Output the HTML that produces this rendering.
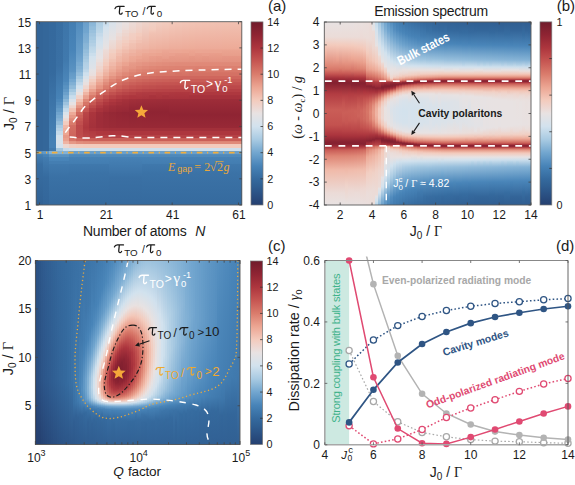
<!DOCTYPE html><html><head><meta charset="utf-8"><style>html,body{margin:0;padding:0;background:#fff;width:575px;height:485px;overflow:hidden}svg{display:block}</style></head><body><svg width="575" height="485" viewBox="0 0 575 485"><rect width="575" height="485" fill="#fff"/><defs><linearGradient id="g0" x1="0" y1="0" x2="0" y2="1"><stop offset=".000" stop-color="#336598"/><stop offset=".703" stop-color="#336598"/><stop offset=".706" stop-color="#5992c1"/><stop offset=".722" stop-color="#5992c1"/><stop offset=".725" stop-color="#437eb2"/><stop offset=".779" stop-color="#386ea2"/><stop offset="1.000" stop-color="#316295"/></linearGradient><linearGradient id="g1" x1="0" y1="0" x2="0" y2="1"><stop offset=".000" stop-color="#34679a"/><stop offset=".703" stop-color="#34679a"/><stop offset=".706" stop-color="#6198c6"/><stop offset=".722" stop-color="#6198c6"/><stop offset=".725" stop-color="#4783b7"/><stop offset=".738" stop-color="#4783b7"/><stop offset=".741" stop-color="#427cb0"/><stop offset=".850" stop-color="#366b9f"/><stop offset="1.000" stop-color="#33669a"/></linearGradient><linearGradient id="g2" x1="0" y1="0" x2="0" y2="1"><stop offset=".000" stop-color="#35699d"/><stop offset=".275" stop-color="#356a9e"/><stop offset=".654" stop-color="#4681b5"/><stop offset=".687" stop-color="#4681b5"/><stop offset=".689" stop-color="#417aae"/><stop offset=".703" stop-color="#417aae"/><stop offset=".706" stop-color="#84b2d5"/><stop offset=".722" stop-color="#84b2d5"/><stop offset=".725" stop-color="#5992c1"/><stop offset=".738" stop-color="#5992c1"/><stop offset=".741" stop-color="#4985b9"/><stop offset=".757" stop-color="#4985b9"/><stop offset=".760" stop-color="#447eb2"/><stop offset=".777" stop-color="#447eb2"/><stop offset=".779" stop-color="#4079ad"/><stop offset=".850" stop-color="#3a71a5"/><stop offset="1.000" stop-color="#356a9e"/></linearGradient><linearGradient id="g3" x1="0" y1="0" x2="0" y2="1"><stop offset=".000" stop-color="#386ea2"/><stop offset=".240" stop-color="#3a70a4"/><stop offset=".420" stop-color="#4783b7"/><stop offset=".422" stop-color="#4c87ba"/><stop offset=".436" stop-color="#4c87ba"/><stop offset=".439" stop-color="#538dbe"/><stop offset=".455" stop-color="#538dbe"/><stop offset=".458" stop-color="#5b93c2"/><stop offset=".471" stop-color="#5b93c2"/><stop offset=".474" stop-color="#649bc7"/><stop offset=".490" stop-color="#649bc7"/><stop offset=".493" stop-color="#70a4ce"/><stop offset=".507" stop-color="#70a4ce"/><stop offset=".510" stop-color="#79abd1"/><stop offset=".526" stop-color="#79abd1"/><stop offset=".529" stop-color="#85b2d6"/><stop offset=".542" stop-color="#85b2d6"/><stop offset=".545" stop-color="#94bddb"/><stop offset=".561" stop-color="#94bddb"/><stop offset=".564" stop-color="#a8cae2"/><stop offset=".578" stop-color="#a8cae2"/><stop offset=".580" stop-color="#b5d1e6"/><stop offset=".597" stop-color="#b5d1e6"/><stop offset=".599" stop-color="#c4daea"/><stop offset=".616" stop-color="#c4daea"/><stop offset=".619" stop-color="#d3e2ed"/><stop offset=".668" stop-color="#dbe2e9"/><stop offset=".670" stop-color="#d3e2ee"/><stop offset=".687" stop-color="#d3e2ee"/><stop offset=".689" stop-color="#a3c7e0"/><stop offset=".703" stop-color="#a3c7e0"/><stop offset=".706" stop-color="#84b2d5"/><stop offset=".722" stop-color="#84b2d5"/><stop offset=".725" stop-color="#5992c1"/><stop offset=".738" stop-color="#5992c1"/><stop offset=".741" stop-color="#4985b9"/><stop offset=".757" stop-color="#4985b9"/><stop offset=".760" stop-color="#447eb2"/><stop offset=".777" stop-color="#447eb2"/><stop offset=".779" stop-color="#4079ad"/><stop offset=".850" stop-color="#3a71a5"/><stop offset="1.000" stop-color="#356a9e"/></linearGradient><linearGradient id="g4" x1="0" y1="0" x2="0" y2="1"><stop offset=".000" stop-color="#3d75a9"/><stop offset=".204" stop-color="#4079ad"/><stop offset=".330" stop-color="#4c87ba"/><stop offset=".332" stop-color="#528cbd"/><stop offset=".346" stop-color="#528cbd"/><stop offset=".349" stop-color="#5992c1"/><stop offset=".365" stop-color="#5992c1"/><stop offset=".368" stop-color="#6198c6"/><stop offset=".381" stop-color="#6198c6"/><stop offset=".384" stop-color="#6ba0cb"/><stop offset=".401" stop-color="#6ba0cb"/><stop offset=".403" stop-color="#78aad1"/><stop offset=".420" stop-color="#78aad1"/><stop offset=".422" stop-color="#8ab6d7"/><stop offset=".436" stop-color="#8ab6d7"/><stop offset=".439" stop-color="#9dc2de"/><stop offset=".455" stop-color="#9dc2de"/><stop offset=".458" stop-color="#b1cfe4"/><stop offset=".471" stop-color="#b1cfe4"/><stop offset=".474" stop-color="#c6dbeb"/><stop offset=".490" stop-color="#c6dbeb"/><stop offset=".493" stop-color="#d9e2ea"/><stop offset=".507" stop-color="#d9e2ea"/><stop offset=".510" stop-color="#e4e2e4"/><stop offset=".526" stop-color="#e4e2e4"/><stop offset=".529" stop-color="#ecd9d3"/><stop offset=".542" stop-color="#ecd9d3"/><stop offset=".545" stop-color="#f3ccbf"/><stop offset=".561" stop-color="#f3ccbf"/><stop offset=".564" stop-color="#f0b9a9"/><stop offset=".578" stop-color="#f0b9a9"/><stop offset=".580" stop-color="#eeb09e"/><stop offset=".597" stop-color="#eeb09e"/><stop offset=".599" stop-color="#eca693"/><stop offset=".616" stop-color="#eca693"/><stop offset=".619" stop-color="#e79a88"/><stop offset=".632" stop-color="#e79a88"/><stop offset=".635" stop-color="#eaa08e"/><stop offset=".651" stop-color="#eaa08e"/><stop offset=".654" stop-color="#efb4a3"/><stop offset=".668" stop-color="#efb4a3"/><stop offset=".670" stop-color="#edd7d0"/><stop offset=".687" stop-color="#edd7d0"/><stop offset=".689" stop-color="#c5daea"/><stop offset=".703" stop-color="#c5daea"/><stop offset=".706" stop-color="#84b2d5"/><stop offset=".722" stop-color="#84b2d5"/><stop offset=".725" stop-color="#5992c1"/><stop offset=".738" stop-color="#5992c1"/><stop offset=".741" stop-color="#4985b9"/><stop offset=".757" stop-color="#4985b9"/><stop offset=".760" stop-color="#447eb2"/><stop offset=".777" stop-color="#447eb2"/><stop offset=".779" stop-color="#4079ad"/><stop offset=".850" stop-color="#3a71a5"/><stop offset="1.000" stop-color="#356a9e"/></linearGradient><linearGradient id="g5" x1="0" y1="0" x2="0" y2="1"><stop offset=".000" stop-color="#447eb2"/><stop offset=".150" stop-color="#4884b8"/><stop offset=".275" stop-color="#5b93c2"/><stop offset=".278" stop-color="#6299c6"/><stop offset=".311" stop-color="#6aa0cb"/><stop offset=".313" stop-color="#74a7d0"/><stop offset=".330" stop-color="#74a7d0"/><stop offset=".332" stop-color="#81b0d4"/><stop offset=".346" stop-color="#81b0d4"/><stop offset=".349" stop-color="#90bad9"/><stop offset=".365" stop-color="#90bad9"/><stop offset=".368" stop-color="#a3c7e0"/><stop offset=".381" stop-color="#a3c7e0"/><stop offset=".384" stop-color="#b5d2e6"/><stop offset=".401" stop-color="#b5d2e6"/><stop offset=".403" stop-color="#c9ddec"/><stop offset=".420" stop-color="#c9ddec"/><stop offset=".422" stop-color="#dae2ea"/><stop offset=".436" stop-color="#dae2ea"/><stop offset=".439" stop-color="#e6e2e3"/><stop offset=".455" stop-color="#e6e2e3"/><stop offset=".458" stop-color="#eed5cd"/><stop offset=".471" stop-color="#eed5cd"/><stop offset=".474" stop-color="#f1c3b4"/><stop offset=".490" stop-color="#f1c3b4"/><stop offset=".493" stop-color="#edaa98"/><stop offset=".507" stop-color="#edaa98"/><stop offset=".510" stop-color="#e79a88"/><stop offset=".526" stop-color="#e79a88"/><stop offset=".529" stop-color="#e08a79"/><stop offset=".542" stop-color="#e08a79"/><stop offset=".545" stop-color="#d97b6b"/><stop offset=".561" stop-color="#d97b6b"/><stop offset=".564" stop-color="#d36e63"/><stop offset=".632" stop-color="#cd635b"/><stop offset=".635" stop-color="#d67567"/><stop offset=".651" stop-color="#d67567"/><stop offset=".654" stop-color="#e69886"/><stop offset=".668" stop-color="#e69886"/><stop offset=".670" stop-color="#f1cec2"/><stop offset=".687" stop-color="#f1cec2"/><stop offset=".689" stop-color="#cbdeec"/><stop offset=".703" stop-color="#cbdeec"/><stop offset=".706" stop-color="#6a9fca"/><stop offset=".722" stop-color="#6a9fca"/><stop offset=".725" stop-color="#4e89bb"/><stop offset=".738" stop-color="#4e89bb"/><stop offset=".741" stop-color="#4681b5"/><stop offset=".777" stop-color="#437db1"/><stop offset=".779" stop-color="#3f78ac"/><stop offset=".831" stop-color="#3b72a6"/><stop offset="1.000" stop-color="#356a9e"/></linearGradient><linearGradient id="g6" x1="0" y1="0" x2="0" y2="1"><stop offset=".000" stop-color="#518bbd"/><stop offset=".169" stop-color="#679dc9"/><stop offset=".221" stop-color="#74a7d0"/><stop offset=".223" stop-color="#7aabd2"/><stop offset=".240" stop-color="#7aabd2"/><stop offset=".243" stop-color="#81b0d4"/><stop offset=".259" stop-color="#81b0d4"/><stop offset=".262" stop-color="#89b5d7"/><stop offset=".275" stop-color="#89b5d7"/><stop offset=".278" stop-color="#96bedc"/><stop offset=".294" stop-color="#96bedc"/><stop offset=".297" stop-color="#a6c9e1"/><stop offset=".311" stop-color="#a6c9e1"/><stop offset=".313" stop-color="#b4d1e5"/><stop offset=".330" stop-color="#b4d1e5"/><stop offset=".332" stop-color="#c3d9ea"/><stop offset=".346" stop-color="#c3d9ea"/><stop offset=".349" stop-color="#d2e2ee"/><stop offset=".365" stop-color="#d2e2ee"/><stop offset=".368" stop-color="#dee2e8"/><stop offset=".381" stop-color="#dee2e8"/><stop offset=".384" stop-color="#e9e0de"/><stop offset=".401" stop-color="#e9e0de"/><stop offset=".403" stop-color="#f0d2c8"/><stop offset=".420" stop-color="#f0d2c8"/><stop offset=".422" stop-color="#f1bfaf"/><stop offset=".436" stop-color="#f1bfaf"/><stop offset=".439" stop-color="#edab98"/><stop offset=".455" stop-color="#edab98"/><stop offset=".458" stop-color="#e49483"/><stop offset=".471" stop-color="#e49483"/><stop offset=".474" stop-color="#db7d6d"/><stop offset=".490" stop-color="#db7d6d"/><stop offset=".493" stop-color="#d0695f"/><stop offset=".507" stop-color="#d0695f"/><stop offset=".510" stop-color="#cb5f58"/><stop offset=".526" stop-color="#cb5f58"/><stop offset=".529" stop-color="#c65652"/><stop offset=".542" stop-color="#c65652"/><stop offset=".545" stop-color="#c14f4e"/><stop offset=".561" stop-color="#c14f4e"/><stop offset=".564" stop-color="#bc494a"/><stop offset=".616" stop-color="#be4b4b"/><stop offset=".632" stop-color="#c04f4d"/><stop offset=".635" stop-color="#cf665d"/><stop offset=".651" stop-color="#cf665d"/><stop offset=".654" stop-color="#e28e7d"/><stop offset=".668" stop-color="#e28e7d"/><stop offset=".670" stop-color="#f3ccbe"/><stop offset=".687" stop-color="#f3ccbe"/><stop offset=".689" stop-color="#ccdfec"/><stop offset=".703" stop-color="#ccdfec"/><stop offset=".706" stop-color="#6a9fca"/><stop offset=".722" stop-color="#6a9fca"/><stop offset=".725" stop-color="#4e89bb"/><stop offset=".738" stop-color="#4e89bb"/><stop offset=".741" stop-color="#4681b5"/><stop offset=".777" stop-color="#437db1"/><stop offset=".779" stop-color="#3f78ac"/><stop offset=".831" stop-color="#3b72a6"/><stop offset="1.000" stop-color="#356a9e"/></linearGradient><linearGradient id="g7" x1="0" y1="0" x2="0" y2="1"><stop offset=".000" stop-color="#699eca"/><stop offset=".060" stop-color="#72a6cf"/><stop offset=".063" stop-color="#77a9d1"/><stop offset=".114" stop-color="#81b0d4"/><stop offset=".117" stop-color="#87b4d6"/><stop offset=".150" stop-color="#8cb8d8"/><stop offset=".153" stop-color="#94bddb"/><stop offset=".169" stop-color="#94bddb"/><stop offset=".172" stop-color="#9bc1dd"/><stop offset=".185" stop-color="#9bc1dd"/><stop offset=".188" stop-color="#a2c6e0"/><stop offset=".204" stop-color="#a2c6e0"/><stop offset=".207" stop-color="#aacbe2"/><stop offset=".221" stop-color="#aacbe2"/><stop offset=".223" stop-color="#b1cfe5"/><stop offset=".259" stop-color="#b8d3e7"/><stop offset=".262" stop-color="#c1d8e9"/><stop offset=".275" stop-color="#c1d8e9"/><stop offset=".278" stop-color="#cfe0ed"/><stop offset=".294" stop-color="#cfe0ed"/><stop offset=".297" stop-color="#d9e2ea"/><stop offset=".311" stop-color="#d9e2ea"/><stop offset=".313" stop-color="#e2e2e5"/><stop offset=".330" stop-color="#e2e2e5"/><stop offset=".332" stop-color="#e9dfde"/><stop offset=".346" stop-color="#e9dfde"/><stop offset=".349" stop-color="#eed6cf"/><stop offset=".365" stop-color="#eed6cf"/><stop offset=".368" stop-color="#f3c9bb"/><stop offset=".381" stop-color="#f3c9bb"/><stop offset=".384" stop-color="#efb5a4"/><stop offset=".401" stop-color="#efb5a4"/><stop offset=".403" stop-color="#e9a08e"/><stop offset=".420" stop-color="#e9a08e"/><stop offset=".422" stop-color="#df8877"/><stop offset=".436" stop-color="#df8877"/><stop offset=".439" stop-color="#d77668"/><stop offset=".455" stop-color="#d77668"/><stop offset=".458" stop-color="#ce655c"/><stop offset=".471" stop-color="#ce655c"/><stop offset=".474" stop-color="#c55451"/><stop offset=".490" stop-color="#c55451"/><stop offset=".493" stop-color="#ba4648"/><stop offset=".578" stop-color="#ae373e"/><stop offset=".632" stop-color="#ba4748"/><stop offset=".635" stop-color="#cc6159"/><stop offset=".651" stop-color="#cc6159"/><stop offset=".654" stop-color="#e18b7a"/><stop offset=".668" stop-color="#e18b7a"/><stop offset=".670" stop-color="#f3cbbd"/><stop offset=".687" stop-color="#f3cbbd"/><stop offset=".689" stop-color="#cddfec"/><stop offset=".703" stop-color="#cddfec"/><stop offset=".706" stop-color="#6a9fca"/><stop offset=".722" stop-color="#6a9fca"/><stop offset=".725" stop-color="#4e89bb"/><stop offset=".738" stop-color="#4e89bb"/><stop offset=".741" stop-color="#4681b5"/><stop offset=".777" stop-color="#437db1"/><stop offset=".779" stop-color="#3f78ac"/><stop offset=".831" stop-color="#3b72a6"/><stop offset="1.000" stop-color="#356a9e"/></linearGradient><linearGradient id="g8" x1="0" y1="0" x2="0" y2="1"><stop offset=".000" stop-color="#89b5d7"/><stop offset=".025" stop-color="#8eb9d9"/><stop offset=".027" stop-color="#94bddb"/><stop offset=".044" stop-color="#94bddb"/><stop offset=".046" stop-color="#9ac1dd"/><stop offset=".060" stop-color="#9ac1dd"/><stop offset=".063" stop-color="#a1c5df"/><stop offset=".079" stop-color="#a1c5df"/><stop offset=".082" stop-color="#a7cae2"/><stop offset=".098" stop-color="#a7cae2"/><stop offset=".101" stop-color="#adcde3"/><stop offset=".114" stop-color="#adcde3"/><stop offset=".117" stop-color="#b3d0e5"/><stop offset=".134" stop-color="#b3d0e5"/><stop offset=".136" stop-color="#bbd5e7"/><stop offset=".169" stop-color="#c3daea"/><stop offset=".172" stop-color="#cbdeec"/><stop offset=".185" stop-color="#cbdeec"/><stop offset=".188" stop-color="#d2e2ee"/><stop offset=".259" stop-color="#dfe2e7"/><stop offset=".262" stop-color="#e5e2e4"/><stop offset=".294" stop-color="#eadedc"/><stop offset=".297" stop-color="#eed6cf"/><stop offset=".311" stop-color="#eed6cf"/><stop offset=".313" stop-color="#f2cec1"/><stop offset=".330" stop-color="#f2cec1"/><stop offset=".332" stop-color="#f1c2b2"/><stop offset=".346" stop-color="#f1c2b2"/><stop offset=".349" stop-color="#efb4a3"/><stop offset=".365" stop-color="#efb4a3"/><stop offset=".368" stop-color="#eaa18f"/><stop offset=".381" stop-color="#eaa18f"/><stop offset=".384" stop-color="#e18c7b"/><stop offset=".401" stop-color="#e18c7b"/><stop offset=".403" stop-color="#d87869"/><stop offset=".420" stop-color="#d87869"/><stop offset=".422" stop-color="#cd645c"/><stop offset=".436" stop-color="#cd645c"/><stop offset=".439" stop-color="#c65652"/><stop offset=".455" stop-color="#c65652"/><stop offset=".458" stop-color="#bc4a4a"/><stop offset=".471" stop-color="#bc4a4a"/><stop offset=".474" stop-color="#b33e43"/><stop offset=".490" stop-color="#b33e43"/><stop offset=".493" stop-color="#ab353d"/><stop offset=".578" stop-color="#a4313b"/><stop offset=".580" stop-color="#aa343d"/><stop offset=".597" stop-color="#aa343d"/><stop offset=".599" stop-color="#b13b41"/><stop offset=".632" stop-color="#b74346"/><stop offset=".635" stop-color="#cb5f58"/><stop offset=".651" stop-color="#cb5f58"/><stop offset=".654" stop-color="#e08a79"/><stop offset=".668" stop-color="#e08a79"/><stop offset=".670" stop-color="#f3cbbd"/><stop offset=".687" stop-color="#f3cbbd"/><stop offset=".689" stop-color="#cddfec"/><stop offset=".703" stop-color="#cddfec"/><stop offset=".706" stop-color="#6a9fca"/><stop offset=".722" stop-color="#6a9fca"/><stop offset=".725" stop-color="#4e89bb"/><stop offset=".738" stop-color="#4e89bb"/><stop offset=".741" stop-color="#4681b5"/><stop offset=".777" stop-color="#437db1"/><stop offset=".779" stop-color="#3f78ac"/><stop offset=".831" stop-color="#3b72a6"/><stop offset="1.000" stop-color="#356a9e"/></linearGradient><linearGradient id="g9" x1="0" y1="0" x2="0" y2="1"><stop offset=".000" stop-color="#adcde3"/><stop offset=".060" stop-color="#bed7e8"/><stop offset=".063" stop-color="#c5daea"/><stop offset=".079" stop-color="#c5daea"/><stop offset=".082" stop-color="#ccdeec"/><stop offset=".114" stop-color="#d2e2ee"/><stop offset=".150" stop-color="#dae2e9"/><stop offset=".153" stop-color="#e0e2e7"/><stop offset=".204" stop-color="#e7e2e3"/><stop offset=".207" stop-color="#e9dfdd"/><stop offset=".221" stop-color="#e9dfdd"/><stop offset=".223" stop-color="#ecdad6"/><stop offset=".240" stop-color="#ecdad6"/><stop offset=".243" stop-color="#eed6ce"/><stop offset=".259" stop-color="#eed6ce"/><stop offset=".262" stop-color="#f0d0c6"/><stop offset=".275" stop-color="#f0d0c6"/><stop offset=".278" stop-color="#f3c9bb"/><stop offset=".294" stop-color="#f3c9bb"/><stop offset=".297" stop-color="#f0bdad"/><stop offset=".311" stop-color="#f0bdad"/><stop offset=".313" stop-color="#eeb09e"/><stop offset=".330" stop-color="#eeb09e"/><stop offset=".332" stop-color="#eba390"/><stop offset=".346" stop-color="#eba390"/><stop offset=".349" stop-color="#e59583"/><stop offset=".365" stop-color="#e59583"/><stop offset=".368" stop-color="#dc8271"/><stop offset=".381" stop-color="#dc8271"/><stop offset=".384" stop-color="#d47064"/><stop offset=".401" stop-color="#d47064"/><stop offset=".403" stop-color="#ca5e58"/><stop offset=".420" stop-color="#ca5e58"/><stop offset=".422" stop-color="#c04e4d"/><stop offset=".436" stop-color="#c04e4d"/><stop offset=".439" stop-color="#b84447"/><stop offset=".455" stop-color="#b84447"/><stop offset=".458" stop-color="#b03a41"/><stop offset=".471" stop-color="#b03a41"/><stop offset=".474" stop-color="#a8333c"/><stop offset=".490" stop-color="#a8333c"/><stop offset=".493" stop-color="#a02e39"/><stop offset=".529" stop-color="#9e2d39"/><stop offset=".578" stop-color="#9f2d39"/><stop offset=".580" stop-color="#a6323c"/><stop offset=".597" stop-color="#a6323c"/><stop offset=".599" stop-color="#af383f"/><stop offset=".616" stop-color="#af383f"/><stop offset=".619" stop-color="#b64245"/><stop offset=".632" stop-color="#b64245"/><stop offset=".635" stop-color="#ca5e57"/><stop offset=".651" stop-color="#ca5e57"/><stop offset=".654" stop-color="#e08a79"/><stop offset=".668" stop-color="#e08a79"/><stop offset=".670" stop-color="#f3cbbd"/><stop offset=".687" stop-color="#f3cbbd"/><stop offset=".689" stop-color="#cddfec"/><stop offset=".703" stop-color="#cddfec"/><stop offset=".706" stop-color="#6a9fca"/><stop offset=".722" stop-color="#6a9fca"/><stop offset=".725" stop-color="#4e89bb"/><stop offset=".738" stop-color="#4e89bb"/><stop offset=".741" stop-color="#4681b5"/><stop offset=".777" stop-color="#437db1"/><stop offset=".779" stop-color="#3f78ac"/><stop offset=".831" stop-color="#3b72a6"/><stop offset="1.000" stop-color="#356a9e"/></linearGradient><linearGradient id="g10" x1="0" y1="0" x2="0" y2="1"><stop offset=".000" stop-color="#c7dceb"/><stop offset=".025" stop-color="#cddfed"/><stop offset=".027" stop-color="#d3e2ee"/><stop offset=".134" stop-color="#e5e2e3"/><stop offset=".150" stop-color="#e9e0df"/><stop offset=".153" stop-color="#ebdbd7"/><stop offset=".204" stop-color="#efd3cb"/><stop offset=".207" stop-color="#f1d0c4"/><stop offset=".221" stop-color="#f1d0c4"/><stop offset=".223" stop-color="#f3cbbd"/><stop offset=".240" stop-color="#f3cbbd"/><stop offset=".243" stop-color="#f2c3b4"/><stop offset=".259" stop-color="#f2c3b4"/><stop offset=".262" stop-color="#f0bbab"/><stop offset=".275" stop-color="#f0bbab"/><stop offset=".278" stop-color="#eeb2a0"/><stop offset=".294" stop-color="#eeb2a0"/><stop offset=".297" stop-color="#eca693"/><stop offset=".311" stop-color="#eca693"/><stop offset=".313" stop-color="#e69886"/><stop offset=".330" stop-color="#e69886"/><stop offset=".332" stop-color="#e08b7a"/><stop offset=".346" stop-color="#e08b7a"/><stop offset=".349" stop-color="#db7d6d"/><stop offset=".365" stop-color="#db7d6d"/><stop offset=".368" stop-color="#d26d62"/><stop offset=".381" stop-color="#d26d62"/><stop offset=".384" stop-color="#ca5d57"/><stop offset=".401" stop-color="#ca5d57"/><stop offset=".403" stop-color="#c04e4d"/><stop offset=".420" stop-color="#c04e4d"/><stop offset=".422" stop-color="#b64145"/><stop offset=".436" stop-color="#b64145"/><stop offset=".439" stop-color="#af383f"/><stop offset=".455" stop-color="#af383f"/><stop offset=".458" stop-color="#a7333c"/><stop offset=".490" stop-color="#a02e39"/><stop offset=".493" stop-color="#992a37"/><stop offset=".578" stop-color="#9c2c38"/><stop offset=".580" stop-color="#a4313b"/><stop offset=".597" stop-color="#a4313b"/><stop offset=".599" stop-color="#ae373e"/><stop offset=".616" stop-color="#ae373e"/><stop offset=".619" stop-color="#b64145"/><stop offset=".632" stop-color="#b64145"/><stop offset=".635" stop-color="#ca5e57"/><stop offset=".651" stop-color="#ca5e57"/><stop offset=".654" stop-color="#e08a79"/><stop offset=".668" stop-color="#e08a79"/><stop offset=".670" stop-color="#f3cbbd"/><stop offset=".687" stop-color="#f3cbbd"/><stop offset=".689" stop-color="#cddfec"/><stop offset=".703" stop-color="#cddfec"/><stop offset=".706" stop-color="#6a9fca"/><stop offset=".722" stop-color="#6a9fca"/><stop offset=".725" stop-color="#4e89bb"/><stop offset=".738" stop-color="#4e89bb"/><stop offset=".741" stop-color="#4681b5"/><stop offset=".777" stop-color="#437db1"/><stop offset=".779" stop-color="#3f78ac"/><stop offset=".831" stop-color="#3b72a6"/><stop offset="1.000" stop-color="#356a9e"/></linearGradient><linearGradient id="g11" x1="0" y1="0" x2="0" y2="1"><stop offset=".000" stop-color="#d8e2eb"/><stop offset=".098" stop-color="#e8e1e0"/><stop offset=".101" stop-color="#eaddda"/><stop offset=".150" stop-color="#eed5cd"/><stop offset=".153" stop-color="#f1d0c4"/><stop offset=".169" stop-color="#f1d0c4"/><stop offset=".172" stop-color="#f3ccbe"/><stop offset=".204" stop-color="#f2c7b8"/><stop offset=".207" stop-color="#f1c1b1"/><stop offset=".221" stop-color="#f1c1b1"/><stop offset=".223" stop-color="#f0b9a9"/><stop offset=".240" stop-color="#f0b9a9"/><stop offset=".243" stop-color="#eeb2a0"/><stop offset=".259" stop-color="#eeb2a0"/><stop offset=".262" stop-color="#edaa97"/><stop offset=".275" stop-color="#edaa97"/><stop offset=".278" stop-color="#e9a08d"/><stop offset=".294" stop-color="#e9a08d"/><stop offset=".297" stop-color="#e49381"/><stop offset=".311" stop-color="#e49381"/><stop offset=".313" stop-color="#de8675"/><stop offset=".330" stop-color="#de8675"/><stop offset=".332" stop-color="#d9796a"/><stop offset=".346" stop-color="#d9796a"/><stop offset=".349" stop-color="#d26e62"/><stop offset=".365" stop-color="#d26e62"/><stop offset=".368" stop-color="#cb5f58"/><stop offset=".381" stop-color="#cb5f58"/><stop offset=".384" stop-color="#c2514f"/><stop offset=".401" stop-color="#c2514f"/><stop offset=".403" stop-color="#b84447"/><stop offset=".420" stop-color="#b84447"/><stop offset=".422" stop-color="#af383f"/><stop offset=".436" stop-color="#af383f"/><stop offset=".439" stop-color="#a8333c"/><stop offset=".455" stop-color="#a8333c"/><stop offset=".458" stop-color="#a12f3a"/><stop offset=".490" stop-color="#9b2b37"/><stop offset=".493" stop-color="#952835"/><stop offset=".578" stop-color="#9a2b37"/><stop offset=".580" stop-color="#a3303a"/><stop offset=".597" stop-color="#a3303a"/><stop offset=".599" stop-color="#ad363e"/><stop offset=".616" stop-color="#ad363e"/><stop offset=".619" stop-color="#b54145"/><stop offset=".632" stop-color="#b54145"/><stop offset=".635" stop-color="#ca5e57"/><stop offset=".651" stop-color="#ca5e57"/><stop offset=".654" stop-color="#e08a79"/><stop offset=".668" stop-color="#e08a79"/><stop offset=".670" stop-color="#f3cbbd"/><stop offset=".687" stop-color="#f3cbbd"/><stop offset=".689" stop-color="#cddfec"/><stop offset=".703" stop-color="#cddfec"/><stop offset=".706" stop-color="#6a9fca"/><stop offset=".722" stop-color="#6a9fca"/><stop offset=".725" stop-color="#4e89bb"/><stop offset=".738" stop-color="#4e89bb"/><stop offset=".741" stop-color="#4681b5"/><stop offset=".850" stop-color="#3a70a4"/><stop offset="1.000" stop-color="#356a9e"/></linearGradient><linearGradient id="g12" x1="0" y1="0" x2="0" y2="1"><stop offset=".000" stop-color="#e1e2e6"/><stop offset=".060" stop-color="#e9dfde"/><stop offset=".063" stop-color="#ebdcd8"/><stop offset=".079" stop-color="#ebdcd8"/><stop offset=".082" stop-color="#edd8d2"/><stop offset=".098" stop-color="#edd8d2"/><stop offset=".101" stop-color="#efd4cc"/><stop offset=".150" stop-color="#f2cdbf"/><stop offset=".153" stop-color="#f2c5b6"/><stop offset=".169" stop-color="#f2c5b6"/><stop offset=".172" stop-color="#f1bfb0"/><stop offset=".185" stop-color="#f1bfb0"/><stop offset=".188" stop-color="#f0baa9"/><stop offset=".221" stop-color="#efb4a3"/><stop offset=".223" stop-color="#edac9a"/><stop offset=".240" stop-color="#edac9a"/><stop offset=".243" stop-color="#eba592"/><stop offset=".259" stop-color="#eba592"/><stop offset=".262" stop-color="#e89c8a"/><stop offset=".275" stop-color="#e89c8a"/><stop offset=".278" stop-color="#e49281"/><stop offset=".294" stop-color="#e49281"/><stop offset=".297" stop-color="#de8675"/><stop offset=".311" stop-color="#de8675"/><stop offset=".313" stop-color="#d9796a"/><stop offset=".330" stop-color="#d9796a"/><stop offset=".332" stop-color="#d36e62"/><stop offset=".346" stop-color="#d36e62"/><stop offset=".349" stop-color="#cd635b"/><stop offset=".365" stop-color="#cd635b"/><stop offset=".368" stop-color="#c55551"/><stop offset=".381" stop-color="#c55551"/><stop offset=".384" stop-color="#bc494a"/><stop offset=".401" stop-color="#bc494a"/><stop offset=".403" stop-color="#b33d43"/><stop offset=".420" stop-color="#b33d43"/><stop offset=".422" stop-color="#a9343d"/><stop offset=".436" stop-color="#a9343d"/><stop offset=".439" stop-color="#a3303a"/><stop offset=".455" stop-color="#a3303a"/><stop offset=".458" stop-color="#9d2d38"/><stop offset=".490" stop-color="#982936"/><stop offset=".493" stop-color="#932634"/><stop offset=".578" stop-color="#992a37"/><stop offset=".580" stop-color="#a3303a"/><stop offset=".597" stop-color="#a3303a"/><stop offset=".599" stop-color="#ad363e"/><stop offset=".616" stop-color="#ad363e"/><stop offset=".619" stop-color="#b54145"/><stop offset=".632" stop-color="#b54145"/><stop offset=".635" stop-color="#ca5e57"/><stop offset=".651" stop-color="#ca5e57"/><stop offset=".654" stop-color="#e08a79"/><stop offset=".668" stop-color="#e08a79"/><stop offset=".670" stop-color="#f3cbbd"/><stop offset=".687" stop-color="#f3cbbd"/><stop offset=".689" stop-color="#cddfec"/><stop offset=".703" stop-color="#cddfec"/><stop offset=".706" stop-color="#6a9fca"/><stop offset=".722" stop-color="#6a9fca"/><stop offset=".725" stop-color="#4e89bb"/><stop offset=".738" stop-color="#4e89bb"/><stop offset=".741" stop-color="#4681b5"/><stop offset=".850" stop-color="#3a70a4"/><stop offset="1.000" stop-color="#356a9e"/></linearGradient><linearGradient id="g13" x1="0" y1="0" x2="0" y2="1"><stop offset=".000" stop-color="#e8e2e2"/><stop offset=".044" stop-color="#ebdcd8"/><stop offset=".046" stop-color="#edd8d2"/><stop offset=".060" stop-color="#edd8d2"/><stop offset=".063" stop-color="#eed5cd"/><stop offset=".079" stop-color="#eed5cd"/><stop offset=".082" stop-color="#f0d1c7"/><stop offset=".098" stop-color="#f0d1c7"/><stop offset=".101" stop-color="#f2cec1"/><stop offset=".114" stop-color="#f2cec1"/><stop offset=".117" stop-color="#f3c9bb"/><stop offset=".134" stop-color="#f3c9bb"/><stop offset=".136" stop-color="#f2c4b5"/><stop offset=".150" stop-color="#f2c4b5"/><stop offset=".153" stop-color="#f0bcac"/><stop offset=".169" stop-color="#f0bcac"/><stop offset=".172" stop-color="#efb6a5"/><stop offset=".221" stop-color="#edab98"/><stop offset=".223" stop-color="#eba390"/><stop offset=".240" stop-color="#eba390"/><stop offset=".243" stop-color="#e79a88"/><stop offset=".275" stop-color="#e39280"/><stop offset=".278" stop-color="#df8877"/><stop offset=".294" stop-color="#df8877"/><stop offset=".297" stop-color="#da7c6c"/><stop offset=".311" stop-color="#da7c6c"/><stop offset=".313" stop-color="#d47164"/><stop offset=".330" stop-color="#d47164"/><stop offset=".332" stop-color="#ce665d"/><stop offset=".346" stop-color="#ce665d"/><stop offset=".349" stop-color="#c95b55"/><stop offset=".365" stop-color="#c95b55"/><stop offset=".368" stop-color="#c04f4e"/><stop offset=".381" stop-color="#c04f4e"/><stop offset=".384" stop-color="#b84447"/><stop offset=".401" stop-color="#b84447"/><stop offset=".403" stop-color="#af3940"/><stop offset=".420" stop-color="#af3940"/><stop offset=".422" stop-color="#a6323b"/><stop offset=".490" stop-color="#962836"/><stop offset=".493" stop-color="#912534"/><stop offset=".578" stop-color="#992a37"/><stop offset=".580" stop-color="#a3303a"/><stop offset=".597" stop-color="#a3303a"/><stop offset=".599" stop-color="#ad363e"/><stop offset=".616" stop-color="#ad363e"/><stop offset=".619" stop-color="#b54145"/><stop offset=".632" stop-color="#b54145"/><stop offset=".635" stop-color="#ca5e57"/><stop offset=".651" stop-color="#ca5e57"/><stop offset=".654" stop-color="#e08a79"/><stop offset=".668" stop-color="#e08a79"/><stop offset=".670" stop-color="#f3cbbd"/><stop offset=".687" stop-color="#f3cbbd"/><stop offset=".689" stop-color="#cddfec"/><stop offset=".703" stop-color="#cddfec"/><stop offset=".706" stop-color="#6a9fca"/><stop offset=".722" stop-color="#6a9fca"/><stop offset=".725" stop-color="#4e89bb"/><stop offset=".738" stop-color="#4e89bb"/><stop offset=".741" stop-color="#4681b5"/><stop offset=".850" stop-color="#3a70a4"/><stop offset="1.000" stop-color="#356a9e"/></linearGradient><linearGradient id="g14" x1="0" y1="0" x2="0" y2="1"><stop offset=".000" stop-color="#ebdcd9"/><stop offset=".060" stop-color="#efd3c9"/><stop offset=".063" stop-color="#f1cfc4"/><stop offset=".098" stop-color="#f3ccbf"/><stop offset=".101" stop-color="#f2c7b9"/><stop offset=".114" stop-color="#f2c7b9"/><stop offset=".117" stop-color="#f1c2b3"/><stop offset=".150" stop-color="#f0bdad"/><stop offset=".153" stop-color="#efb5a4"/><stop offset=".169" stop-color="#efb5a4"/><stop offset=".172" stop-color="#eeaf9e"/><stop offset=".185" stop-color="#eeaf9e"/><stop offset=".188" stop-color="#edaa97"/><stop offset=".221" stop-color="#eba491"/><stop offset=".223" stop-color="#e79b89"/><stop offset=".259" stop-color="#e49381"/><stop offset=".262" stop-color="#e08a79"/><stop offset=".275" stop-color="#e08a79"/><stop offset=".278" stop-color="#dc8171"/><stop offset=".294" stop-color="#dc8171"/><stop offset=".297" stop-color="#d77668"/><stop offset=".311" stop-color="#d77668"/><stop offset=".313" stop-color="#d16b60"/><stop offset=".330" stop-color="#d16b60"/><stop offset=".332" stop-color="#cb6059"/><stop offset=".346" stop-color="#cb6059"/><stop offset=".349" stop-color="#c55552"/><stop offset=".365" stop-color="#c55552"/><stop offset=".368" stop-color="#bd4b4b"/><stop offset=".381" stop-color="#bd4b4b"/><stop offset=".384" stop-color="#b54044"/><stop offset=".401" stop-color="#b54044"/><stop offset=".403" stop-color="#ad363e"/><stop offset=".420" stop-color="#ad363e"/><stop offset=".422" stop-color="#a3303a"/><stop offset=".474" stop-color="#952735"/><stop offset=".507" stop-color="#902534"/><stop offset=".578" stop-color="#982a36"/><stop offset=".580" stop-color="#a2303a"/><stop offset=".597" stop-color="#a2303a"/><stop offset=".599" stop-color="#ad363e"/><stop offset=".616" stop-color="#ad363e"/><stop offset=".619" stop-color="#b54145"/><stop offset=".632" stop-color="#b54145"/><stop offset=".635" stop-color="#ca5e57"/><stop offset=".651" stop-color="#ca5e57"/><stop offset=".654" stop-color="#e08a79"/><stop offset=".668" stop-color="#e08a79"/><stop offset=".670" stop-color="#f3cbbd"/><stop offset=".687" stop-color="#f3cbbd"/><stop offset=".689" stop-color="#cddfec"/><stop offset=".703" stop-color="#cddfec"/><stop offset=".706" stop-color="#6a9fca"/><stop offset=".722" stop-color="#6a9fca"/><stop offset=".725" stop-color="#4e89bb"/><stop offset=".738" stop-color="#4e89bb"/><stop offset=".741" stop-color="#4681b5"/><stop offset=".850" stop-color="#3a70a4"/><stop offset="1.000" stop-color="#356a9e"/></linearGradient><linearGradient id="g15" x1="0" y1="0" x2="0" y2="1"><stop offset=".000" stop-color="#edd7d1"/><stop offset=".060" stop-color="#f1cec2"/><stop offset=".063" stop-color="#f3cbbd"/><stop offset=".079" stop-color="#f3cbbd"/><stop offset=".082" stop-color="#f2c6b8"/><stop offset=".098" stop-color="#f2c6b8"/><stop offset=".101" stop-color="#f1c1b2"/><stop offset=".114" stop-color="#f1c1b2"/><stop offset=".117" stop-color="#f0bcac"/><stop offset=".150" stop-color="#efb7a7"/><stop offset=".153" stop-color="#eeb09f"/><stop offset=".185" stop-color="#edab98"/><stop offset=".188" stop-color="#eca592"/><stop offset=".204" stop-color="#eca592"/><stop offset=".207" stop-color="#e99e8c"/><stop offset=".221" stop-color="#e99e8c"/><stop offset=".223" stop-color="#e59684"/><stop offset=".240" stop-color="#e59684"/><stop offset=".243" stop-color="#e28e7c"/><stop offset=".259" stop-color="#e28e7c"/><stop offset=".262" stop-color="#de8574"/><stop offset=".275" stop-color="#de8574"/><stop offset=".278" stop-color="#da7c6c"/><stop offset=".294" stop-color="#da7c6c"/><stop offset=".297" stop-color="#d47165"/><stop offset=".311" stop-color="#d47165"/><stop offset=".313" stop-color="#cf675d"/><stop offset=".330" stop-color="#cf675d"/><stop offset=".332" stop-color="#c95c56"/><stop offset=".346" stop-color="#c95c56"/><stop offset=".349" stop-color="#c3524f"/><stop offset=".365" stop-color="#c3524f"/><stop offset=".368" stop-color="#bb4849"/><stop offset=".381" stop-color="#bb4849"/><stop offset=".384" stop-color="#b33d43"/><stop offset=".420" stop-color="#ab353d"/><stop offset=".422" stop-color="#a12f3a"/><stop offset=".493" stop-color="#902433"/><stop offset=".578" stop-color="#982a36"/><stop offset=".580" stop-color="#a2303a"/><stop offset=".597" stop-color="#a2303a"/><stop offset=".599" stop-color="#ad363e"/><stop offset=".616" stop-color="#ad363e"/><stop offset=".619" stop-color="#b54145"/><stop offset=".632" stop-color="#b54145"/><stop offset=".635" stop-color="#ca5e57"/><stop offset=".651" stop-color="#ca5e57"/><stop offset=".654" stop-color="#e08a79"/><stop offset=".668" stop-color="#e08a79"/><stop offset=".670" stop-color="#f3cbbd"/><stop offset=".687" stop-color="#f3cbbd"/><stop offset=".689" stop-color="#cddfec"/><stop offset=".703" stop-color="#cddfec"/><stop offset=".706" stop-color="#6a9fca"/><stop offset=".722" stop-color="#6a9fca"/><stop offset=".725" stop-color="#4e89bb"/><stop offset=".738" stop-color="#4e89bb"/><stop offset=".741" stop-color="#4681b5"/><stop offset=".850" stop-color="#3a70a4"/><stop offset="1.000" stop-color="#356a9e"/></linearGradient><linearGradient id="g16" x1="0" y1="0" x2="0" y2="1"><stop offset=".000" stop-color="#efd4cb"/><stop offset=".150" stop-color="#efb4a3"/><stop offset=".153" stop-color="#edad9b"/><stop offset=".169" stop-color="#edad9b"/><stop offset=".172" stop-color="#eca794"/><stop offset=".221" stop-color="#e79b88"/><stop offset=".223" stop-color="#e49281"/><stop offset=".240" stop-color="#e49281"/><stop offset=".243" stop-color="#e08a79"/><stop offset=".259" stop-color="#e08a79"/><stop offset=".262" stop-color="#dc8171"/><stop offset=".275" stop-color="#dc8171"/><stop offset=".278" stop-color="#d8796a"/><stop offset=".294" stop-color="#d8796a"/><stop offset=".297" stop-color="#d36e63"/><stop offset=".311" stop-color="#d36e63"/><stop offset=".313" stop-color="#cd645b"/><stop offset=".330" stop-color="#cd645b"/><stop offset=".332" stop-color="#c75954"/><stop offset=".346" stop-color="#c75954"/><stop offset=".349" stop-color="#c14f4e"/><stop offset=".365" stop-color="#c14f4e"/><stop offset=".368" stop-color="#b94548"/><stop offset=".381" stop-color="#b94548"/><stop offset=".384" stop-color="#b13c42"/><stop offset=".420" stop-color="#a9343d"/><stop offset=".422" stop-color="#a02e39"/><stop offset=".493" stop-color="#902433"/><stop offset=".578" stop-color="#982936"/><stop offset=".580" stop-color="#a2303a"/><stop offset=".597" stop-color="#a2303a"/><stop offset=".599" stop-color="#ad363e"/><stop offset=".616" stop-color="#ad363e"/><stop offset=".619" stop-color="#b54145"/><stop offset=".632" stop-color="#b54145"/><stop offset=".635" stop-color="#ca5e57"/><stop offset=".651" stop-color="#ca5e57"/><stop offset=".654" stop-color="#e08a79"/><stop offset=".668" stop-color="#e08a79"/><stop offset=".670" stop-color="#f3cbbd"/><stop offset=".687" stop-color="#f3cbbd"/><stop offset=".689" stop-color="#cddfec"/><stop offset=".703" stop-color="#cddfec"/><stop offset=".706" stop-color="#6a9fca"/><stop offset=".722" stop-color="#6a9fca"/><stop offset=".725" stop-color="#4e89bb"/><stop offset=".738" stop-color="#4e89bb"/><stop offset=".741" stop-color="#4681b5"/><stop offset=".777" stop-color="#437db1"/><stop offset=".779" stop-color="#3f78ac"/><stop offset=".831" stop-color="#3b72a6"/><stop offset="1.000" stop-color="#356a9e"/></linearGradient><linearGradient id="g17" x1="0" y1="0" x2="0" y2="1"><stop offset=".000" stop-color="#f0d0c6"/><stop offset=".044" stop-color="#f3cbbd"/><stop offset=".063" stop-color="#f1c2b3"/><stop offset=".150" stop-color="#eeb19f"/><stop offset=".153" stop-color="#edaa98"/><stop offset=".169" stop-color="#edaa98"/><stop offset=".172" stop-color="#eba592"/><stop offset=".185" stop-color="#eba592"/><stop offset=".188" stop-color="#e99e8c"/><stop offset=".221" stop-color="#e69886"/><stop offset=".223" stop-color="#e2907e"/><stop offset=".240" stop-color="#e2907e"/><stop offset=".243" stop-color="#df8776"/><stop offset=".259" stop-color="#df8776"/><stop offset=".262" stop-color="#db7f6e"/><stop offset=".275" stop-color="#db7f6e"/><stop offset=".278" stop-color="#d77768"/><stop offset=".294" stop-color="#d77768"/><stop offset=".297" stop-color="#d26c61"/><stop offset=".311" stop-color="#d26c61"/><stop offset=".313" stop-color="#cc615a"/><stop offset=".330" stop-color="#cc615a"/><stop offset=".332" stop-color="#c65752"/><stop offset=".346" stop-color="#c65752"/><stop offset=".349" stop-color="#bf4e4d"/><stop offset=".365" stop-color="#bf4e4d"/><stop offset=".368" stop-color="#b84447"/><stop offset=".381" stop-color="#b84447"/><stop offset=".384" stop-color="#b03a41"/><stop offset=".401" stop-color="#b03a41"/><stop offset=".403" stop-color="#a8333c"/><stop offset=".420" stop-color="#a8333c"/><stop offset=".422" stop-color="#a02e39"/><stop offset=".493" stop-color="#8f2433"/><stop offset=".578" stop-color="#982936"/><stop offset=".580" stop-color="#a2303a"/><stop offset=".597" stop-color="#a2303a"/><stop offset=".599" stop-color="#ad363e"/><stop offset=".616" stop-color="#ad363e"/><stop offset=".619" stop-color="#b54145"/><stop offset=".632" stop-color="#b54145"/><stop offset=".635" stop-color="#ca5e57"/><stop offset=".651" stop-color="#ca5e57"/><stop offset=".654" stop-color="#e08a79"/><stop offset=".668" stop-color="#e08a79"/><stop offset=".670" stop-color="#f3cbbd"/><stop offset=".687" stop-color="#f3cbbd"/><stop offset=".689" stop-color="#cddfec"/><stop offset=".703" stop-color="#cddfec"/><stop offset=".706" stop-color="#6a9fca"/><stop offset=".722" stop-color="#6a9fca"/><stop offset=".725" stop-color="#4e89bb"/><stop offset=".738" stop-color="#4e89bb"/><stop offset=".741" stop-color="#4681b5"/><stop offset=".777" stop-color="#437db1"/><stop offset=".779" stop-color="#3f78ac"/><stop offset=".831" stop-color="#3b72a6"/><stop offset="1.000" stop-color="#356a9e"/></linearGradient><linearGradient id="g18" x1="0" y1="0" x2="0" y2="1"><stop offset=".000" stop-color="#f2cec2"/><stop offset=".150" stop-color="#eeaf9d"/><stop offset=".153" stop-color="#eca996"/><stop offset=".169" stop-color="#eca996"/><stop offset=".172" stop-color="#eba390"/><stop offset=".185" stop-color="#eba390"/><stop offset=".188" stop-color="#e89c8a"/><stop offset=".221" stop-color="#e59684"/><stop offset=".223" stop-color="#e28e7c"/><stop offset=".240" stop-color="#e28e7c"/><stop offset=".243" stop-color="#de8574"/><stop offset=".259" stop-color="#de8574"/><stop offset=".262" stop-color="#da7d6d"/><stop offset=".275" stop-color="#da7d6d"/><stop offset=".278" stop-color="#d67567"/><stop offset=".294" stop-color="#d67567"/><stop offset=".297" stop-color="#d16a60"/><stop offset=".311" stop-color="#d16a60"/><stop offset=".313" stop-color="#cb6059"/><stop offset=".330" stop-color="#cb6059"/><stop offset=".332" stop-color="#c55552"/><stop offset=".346" stop-color="#c55552"/><stop offset=".349" stop-color="#be4c4c"/><stop offset=".365" stop-color="#be4c4c"/><stop offset=".368" stop-color="#b74346"/><stop offset=".381" stop-color="#b74346"/><stop offset=".384" stop-color="#b03a40"/><stop offset=".420" stop-color="#a8333c"/><stop offset=".422" stop-color="#9f2e39"/><stop offset=".493" stop-color="#8f2433"/><stop offset=".578" stop-color="#982936"/><stop offset=".580" stop-color="#a2303a"/><stop offset=".597" stop-color="#a2303a"/><stop offset=".599" stop-color="#ad363e"/><stop offset=".616" stop-color="#ad363e"/><stop offset=".619" stop-color="#b54145"/><stop offset=".632" stop-color="#b54145"/><stop offset=".635" stop-color="#ca5e57"/><stop offset=".651" stop-color="#ca5e57"/><stop offset=".654" stop-color="#e08a79"/><stop offset=".668" stop-color="#e08a79"/><stop offset=".670" stop-color="#f3cbbd"/><stop offset=".687" stop-color="#f3cbbd"/><stop offset=".689" stop-color="#cddfec"/><stop offset=".703" stop-color="#cddfec"/><stop offset=".706" stop-color="#6a9fca"/><stop offset=".722" stop-color="#6a9fca"/><stop offset=".725" stop-color="#4e89bb"/><stop offset=".738" stop-color="#4e89bb"/><stop offset=".741" stop-color="#4681b5"/><stop offset=".777" stop-color="#437db1"/><stop offset=".779" stop-color="#3f78ac"/><stop offset=".831" stop-color="#3b72a6"/><stop offset="1.000" stop-color="#356a9e"/></linearGradient><linearGradient id="g19" x1="0" y1="0" x2="0" y2="1"><stop offset=".000" stop-color="#f3ccbf"/><stop offset=".150" stop-color="#edae9c"/><stop offset=".153" stop-color="#eca795"/><stop offset=".204" stop-color="#e79b89"/><stop offset=".207" stop-color="#e59583"/><stop offset=".221" stop-color="#e59583"/><stop offset=".223" stop-color="#e18c7b"/><stop offset=".240" stop-color="#e18c7b"/><stop offset=".243" stop-color="#dd8473"/><stop offset=".259" stop-color="#dd8473"/><stop offset=".262" stop-color="#da7b6c"/><stop offset=".275" stop-color="#da7b6c"/><stop offset=".278" stop-color="#d67466"/><stop offset=".294" stop-color="#d67466"/><stop offset=".297" stop-color="#d0695f"/><stop offset=".311" stop-color="#d0695f"/><stop offset=".313" stop-color="#cb5f58"/><stop offset=".330" stop-color="#cb5f58"/><stop offset=".332" stop-color="#c55451"/><stop offset=".346" stop-color="#c55451"/><stop offset=".349" stop-color="#be4b4b"/><stop offset=".365" stop-color="#be4b4b"/><stop offset=".368" stop-color="#b74246"/><stop offset=".381" stop-color="#b74246"/><stop offset=".384" stop-color="#af3940"/><stop offset=".401" stop-color="#af3940"/><stop offset=".403" stop-color="#a7333c"/><stop offset=".420" stop-color="#a7333c"/><stop offset=".422" stop-color="#9f2d39"/><stop offset=".493" stop-color="#8f2433"/><stop offset=".578" stop-color="#982936"/><stop offset=".580" stop-color="#a2303a"/><stop offset=".597" stop-color="#a2303a"/><stop offset=".599" stop-color="#ad363e"/><stop offset=".616" stop-color="#ad363e"/><stop offset=".619" stop-color="#b54145"/><stop offset=".632" stop-color="#b54145"/><stop offset=".635" stop-color="#ca5e57"/><stop offset=".651" stop-color="#ca5e57"/><stop offset=".654" stop-color="#e08a79"/><stop offset=".668" stop-color="#e08a79"/><stop offset=".670" stop-color="#f3cbbd"/><stop offset=".687" stop-color="#f3cbbd"/><stop offset=".689" stop-color="#cddfec"/><stop offset=".703" stop-color="#cddfec"/><stop offset=".706" stop-color="#6a9fca"/><stop offset=".722" stop-color="#6a9fca"/><stop offset=".725" stop-color="#4e89bb"/><stop offset=".738" stop-color="#4e89bb"/><stop offset=".741" stop-color="#4681b5"/><stop offset=".777" stop-color="#437db1"/><stop offset=".779" stop-color="#3f78ac"/><stop offset=".831" stop-color="#3b72a6"/><stop offset="1.000" stop-color="#356a9e"/></linearGradient><linearGradient id="g20" x1="0" y1="0" x2="0" y2="1"><stop offset=".000" stop-color="#f3cabc"/><stop offset=".150" stop-color="#edac9a"/><stop offset=".153" stop-color="#eca694"/><stop offset=".169" stop-color="#eca694"/><stop offset=".172" stop-color="#eaa08e"/><stop offset=".185" stop-color="#eaa08e"/><stop offset=".188" stop-color="#e79a88"/><stop offset=".221" stop-color="#e49482"/><stop offset=".223" stop-color="#e08b7a"/><stop offset=".240" stop-color="#e08b7a"/><stop offset=".243" stop-color="#dd8372"/><stop offset=".259" stop-color="#dd8372"/><stop offset=".262" stop-color="#d97a6b"/><stop offset=".294" stop-color="#d57366"/><stop offset=".297" stop-color="#d0685f"/><stop offset=".311" stop-color="#d0685f"/><stop offset=".313" stop-color="#ca5e57"/><stop offset=".330" stop-color="#ca5e57"/><stop offset=".332" stop-color="#c45451"/><stop offset=".346" stop-color="#c45451"/><stop offset=".349" stop-color="#bd4b4b"/><stop offset=".365" stop-color="#bd4b4b"/><stop offset=".368" stop-color="#b64245"/><stop offset=".381" stop-color="#b64245"/><stop offset=".384" stop-color="#af3940"/><stop offset=".420" stop-color="#a7323c"/><stop offset=".422" stop-color="#9e2d39"/><stop offset=".507" stop-color="#8f2433"/><stop offset=".578" stop-color="#982936"/><stop offset=".580" stop-color="#a2303a"/><stop offset=".597" stop-color="#a2303a"/><stop offset=".599" stop-color="#ad363e"/><stop offset=".616" stop-color="#ad363e"/><stop offset=".619" stop-color="#b54145"/><stop offset=".632" stop-color="#b54145"/><stop offset=".635" stop-color="#ca5e57"/><stop offset=".651" stop-color="#ca5e57"/><stop offset=".654" stop-color="#e08a79"/><stop offset=".668" stop-color="#e08a79"/><stop offset=".670" stop-color="#f3cbbd"/><stop offset=".687" stop-color="#f3cbbd"/><stop offset=".689" stop-color="#cddfec"/><stop offset=".703" stop-color="#cddfec"/><stop offset=".706" stop-color="#6a9fca"/><stop offset=".722" stop-color="#6a9fca"/><stop offset=".725" stop-color="#4e89bb"/><stop offset=".738" stop-color="#4e89bb"/><stop offset=".741" stop-color="#4681b5"/><stop offset=".777" stop-color="#437db1"/><stop offset=".779" stop-color="#3f78ac"/><stop offset=".831" stop-color="#3b72a6"/><stop offset="1.000" stop-color="#356a9e"/></linearGradient><linearGradient id="g21" x1="0" y1="0" x2="0" y2="1"><stop offset=".000" stop-color="#f2c8ba"/><stop offset=".150" stop-color="#edac9a"/><stop offset=".153" stop-color="#eca693"/><stop offset=".169" stop-color="#eca693"/><stop offset=".172" stop-color="#e99f8d"/><stop offset=".221" stop-color="#e49381"/><stop offset=".223" stop-color="#e08a79"/><stop offset=".240" stop-color="#e08a79"/><stop offset=".243" stop-color="#dd8272"/><stop offset=".259" stop-color="#dd8272"/><stop offset=".262" stop-color="#d97a6b"/><stop offset=".275" stop-color="#d97a6b"/><stop offset=".278" stop-color="#d57265"/><stop offset=".294" stop-color="#d57265"/><stop offset=".297" stop-color="#cf685e"/><stop offset=".311" stop-color="#cf685e"/><stop offset=".313" stop-color="#ca5d57"/><stop offset=".330" stop-color="#ca5d57"/><stop offset=".332" stop-color="#c45350"/><stop offset=".346" stop-color="#c45350"/><stop offset=".349" stop-color="#bd4a4b"/><stop offset=".365" stop-color="#bd4a4b"/><stop offset=".368" stop-color="#b64145"/><stop offset=".381" stop-color="#b64145"/><stop offset=".384" stop-color="#af383f"/><stop offset=".420" stop-color="#a7323c"/><stop offset=".422" stop-color="#9e2d39"/><stop offset=".507" stop-color="#8f2433"/><stop offset=".578" stop-color="#982936"/><stop offset=".580" stop-color="#a2303a"/><stop offset=".597" stop-color="#a2303a"/><stop offset=".599" stop-color="#ad363e"/><stop offset=".616" stop-color="#ad363e"/><stop offset=".619" stop-color="#b54145"/><stop offset=".632" stop-color="#b54145"/><stop offset=".635" stop-color="#ca5e57"/><stop offset=".651" stop-color="#ca5e57"/><stop offset=".654" stop-color="#e08a79"/><stop offset=".668" stop-color="#e08a79"/><stop offset=".670" stop-color="#f3cbbd"/><stop offset=".687" stop-color="#f3cbbd"/><stop offset=".689" stop-color="#cddfec"/><stop offset=".703" stop-color="#cddfec"/><stop offset=".706" stop-color="#6a9fca"/><stop offset=".722" stop-color="#6a9fca"/><stop offset=".725" stop-color="#4e89bb"/><stop offset=".738" stop-color="#4e89bb"/><stop offset=".741" stop-color="#4681b5"/><stop offset=".777" stop-color="#437db1"/><stop offset=".779" stop-color="#3f78ac"/><stop offset=".831" stop-color="#3b72a6"/><stop offset="1.000" stop-color="#356a9e"/></linearGradient><linearGradient id="g22" x1="0" y1="0" x2="0" y2="1"><stop offset=".000" stop-color="#f2c6b8"/><stop offset=".150" stop-color="#edab99"/><stop offset=".153" stop-color="#eca592"/><stop offset=".169" stop-color="#eca592"/><stop offset=".172" stop-color="#e99f8c"/><stop offset=".221" stop-color="#e49281"/><stop offset=".223" stop-color="#e08a79"/><stop offset=".240" stop-color="#e08a79"/><stop offset=".243" stop-color="#dc8271"/><stop offset=".259" stop-color="#dc8271"/><stop offset=".262" stop-color="#d9796a"/><stop offset=".294" stop-color="#d57265"/><stop offset=".297" stop-color="#cf675e"/><stop offset=".311" stop-color="#cf675e"/><stop offset=".313" stop-color="#ca5d57"/><stop offset=".330" stop-color="#ca5d57"/><stop offset=".332" stop-color="#c45350"/><stop offset=".346" stop-color="#c45350"/><stop offset=".349" stop-color="#bd4a4b"/><stop offset=".365" stop-color="#bd4a4b"/><stop offset=".368" stop-color="#b64145"/><stop offset=".381" stop-color="#b64145"/><stop offset=".384" stop-color="#af383f"/><stop offset=".420" stop-color="#a7323c"/><stop offset=".422" stop-color="#9e2d39"/><stop offset=".507" stop-color="#8f2433"/><stop offset=".578" stop-color="#982936"/><stop offset=".580" stop-color="#a2303a"/><stop offset=".597" stop-color="#a2303a"/><stop offset=".599" stop-color="#ad363e"/><stop offset=".616" stop-color="#ad363e"/><stop offset=".619" stop-color="#b54145"/><stop offset=".632" stop-color="#b54145"/><stop offset=".635" stop-color="#ca5e57"/><stop offset=".651" stop-color="#ca5e57"/><stop offset=".654" stop-color="#e08a79"/><stop offset=".668" stop-color="#e08a79"/><stop offset=".670" stop-color="#f3cbbd"/><stop offset=".687" stop-color="#f3cbbd"/><stop offset=".689" stop-color="#cddfec"/><stop offset=".703" stop-color="#cddfec"/><stop offset=".706" stop-color="#6a9fca"/><stop offset=".722" stop-color="#6a9fca"/><stop offset=".725" stop-color="#4e89bb"/><stop offset=".738" stop-color="#4e89bb"/><stop offset=".741" stop-color="#4681b5"/><stop offset=".777" stop-color="#437db1"/><stop offset=".779" stop-color="#3f78ac"/><stop offset=".831" stop-color="#3b72a6"/><stop offset="1.000" stop-color="#356a9e"/></linearGradient><linearGradient id="g23" x1="0" y1="0" x2="0" y2="1"><stop offset=".000" stop-color="#f2c5b6"/><stop offset=".150" stop-color="#edab98"/><stop offset=".153" stop-color="#eca592"/><stop offset=".185" stop-color="#e99f8c"/><stop offset=".188" stop-color="#e69886"/><stop offset=".221" stop-color="#e39280"/><stop offset=".223" stop-color="#e08a79"/><stop offset=".240" stop-color="#e08a79"/><stop offset=".243" stop-color="#dc8171"/><stop offset=".259" stop-color="#dc8171"/><stop offset=".262" stop-color="#d8796a"/><stop offset=".275" stop-color="#d8796a"/><stop offset=".278" stop-color="#d47165"/><stop offset=".294" stop-color="#d47165"/><stop offset=".297" stop-color="#cf675e"/><stop offset=".311" stop-color="#cf675e"/><stop offset=".313" stop-color="#c95c56"/><stop offset=".330" stop-color="#c95c56"/><stop offset=".332" stop-color="#c35350"/><stop offset=".346" stop-color="#c35350"/><stop offset=".349" stop-color="#bc4a4a"/><stop offset=".365" stop-color="#bc4a4a"/><stop offset=".368" stop-color="#b54145"/><stop offset=".381" stop-color="#b54145"/><stop offset=".384" stop-color="#af383f"/><stop offset=".401" stop-color="#af383f"/><stop offset=".403" stop-color="#a6323c"/><stop offset=".420" stop-color="#a6323c"/><stop offset=".422" stop-color="#9e2d39"/><stop offset=".507" stop-color="#8f2433"/><stop offset=".578" stop-color="#982936"/><stop offset=".580" stop-color="#a2303a"/><stop offset=".597" stop-color="#a2303a"/><stop offset=".599" stop-color="#ad363e"/><stop offset=".616" stop-color="#ad363e"/><stop offset=".619" stop-color="#b54145"/><stop offset=".632" stop-color="#b54145"/><stop offset=".635" stop-color="#ca5e57"/><stop offset=".651" stop-color="#ca5e57"/><stop offset=".654" stop-color="#e08a79"/><stop offset=".668" stop-color="#e08a79"/><stop offset=".670" stop-color="#f3cbbd"/><stop offset=".687" stop-color="#f3cbbd"/><stop offset=".689" stop-color="#cddfec"/><stop offset=".703" stop-color="#cddfec"/><stop offset=".706" stop-color="#6a9fca"/><stop offset=".722" stop-color="#6a9fca"/><stop offset=".725" stop-color="#4e89bb"/><stop offset=".738" stop-color="#4e89bb"/><stop offset=".741" stop-color="#4681b5"/><stop offset=".777" stop-color="#437db1"/><stop offset=".779" stop-color="#3f78ac"/><stop offset=".831" stop-color="#3b72a6"/><stop offset="1.000" stop-color="#356a9e"/></linearGradient><linearGradient id="g24" x1="0" y1="0" x2="0" y2="1"><stop offset=".000" stop-color="#f2c4b5"/><stop offset=".150" stop-color="#edaa98"/><stop offset=".153" stop-color="#eba592"/><stop offset=".169" stop-color="#eba592"/><stop offset=".172" stop-color="#e99e8c"/><stop offset=".221" stop-color="#e39280"/><stop offset=".223" stop-color="#e08978"/><stop offset=".240" stop-color="#e08978"/><stop offset=".243" stop-color="#dc8171"/><stop offset=".275" stop-color="#d8796a"/><stop offset=".278" stop-color="#d47165"/><stop offset=".294" stop-color="#d47165"/><stop offset=".297" stop-color="#cf675d"/><stop offset=".311" stop-color="#cf675d"/><stop offset=".313" stop-color="#c95c56"/><stop offset=".330" stop-color="#c95c56"/><stop offset=".332" stop-color="#c35250"/><stop offset=".365" stop-color="#bc4a4a"/><stop offset=".368" stop-color="#b54145"/><stop offset=".381" stop-color="#b54145"/><stop offset=".384" stop-color="#ae383f"/><stop offset=".401" stop-color="#ae383f"/><stop offset=".403" stop-color="#a6323c"/><stop offset=".420" stop-color="#a6323c"/><stop offset=".422" stop-color="#9e2d39"/><stop offset=".507" stop-color="#8f2433"/><stop offset=".578" stop-color="#982936"/><stop offset=".580" stop-color="#a2303a"/><stop offset=".597" stop-color="#a2303a"/><stop offset=".599" stop-color="#ad363e"/><stop offset=".616" stop-color="#ad363e"/><stop offset=".619" stop-color="#b54145"/><stop offset=".632" stop-color="#b54145"/><stop offset=".635" stop-color="#ca5e57"/><stop offset=".651" stop-color="#ca5e57"/><stop offset=".654" stop-color="#e08a79"/><stop offset=".668" stop-color="#e08a79"/><stop offset=".670" stop-color="#f3cbbd"/><stop offset=".687" stop-color="#f3cbbd"/><stop offset=".689" stop-color="#cddfec"/><stop offset=".703" stop-color="#cddfec"/><stop offset=".706" stop-color="#6a9fca"/><stop offset=".722" stop-color="#6a9fca"/><stop offset=".725" stop-color="#4e89bb"/><stop offset=".738" stop-color="#4e89bb"/><stop offset=".741" stop-color="#4681b5"/><stop offset=".777" stop-color="#437db1"/><stop offset=".779" stop-color="#3f78ac"/><stop offset=".831" stop-color="#3b72a6"/><stop offset="1.000" stop-color="#356a9e"/></linearGradient><linearGradient id="g25" x1="0" y1="0" x2="0" y2="1"><stop offset=".000" stop-color="#f2c3b4"/><stop offset=".150" stop-color="#edaa98"/><stop offset=".153" stop-color="#eba492"/><stop offset=".169" stop-color="#eba492"/><stop offset=".172" stop-color="#e99e8c"/><stop offset=".185" stop-color="#e99e8c"/><stop offset=".188" stop-color="#e69886"/><stop offset=".221" stop-color="#e39180"/><stop offset=".223" stop-color="#e08978"/><stop offset=".240" stop-color="#e08978"/><stop offset=".243" stop-color="#dc8170"/><stop offset=".259" stop-color="#dc8170"/><stop offset=".262" stop-color="#d8796a"/><stop offset=".275" stop-color="#d8796a"/><stop offset=".278" stop-color="#d47164"/><stop offset=".294" stop-color="#d47164"/><stop offset=".297" stop-color="#cf675d"/><stop offset=".311" stop-color="#cf675d"/><stop offset=".313" stop-color="#c95c56"/><stop offset=".330" stop-color="#c95c56"/><stop offset=".332" stop-color="#c35250"/><stop offset=".365" stop-color="#bc4a4a"/><stop offset=".368" stop-color="#b54145"/><stop offset=".381" stop-color="#b54145"/><stop offset=".384" stop-color="#ae383f"/><stop offset=".401" stop-color="#ae383f"/><stop offset=".403" stop-color="#a6323c"/><stop offset=".420" stop-color="#a6323c"/><stop offset=".422" stop-color="#9e2d39"/><stop offset=".507" stop-color="#8f2433"/><stop offset=".578" stop-color="#982936"/><stop offset=".580" stop-color="#a2303a"/><stop offset=".597" stop-color="#a2303a"/><stop offset=".599" stop-color="#ad363e"/><stop offset=".616" stop-color="#ad363e"/><stop offset=".619" stop-color="#b54145"/><stop offset=".632" stop-color="#b54145"/><stop offset=".635" stop-color="#ca5e57"/><stop offset=".651" stop-color="#ca5e57"/><stop offset=".654" stop-color="#e08a79"/><stop offset=".668" stop-color="#e08a79"/><stop offset=".670" stop-color="#f3cbbd"/><stop offset=".687" stop-color="#f3cbbd"/><stop offset=".689" stop-color="#cddfec"/><stop offset=".703" stop-color="#cddfec"/><stop offset=".706" stop-color="#6a9fca"/><stop offset=".722" stop-color="#6a9fca"/><stop offset=".725" stop-color="#4e89bb"/><stop offset=".738" stop-color="#4e89bb"/><stop offset=".741" stop-color="#4681b5"/><stop offset=".777" stop-color="#437db1"/><stop offset=".779" stop-color="#3f78ac"/><stop offset=".831" stop-color="#3b72a6"/><stop offset="1.000" stop-color="#356a9e"/></linearGradient><linearGradient id="g26" x1="0" y1="0" x2="0" y2="1"><stop offset=".000" stop-color="#f1c3b3"/><stop offset=".150" stop-color="#edaa98"/><stop offset=".153" stop-color="#eba491"/><stop offset=".169" stop-color="#eba491"/><stop offset=".172" stop-color="#e99e8c"/><stop offset=".221" stop-color="#e39180"/><stop offset=".223" stop-color="#e08978"/><stop offset=".240" stop-color="#e08978"/><stop offset=".243" stop-color="#dc8170"/><stop offset=".259" stop-color="#dc8170"/><stop offset=".262" stop-color="#d8796a"/><stop offset=".275" stop-color="#d8796a"/><stop offset=".278" stop-color="#d47164"/><stop offset=".294" stop-color="#d47164"/><stop offset=".297" stop-color="#cf665d"/><stop offset=".311" stop-color="#cf665d"/><stop offset=".313" stop-color="#c95c56"/><stop offset=".330" stop-color="#c95c56"/><stop offset=".332" stop-color="#c35250"/><stop offset=".346" stop-color="#c35250"/><stop offset=".349" stop-color="#bc494a"/><stop offset=".365" stop-color="#bc494a"/><stop offset=".368" stop-color="#b54145"/><stop offset=".381" stop-color="#b54145"/><stop offset=".384" stop-color="#ae383f"/><stop offset=".401" stop-color="#ae383f"/><stop offset=".403" stop-color="#a6323c"/><stop offset=".420" stop-color="#a6323c"/><stop offset=".422" stop-color="#9e2d39"/><stop offset=".507" stop-color="#8f2433"/><stop offset=".578" stop-color="#982936"/><stop offset=".580" stop-color="#a2303a"/><stop offset=".597" stop-color="#a2303a"/><stop offset=".599" stop-color="#ad363e"/><stop offset=".616" stop-color="#ad363e"/><stop offset=".619" stop-color="#b54145"/><stop offset=".632" stop-color="#b54145"/><stop offset=".635" stop-color="#ca5e57"/><stop offset=".651" stop-color="#ca5e57"/><stop offset=".654" stop-color="#e08a79"/><stop offset=".668" stop-color="#e08a79"/><stop offset=".670" stop-color="#f3cbbd"/><stop offset=".687" stop-color="#f3cbbd"/><stop offset=".689" stop-color="#cddfed"/><stop offset=".703" stop-color="#cddfed"/><stop offset=".706" stop-color="#6a9fca"/><stop offset=".722" stop-color="#6a9fca"/><stop offset=".725" stop-color="#4e89bb"/><stop offset=".738" stop-color="#4e89bb"/><stop offset=".741" stop-color="#4681b5"/><stop offset=".777" stop-color="#437db1"/><stop offset=".779" stop-color="#3f78ac"/><stop offset=".831" stop-color="#3b72a6"/><stop offset="1.000" stop-color="#356a9e"/></linearGradient><linearGradient id="g27" x1="0" y1="0" x2="0" y2="1"><stop offset=".000" stop-color="#f1c2b3"/><stop offset=".150" stop-color="#edaa98"/><stop offset=".153" stop-color="#eba491"/><stop offset=".169" stop-color="#eba491"/><stop offset=".172" stop-color="#e99e8b"/><stop offset=".221" stop-color="#e39180"/><stop offset=".223" stop-color="#e08978"/><stop offset=".240" stop-color="#e08978"/><stop offset=".243" stop-color="#dc8070"/><stop offset=".259" stop-color="#dc8070"/><stop offset=".262" stop-color="#d8786a"/><stop offset=".275" stop-color="#d8786a"/><stop offset=".278" stop-color="#d47164"/><stop offset=".294" stop-color="#d47164"/><stop offset=".297" stop-color="#cf665d"/><stop offset=".311" stop-color="#cf665d"/><stop offset=".313" stop-color="#c95c56"/><stop offset=".330" stop-color="#c95c56"/><stop offset=".332" stop-color="#c35250"/><stop offset=".346" stop-color="#c35250"/><stop offset=".349" stop-color="#bc494a"/><stop offset=".365" stop-color="#bc494a"/><stop offset=".368" stop-color="#b54145"/><stop offset=".381" stop-color="#b54145"/><stop offset=".384" stop-color="#ae383f"/><stop offset=".401" stop-color="#ae383f"/><stop offset=".403" stop-color="#a6323c"/><stop offset=".420" stop-color="#a6323c"/><stop offset=".422" stop-color="#9e2d39"/><stop offset=".507" stop-color="#8f2433"/><stop offset=".578" stop-color="#982936"/><stop offset=".580" stop-color="#a2303a"/><stop offset=".597" stop-color="#a2303a"/><stop offset=".599" stop-color="#ad363e"/><stop offset=".616" stop-color="#ad363e"/><stop offset=".619" stop-color="#b54145"/><stop offset=".632" stop-color="#b54145"/><stop offset=".635" stop-color="#ca5e57"/><stop offset=".651" stop-color="#ca5e57"/><stop offset=".654" stop-color="#e08a79"/><stop offset=".668" stop-color="#e08a79"/><stop offset=".670" stop-color="#f3cbbd"/><stop offset=".687" stop-color="#f3cbbd"/><stop offset=".689" stop-color="#cddfed"/><stop offset=".703" stop-color="#cddfed"/><stop offset=".706" stop-color="#6a9fca"/><stop offset=".722" stop-color="#6a9fca"/><stop offset=".725" stop-color="#4e89bb"/><stop offset=".738" stop-color="#4e89bb"/><stop offset=".741" stop-color="#4681b5"/><stop offset=".777" stop-color="#437db1"/><stop offset=".779" stop-color="#3f78ac"/><stop offset=".831" stop-color="#3b72a6"/><stop offset="1.000" stop-color="#356a9e"/></linearGradient><linearGradient id="g28" x1="0" y1="0" x2="0" y2="1"><stop offset=".000" stop-color="#f1c2b2"/><stop offset=".150" stop-color="#edaa97"/><stop offset=".153" stop-color="#eba491"/><stop offset=".185" stop-color="#e89e8b"/><stop offset=".188" stop-color="#e69786"/><stop offset=".221" stop-color="#e39180"/><stop offset=".223" stop-color="#df8978"/><stop offset=".240" stop-color="#df8978"/><stop offset=".243" stop-color="#dc8070"/><stop offset=".259" stop-color="#dc8070"/><stop offset=".262" stop-color="#d8786a"/><stop offset=".275" stop-color="#d8786a"/><stop offset=".278" stop-color="#d47164"/><stop offset=".294" stop-color="#d47164"/><stop offset=".297" stop-color="#cf665d"/><stop offset=".311" stop-color="#cf665d"/><stop offset=".313" stop-color="#c95c56"/><stop offset=".330" stop-color="#c95c56"/><stop offset=".332" stop-color="#c35250"/><stop offset=".346" stop-color="#c35250"/><stop offset=".349" stop-color="#bc494a"/><stop offset=".365" stop-color="#bc494a"/><stop offset=".368" stop-color="#b54045"/><stop offset=".381" stop-color="#b54045"/><stop offset=".384" stop-color="#ae383f"/><stop offset=".401" stop-color="#ae383f"/><stop offset=".403" stop-color="#a6323c"/><stop offset=".420" stop-color="#a6323c"/><stop offset=".422" stop-color="#9e2d39"/><stop offset=".507" stop-color="#8f2433"/><stop offset=".578" stop-color="#982936"/><stop offset=".580" stop-color="#a2303a"/><stop offset=".597" stop-color="#a2303a"/><stop offset=".599" stop-color="#ad363e"/><stop offset=".616" stop-color="#ad363e"/><stop offset=".619" stop-color="#b54145"/><stop offset=".632" stop-color="#b54145"/><stop offset=".635" stop-color="#ca5e57"/><stop offset=".651" stop-color="#ca5e57"/><stop offset=".654" stop-color="#e08a79"/><stop offset=".668" stop-color="#e08a79"/><stop offset=".670" stop-color="#f3cbbd"/><stop offset=".687" stop-color="#f3cbbd"/><stop offset=".689" stop-color="#cddfed"/><stop offset=".703" stop-color="#cddfed"/><stop offset=".706" stop-color="#6a9fca"/><stop offset=".722" stop-color="#6a9fca"/><stop offset=".725" stop-color="#4e89bb"/><stop offset=".738" stop-color="#4e89bb"/><stop offset=".741" stop-color="#4681b5"/><stop offset=".777" stop-color="#437db1"/><stop offset=".779" stop-color="#3f78ac"/><stop offset=".831" stop-color="#3b72a6"/><stop offset="1.000" stop-color="#356a9e"/></linearGradient><linearGradient id="g29" x1="0" y1="0" x2="0" y2="1"><stop offset=".000" stop-color="#f1c1b2"/><stop offset=".150" stop-color="#edaa97"/><stop offset=".153" stop-color="#eba491"/><stop offset=".185" stop-color="#e89e8b"/><stop offset=".188" stop-color="#e69785"/><stop offset=".221" stop-color="#e39180"/><stop offset=".223" stop-color="#df8978"/><stop offset=".240" stop-color="#df8978"/><stop offset=".243" stop-color="#dc8070"/><stop offset=".259" stop-color="#dc8070"/><stop offset=".262" stop-color="#d87869"/><stop offset=".275" stop-color="#d87869"/><stop offset=".278" stop-color="#d47164"/><stop offset=".294" stop-color="#d47164"/><stop offset=".297" stop-color="#cf665d"/><stop offset=".311" stop-color="#cf665d"/><stop offset=".313" stop-color="#c95c56"/><stop offset=".330" stop-color="#c95c56"/><stop offset=".332" stop-color="#c35250"/><stop offset=".346" stop-color="#c35250"/><stop offset=".349" stop-color="#bc494a"/><stop offset=".365" stop-color="#bc494a"/><stop offset=".368" stop-color="#b54045"/><stop offset=".381" stop-color="#b54045"/><stop offset=".384" stop-color="#ae383f"/><stop offset=".401" stop-color="#ae383f"/><stop offset=".403" stop-color="#a6323c"/><stop offset=".420" stop-color="#a6323c"/><stop offset=".422" stop-color="#9e2d39"/><stop offset=".507" stop-color="#8f2433"/><stop offset=".578" stop-color="#982936"/><stop offset=".580" stop-color="#a2303a"/><stop offset=".597" stop-color="#a2303a"/><stop offset=".599" stop-color="#ad363e"/><stop offset=".616" stop-color="#ad363e"/><stop offset=".619" stop-color="#b54145"/><stop offset=".632" stop-color="#b54145"/><stop offset=".635" stop-color="#ca5e57"/><stop offset=".651" stop-color="#ca5e57"/><stop offset=".654" stop-color="#e08a79"/><stop offset=".668" stop-color="#e08a79"/><stop offset=".670" stop-color="#f3cbbd"/><stop offset=".687" stop-color="#f3cbbd"/><stop offset=".689" stop-color="#cddfed"/><stop offset=".703" stop-color="#cddfed"/><stop offset=".706" stop-color="#6a9fca"/><stop offset=".722" stop-color="#6a9fca"/><stop offset=".725" stop-color="#4e89bb"/><stop offset=".738" stop-color="#4e89bb"/><stop offset=".741" stop-color="#4681b5"/><stop offset=".777" stop-color="#437db1"/><stop offset=".779" stop-color="#3f78ac"/><stop offset=".831" stop-color="#3b72a6"/><stop offset="1.000" stop-color="#356a9e"/></linearGradient><linearGradient id="g30" x1="0" y1="0" x2="0" y2="1"><stop offset=".000" stop-color="#f1c1b2"/><stop offset=".150" stop-color="#edaa97"/><stop offset=".153" stop-color="#eba491"/><stop offset=".185" stop-color="#e89e8b"/><stop offset=".188" stop-color="#e69785"/><stop offset=".221" stop-color="#e39180"/><stop offset=".223" stop-color="#df8978"/><stop offset=".240" stop-color="#df8978"/><stop offset=".243" stop-color="#dc8070"/><stop offset=".259" stop-color="#dc8070"/><stop offset=".262" stop-color="#d87869"/><stop offset=".275" stop-color="#d87869"/><stop offset=".278" stop-color="#d47164"/><stop offset=".294" stop-color="#d47164"/><stop offset=".297" stop-color="#cf665d"/><stop offset=".311" stop-color="#cf665d"/><stop offset=".313" stop-color="#c95c56"/><stop offset=".330" stop-color="#c95c56"/><stop offset=".332" stop-color="#c35250"/><stop offset=".346" stop-color="#c35250"/><stop offset=".349" stop-color="#bc494a"/><stop offset=".365" stop-color="#bc494a"/><stop offset=".368" stop-color="#b54045"/><stop offset=".381" stop-color="#b54045"/><stop offset=".384" stop-color="#ae383f"/><stop offset=".401" stop-color="#ae383f"/><stop offset=".403" stop-color="#a6323c"/><stop offset=".420" stop-color="#a6323c"/><stop offset=".422" stop-color="#9e2d39"/><stop offset=".507" stop-color="#8f2433"/><stop offset=".578" stop-color="#982936"/><stop offset=".580" stop-color="#a2303a"/><stop offset=".597" stop-color="#a2303a"/><stop offset=".599" stop-color="#ad363e"/><stop offset=".616" stop-color="#ad363e"/><stop offset=".619" stop-color="#b54145"/><stop offset=".632" stop-color="#b54145"/><stop offset=".635" stop-color="#ca5e57"/><stop offset=".651" stop-color="#ca5e57"/><stop offset=".654" stop-color="#e08a79"/><stop offset=".668" stop-color="#e08a79"/><stop offset=".670" stop-color="#f3cbbd"/><stop offset=".687" stop-color="#f3cbbd"/><stop offset=".689" stop-color="#cddfed"/><stop offset=".703" stop-color="#cddfed"/><stop offset=".706" stop-color="#6a9fca"/><stop offset=".722" stop-color="#6a9fca"/><stop offset=".725" stop-color="#4e89bb"/><stop offset=".738" stop-color="#4e89bb"/><stop offset=".741" stop-color="#4681b5"/><stop offset=".777" stop-color="#437db1"/><stop offset=".779" stop-color="#3f78ac"/><stop offset=".831" stop-color="#3b72a6"/><stop offset="1.000" stop-color="#356a9e"/></linearGradient></defs><g shape-rendering="crispEdges"><rect x="36.20" y="21.70" width="7.13" height="183.30" fill="url(#g0)"/><rect x="42.83" y="21.70" width="7.13" height="183.30" fill="url(#g1)"/><rect x="49.46" y="21.70" width="7.13" height="183.30" fill="url(#g2)"/><rect x="56.10" y="21.70" width="7.13" height="183.30" fill="url(#g3)"/><rect x="62.73" y="21.70" width="7.13" height="183.30" fill="url(#g4)"/><rect x="69.36" y="21.70" width="7.13" height="183.30" fill="url(#g5)"/><rect x="75.99" y="21.70" width="7.13" height="183.30" fill="url(#g6)"/><rect x="82.63" y="21.70" width="7.13" height="183.30" fill="url(#g7)"/><rect x="89.26" y="21.70" width="7.13" height="183.30" fill="url(#g8)"/><rect x="95.89" y="21.70" width="7.13" height="183.30" fill="url(#g9)"/><rect x="102.52" y="21.70" width="7.13" height="183.30" fill="url(#g10)"/><rect x="109.15" y="21.70" width="7.13" height="183.30" fill="url(#g11)"/><rect x="115.79" y="21.70" width="7.13" height="183.30" fill="url(#g12)"/><rect x="122.42" y="21.70" width="7.13" height="183.30" fill="url(#g13)"/><rect x="129.05" y="21.70" width="7.13" height="183.30" fill="url(#g14)"/><rect x="135.68" y="21.70" width="7.13" height="183.30" fill="url(#g15)"/><rect x="142.32" y="21.70" width="7.13" height="183.30" fill="url(#g16)"/><rect x="148.95" y="21.70" width="7.13" height="183.30" fill="url(#g17)"/><rect x="155.58" y="21.70" width="7.13" height="183.30" fill="url(#g18)"/><rect x="162.21" y="21.70" width="7.13" height="183.30" fill="url(#g19)"/><rect x="168.85" y="21.70" width="7.13" height="183.30" fill="url(#g20)"/><rect x="175.48" y="21.70" width="7.13" height="183.30" fill="url(#g21)"/><rect x="182.11" y="21.70" width="7.13" height="183.30" fill="url(#g22)"/><rect x="188.74" y="21.70" width="7.13" height="183.30" fill="url(#g23)"/><rect x="195.37" y="21.70" width="7.13" height="183.30" fill="url(#g24)"/><rect x="202.01" y="21.70" width="7.13" height="183.30" fill="url(#g25)"/><rect x="208.64" y="21.70" width="7.13" height="183.30" fill="url(#g26)"/><rect x="215.27" y="21.70" width="7.13" height="183.30" fill="url(#g27)"/><rect x="221.90" y="21.70" width="7.13" height="183.30" fill="url(#g28)"/><rect x="228.54" y="21.70" width="7.13" height="183.30" fill="url(#g29)"/><rect x="235.17" y="21.70" width="6.63" height="183.30" fill="url(#g30)"/></g><line x1="36.20" y1="152.63" x2="241.80" y2="152.63" stroke="#f0ad3c" stroke-width="1.9" stroke-dasharray="5.6,4.6,1.2,4.7" stroke-dashoffset="0.4"/><path d="M65.3,132.7 C68,128.5 71,125 74,121.3 C77,117 80,113 82.8,109 C86,105 89.5,102.3 93.3,99.4 C97.5,96 101.5,93 105.5,90.6 C109,88 112.5,85.5 116,83.6 C120.5,81 125,79 130,77.5 C135,76 139,74.8 144,74 C150,73 155,72.4 159.8,71.9 C180,70.5 210,69.6 241.8,69.2" fill="none" stroke="#fff" stroke-width="1.5" stroke-dasharray="7,6"/><path d="M69.6,137.1 C75,137.6 80,138 86.3,138 C92,138 96,137.6 100.3,137.1 C105,136.5 109,135.8 112.5,135.7 C116,135.6 119.5,135.8 123,136.2 C127,136.7 130,137.2 133.6,137.4 L241.8,137.4" fill="none" stroke="#fff" stroke-width="1.5" stroke-dasharray="7,6"/><polygon points="141.40,105.20 143.25,109.65 148.06,110.04 144.40,113.17 145.51,117.86 141.40,115.35 137.29,117.86 138.40,113.17 134.74,110.04 139.55,109.65" fill="#f5a83a"/><path d="M180.39,82.57 C180.88,80.83 181.95,80.34 183.51,80.34 L189.75,80.34 M185.46,80.39 L184.88,86.50 C184.68,88.35 185.66,89.01 186.73,88.57 C187.31,88.35 187.60,87.92 187.80,87.37" fill="none" stroke="#fff" stroke-width="1.36" stroke-linecap="round"/><text x="190.80" y="92.60" font-size="10.50" text-anchor="start" font-family="Liberation Sans, sans-serif" fill="#fff" >TO</text><text x="206.00" y="87.90" font-size="12.00" text-anchor="start" font-family="Liberation Sans, sans-serif" fill="#fff" >&gt;</text><text x="214.60" y="88.00" font-size="15.50" text-anchor="start" font-family="Liberation Serif, serif" fill="#fff" >γ</text><text x="222.20" y="92.40" font-size="9.50" text-anchor="start" font-family="Liberation Sans, sans-serif" fill="#fff" >0</text><text x="224.20" y="82.60" font-size="9.20" text-anchor="start" font-family="Liberation Sans, sans-serif" fill="#fff" >-1</text><text x="168.00" y="170.80" font-size="12.00" text-anchor="start" font-family="Liberation Serif, serif" fill="#eaa83a" font-style="italic">E</text><text x="177.20" y="171.80" font-size="9.00" text-anchor="start" font-family="Liberation Sans, sans-serif" fill="#eaa83a" >gap</text><text x="194.30" y="170.80" font-size="12.00" text-anchor="start" font-family="Liberation Serif, serif" fill="#eaa83a" >=</text><text x="204.20" y="170.80" font-size="12.00" text-anchor="start" font-family="Liberation Serif, serif" fill="#eaa83a" >2</text><text x="209.80" y="171.00" font-size="12.50" text-anchor="start" font-family="Liberation Serif, serif" fill="#eaa83a" >√</text><line x1="215.6" y1="161.6" x2="223.6" y2="161.6" stroke="#eaa83a" stroke-width="0.8"/><text x="217.00" y="170.80" font-size="12.00" text-anchor="start" font-family="Liberation Serif, serif" fill="#eaa83a" >2</text><text x="223.60" y="170.80" font-size="12.00" text-anchor="start" font-family="Liberation Serif, serif" fill="#eaa83a" font-style="italic">g</text><rect x="36.20" y="21.70" width="205.60" height="183.30" fill="none" stroke="#5a5a5a" stroke-width="0.90"/><line x1="39.52" y1="205.00" x2="39.52" y2="202.50" stroke="#444" stroke-width="0.80"/><line x1="39.52" y1="21.70" x2="39.52" y2="24.20" stroke="#444" stroke-width="0.80"/><line x1="105.84" y1="205.00" x2="105.84" y2="202.50" stroke="#444" stroke-width="0.80"/><line x1="105.84" y1="21.70" x2="105.84" y2="24.20" stroke="#444" stroke-width="0.80"/><line x1="172.16" y1="205.00" x2="172.16" y2="202.50" stroke="#444" stroke-width="0.80"/><line x1="172.16" y1="21.70" x2="172.16" y2="24.20" stroke="#444" stroke-width="0.80"/><line x1="238.48" y1="205.00" x2="238.48" y2="202.50" stroke="#444" stroke-width="0.80"/><line x1="238.48" y1="21.70" x2="238.48" y2="24.20" stroke="#444" stroke-width="0.80"/><line x1="36.20" y1="205.00" x2="38.70" y2="205.00" stroke="#444" stroke-width="0.80"/><line x1="241.80" y1="205.00" x2="239.30" y2="205.00" stroke="#444" stroke-width="0.80"/><line x1="36.20" y1="178.81" x2="38.70" y2="178.81" stroke="#444" stroke-width="0.80"/><line x1="241.80" y1="178.81" x2="239.30" y2="178.81" stroke="#444" stroke-width="0.80"/><line x1="36.20" y1="152.63" x2="38.70" y2="152.63" stroke="#444" stroke-width="0.80"/><line x1="241.80" y1="152.63" x2="239.30" y2="152.63" stroke="#444" stroke-width="0.80"/><line x1="36.20" y1="126.44" x2="38.70" y2="126.44" stroke="#444" stroke-width="0.80"/><line x1="241.80" y1="126.44" x2="239.30" y2="126.44" stroke="#444" stroke-width="0.80"/><line x1="36.20" y1="100.26" x2="38.70" y2="100.26" stroke="#444" stroke-width="0.80"/><line x1="241.80" y1="100.26" x2="239.30" y2="100.26" stroke="#444" stroke-width="0.80"/><line x1="36.20" y1="74.07" x2="38.70" y2="74.07" stroke="#444" stroke-width="0.80"/><line x1="241.80" y1="74.07" x2="239.30" y2="74.07" stroke="#444" stroke-width="0.80"/><line x1="36.20" y1="47.89" x2="38.70" y2="47.89" stroke="#444" stroke-width="0.80"/><line x1="241.80" y1="47.89" x2="239.30" y2="47.89" stroke="#444" stroke-width="0.80"/><line x1="36.20" y1="21.70" x2="38.70" y2="21.70" stroke="#444" stroke-width="0.80"/><line x1="241.80" y1="21.70" x2="239.30" y2="21.70" stroke="#444" stroke-width="0.80"/><text x="40.02" y="219.00" font-size="12.00" text-anchor="middle" font-family="Liberation Sans, sans-serif" fill="#1a1a1a" >1</text><text x="106.34" y="219.00" font-size="12.00" text-anchor="middle" font-family="Liberation Sans, sans-serif" fill="#1a1a1a" >21</text><text x="172.66" y="219.00" font-size="12.00" text-anchor="middle" font-family="Liberation Sans, sans-serif" fill="#1a1a1a" >41</text><text x="238.98" y="219.00" font-size="12.00" text-anchor="middle" font-family="Liberation Sans, sans-serif" fill="#1a1a1a" >61</text><text x="31.20" y="210.00" font-size="12.00" text-anchor="end" font-family="Liberation Sans, sans-serif" fill="#1a1a1a" >1</text><text x="31.20" y="183.81" font-size="12.00" text-anchor="end" font-family="Liberation Sans, sans-serif" fill="#1a1a1a" >3</text><text x="31.20" y="157.63" font-size="12.00" text-anchor="end" font-family="Liberation Sans, sans-serif" fill="#1a1a1a" >5</text><text x="31.20" y="131.44" font-size="12.00" text-anchor="end" font-family="Liberation Sans, sans-serif" fill="#1a1a1a" >7</text><text x="31.20" y="105.26" font-size="12.00" text-anchor="end" font-family="Liberation Sans, sans-serif" fill="#1a1a1a" >9</text><text x="31.20" y="79.07" font-size="12.00" text-anchor="end" font-family="Liberation Sans, sans-serif" fill="#1a1a1a" >11</text><text x="31.20" y="52.89" font-size="12.00" text-anchor="end" font-family="Liberation Sans, sans-serif" fill="#1a1a1a" >13</text><text x="31.20" y="26.70" font-size="12.00" text-anchor="end" font-family="Liberation Sans, sans-serif" fill="#1a1a1a" >15</text><defs><linearGradient id="cb2531" x1="0" y1="1" x2="0" y2="0"><stop offset="0.0000" stop-color="#254070"/><stop offset="0.0357" stop-color="#284a7c"/><stop offset="0.0714" stop-color="#2c5588"/><stop offset="0.1071" stop-color="#306093"/><stop offset="0.1429" stop-color="#356a9e"/><stop offset="0.1786" stop-color="#3e77ab"/><stop offset="0.2143" stop-color="#4884b8"/><stop offset="0.2500" stop-color="#5d95c4"/><stop offset="0.2857" stop-color="#72a6cf"/><stop offset="0.3214" stop-color="#8db8d8"/><stop offset="0.3571" stop-color="#a8cae2"/><stop offset="0.3929" stop-color="#bdd6e8"/><stop offset="0.4286" stop-color="#d2e2ee"/><stop offset="0.4643" stop-color="#dde2e8"/><stop offset="0.5000" stop-color="#e8e2e2"/><stop offset="0.5357" stop-color="#eed6d0"/><stop offset="0.5714" stop-color="#f3cbbd"/><stop offset="0.6071" stop-color="#f0b8a8"/><stop offset="0.6429" stop-color="#eca693"/><stop offset="0.6786" stop-color="#e39180"/><stop offset="0.7143" stop-color="#da7c6c"/><stop offset="0.7500" stop-color="#d0695f"/><stop offset="0.7857" stop-color="#c65652"/><stop offset="0.8214" stop-color="#ba4648"/><stop offset="0.8571" stop-color="#ad363e"/><stop offset="0.8929" stop-color="#9e2d38"/><stop offset="0.9286" stop-color="#8f2433"/><stop offset="0.9643" stop-color="#80202f"/><stop offset="1.0000" stop-color="#701b2b"/></linearGradient></defs><rect x="251.00" y="21.90" width="12.00" height="183.10" fill="url(#cb2531)"/><rect x="251.00" y="21.90" width="12.00" height="183.10" fill="none" stroke="#777" stroke-width="0.7"/><text x="267.20" y="208.80" font-size="10.80" text-anchor="start" font-family="Liberation Sans, sans-serif" fill="#1a1a1a" >0</text><line x1="263.00" y1="178.84" x2="260.50" y2="178.84" stroke="#333" stroke-width="0.8"/><text x="267.20" y="182.64" font-size="10.80" text-anchor="start" font-family="Liberation Sans, sans-serif" fill="#1a1a1a" >2</text><line x1="263.00" y1="152.69" x2="260.50" y2="152.69" stroke="#333" stroke-width="0.8"/><text x="267.20" y="156.49" font-size="10.80" text-anchor="start" font-family="Liberation Sans, sans-serif" fill="#1a1a1a" >4</text><line x1="263.00" y1="126.53" x2="260.50" y2="126.53" stroke="#333" stroke-width="0.8"/><text x="267.20" y="130.33" font-size="10.80" text-anchor="start" font-family="Liberation Sans, sans-serif" fill="#1a1a1a" >6</text><line x1="263.00" y1="100.37" x2="260.50" y2="100.37" stroke="#333" stroke-width="0.8"/><text x="267.20" y="104.17" font-size="10.80" text-anchor="start" font-family="Liberation Sans, sans-serif" fill="#1a1a1a" >8</text><line x1="263.00" y1="74.21" x2="260.50" y2="74.21" stroke="#333" stroke-width="0.8"/><text x="267.20" y="78.01" font-size="10.80" text-anchor="start" font-family="Liberation Sans, sans-serif" fill="#1a1a1a" >10</text><line x1="263.00" y1="48.06" x2="260.50" y2="48.06" stroke="#333" stroke-width="0.8"/><text x="267.20" y="51.86" font-size="10.80" text-anchor="start" font-family="Liberation Sans, sans-serif" fill="#1a1a1a" >12</text><text x="267.20" y="25.70" font-size="10.80" text-anchor="start" font-family="Liberation Sans, sans-serif" fill="#1a1a1a" >14</text><path d="M114.98,8.56 C115.46,6.95 116.50,6.49 118.02,6.49 L124.10,6.49 M119.92,6.54 L119.35,12.18 C119.16,13.90 120.11,14.50 121.16,14.10 C121.73,13.90 122.01,13.49 122.20,12.99" fill="none" stroke="#1a1a1a" stroke-width="1.26" stroke-linecap="round"/><text x="124.90" y="17.10" font-size="9.80" text-anchor="start" font-family="Liberation Sans, sans-serif" fill="#1a1a1a" >TO</text><text x="142.50" y="14.80" font-size="10.50" text-anchor="start" font-family="Liberation Sans, sans-serif" fill="#1a1a1a" >/</text><path d="M147.23,8.56 C147.65,6.95 148.56,6.49 149.88,6.49 L155.18,6.49 M151.54,6.54 L151.04,12.18 C150.87,13.90 151.70,14.50 152.61,14.10 C153.11,13.90 153.36,13.49 153.52,12.99" fill="none" stroke="#1a1a1a" stroke-width="1.26" stroke-linecap="round"/><text x="156.70" y="17.10" font-size="9.80" text-anchor="start" font-family="Liberation Sans, sans-serif" fill="#1a1a1a" >0</text><text x="268.00" y="11.30" font-size="15.00" text-anchor="start" font-family="Liberation Sans, sans-serif" fill="#1a1a1a" >(a)</text><text x="83.00" y="236.00" font-size="14.00" text-anchor="start" font-family="Liberation Sans, sans-serif" fill="#1a1a1a" letter-spacing="-0.26">Number of atoms</text><text x="195.30" y="236.00" font-size="14.00" text-anchor="start" font-family="Liberation Sans, sans-serif" fill="#1a1a1a" font-style="italic">N</text><text transform="translate(13.6,113.5) rotate(-90)" font-size="14.5" text-anchor="middle" font-family="Liberation Sans, sans-serif" fill="#1a1a1a">J<tspan font-size="10" dy="3">0</tspan><tspan dy="-3"> / </tspan><tspan font-family="Liberation Serif, serif">Γ</tspan></text><defs><linearGradient id="g31" x1="0" y1="0" x2="0" y2="1"><stop offset=".000" stop-color="#e8e2e2"/><stop offset=".082" stop-color="#ebdcd8"/><stop offset=".126" stop-color="#f3cabc"/><stop offset=".180" stop-color="#eeae9c"/><stop offset=".257" stop-color="#da7b6b"/><stop offset=".284" stop-color="#c55451"/><stop offset=".306" stop-color="#a5313b"/><stop offset=".322" stop-color="#8a2232"/><stop offset=".333" stop-color="#842130"/><stop offset=".393" stop-color="#b23c42"/><stop offset=".481" stop-color="#ca5d57"/><stop offset=".563" stop-color="#c3524f"/><stop offset=".617" stop-color="#ac363e"/><stop offset=".656" stop-color="#882231"/><stop offset=".667" stop-color="#862131"/><stop offset=".683" stop-color="#a8333c"/><stop offset=".699" stop-color="#c95c56"/><stop offset=".732" stop-color="#de8474"/><stop offset=".809" stop-color="#f0baa9"/><stop offset=".934" stop-color="#ebdbd7"/><stop offset="1.000" stop-color="#e8e2e2"/></linearGradient><linearGradient id="g32" x1="0" y1="0" x2="0" y2="1"><stop offset=".000" stop-color="#e8e2e2"/><stop offset=".082" stop-color="#ebdcd8"/><stop offset=".126" stop-color="#f3cabc"/><stop offset=".240" stop-color="#df8776"/><stop offset=".262" stop-color="#d77668"/><stop offset=".284" stop-color="#c55451"/><stop offset=".311" stop-color="#9b2b38"/><stop offset=".333" stop-color="#842130"/><stop offset=".393" stop-color="#b23c42"/><stop offset=".481" stop-color="#ca5d57"/><stop offset=".563" stop-color="#c3524f"/><stop offset=".617" stop-color="#ac353e"/><stop offset=".656" stop-color="#872231"/><stop offset=".667" stop-color="#862131"/><stop offset=".683" stop-color="#a8333c"/><stop offset=".699" stop-color="#c95c56"/><stop offset=".732" stop-color="#de8474"/><stop offset=".809" stop-color="#f0baa9"/><stop offset=".934" stop-color="#ebdbd7"/><stop offset="1.000" stop-color="#e8e2e2"/></linearGradient><linearGradient id="g33" x1="0" y1="0" x2="0" y2="1"><stop offset=".000" stop-color="#e8e2e2"/><stop offset=".082" stop-color="#ebdcd8"/><stop offset=".126" stop-color="#f3cabc"/><stop offset=".240" stop-color="#df8776"/><stop offset=".262" stop-color="#d77668"/><stop offset=".284" stop-color="#c55451"/><stop offset=".311" stop-color="#9b2b38"/><stop offset=".333" stop-color="#842130"/><stop offset=".393" stop-color="#b23c42"/><stop offset=".481" stop-color="#ca5d57"/><stop offset=".563" stop-color="#c3524f"/><stop offset=".617" stop-color="#ac353e"/><stop offset=".656" stop-color="#872231"/><stop offset=".667" stop-color="#862131"/><stop offset=".683" stop-color="#a8333c"/><stop offset=".699" stop-color="#c95c56"/><stop offset=".732" stop-color="#de8474"/><stop offset=".809" stop-color="#f0baa9"/><stop offset=".934" stop-color="#ebdbd7"/><stop offset="1.000" stop-color="#e8e2e2"/></linearGradient><linearGradient id="g34" x1="0" y1="0" x2="0" y2="1"><stop offset=".000" stop-color="#e8e2e2"/><stop offset=".082" stop-color="#ebdcd8"/><stop offset=".126" stop-color="#f3cabc"/><stop offset=".224" stop-color="#e49281"/><stop offset=".262" stop-color="#d77668"/><stop offset=".284" stop-color="#c55451"/><stop offset=".306" stop-color="#a5313b"/><stop offset=".322" stop-color="#8a2332"/><stop offset=".333" stop-color="#842130"/><stop offset=".393" stop-color="#b23c42"/><stop offset=".481" stop-color="#ca5d57"/><stop offset=".563" stop-color="#c3524f"/><stop offset=".617" stop-color="#ac353e"/><stop offset=".656" stop-color="#872231"/><stop offset=".667" stop-color="#862131"/><stop offset=".683" stop-color="#a9333c"/><stop offset=".699" stop-color="#c95c56"/><stop offset=".732" stop-color="#de8574"/><stop offset=".809" stop-color="#f0baa9"/><stop offset=".934" stop-color="#ebdbd7"/><stop offset="1.000" stop-color="#e8e2e2"/></linearGradient><linearGradient id="g35" x1="0" y1="0" x2="0" y2="1"><stop offset=".000" stop-color="#e8e2e2"/><stop offset=".082" stop-color="#ebdcd8"/><stop offset=".126" stop-color="#f3cbbd"/><stop offset=".208" stop-color="#e99e8c"/><stop offset=".262" stop-color="#d77668"/><stop offset=".284" stop-color="#c55451"/><stop offset=".306" stop-color="#a5313b"/><stop offset=".322" stop-color="#8a2332"/><stop offset=".333" stop-color="#842130"/><stop offset=".393" stop-color="#b23c42"/><stop offset=".481" stop-color="#ca5d57"/><stop offset=".563" stop-color="#c3524f"/><stop offset=".617" stop-color="#ac353e"/><stop offset=".656" stop-color="#872231"/><stop offset=".667" stop-color="#862131"/><stop offset=".683" stop-color="#a9343c"/><stop offset=".699" stop-color="#ca5d57"/><stop offset=".732" stop-color="#de8574"/><stop offset=".809" stop-color="#f0baaa"/><stop offset=".934" stop-color="#ebdbd7"/><stop offset="1.000" stop-color="#e8e2e2"/></linearGradient><linearGradient id="g36" x1="0" y1="0" x2="0" y2="1"><stop offset=".000" stop-color="#e8e2e2"/><stop offset=".082" stop-color="#ebdcd8"/><stop offset=".126" stop-color="#f3cbbd"/><stop offset=".251" stop-color="#dc806f"/><stop offset=".284" stop-color="#c55551"/><stop offset=".306" stop-color="#a6323b"/><stop offset=".322" stop-color="#8a2332"/><stop offset=".333" stop-color="#842130"/><stop offset=".393" stop-color="#b23c42"/><stop offset=".481" stop-color="#ca5d57"/><stop offset=".563" stop-color="#c3524f"/><stop offset=".617" stop-color="#ac353e"/><stop offset=".656" stop-color="#872231"/><stop offset=".667" stop-color="#862131"/><stop offset=".683" stop-color="#a9343d"/><stop offset=".699" stop-color="#ca5d57"/><stop offset=".732" stop-color="#de8574"/><stop offset=".809" stop-color="#f0baaa"/><stop offset=".934" stop-color="#ebdbd7"/><stop offset="1.000" stop-color="#e8e2e2"/></linearGradient><linearGradient id="g37" x1="0" y1="0" x2="0" y2="1"><stop offset=".000" stop-color="#e8e2e1"/><stop offset=".082" stop-color="#ebdcd8"/><stop offset=".126" stop-color="#f3cbbd"/><stop offset=".219" stop-color="#e69785"/><stop offset=".262" stop-color="#d77768"/><stop offset=".279" stop-color="#ca5d57"/><stop offset=".306" stop-color="#a6323b"/><stop offset=".322" stop-color="#8b2332"/><stop offset=".333" stop-color="#842130"/><stop offset=".404" stop-color="#b74246"/><stop offset=".443" stop-color="#c45451"/><stop offset=".497" stop-color="#cb5f58"/><stop offset=".541" stop-color="#c75954"/><stop offset=".596" stop-color="#b74246"/><stop offset=".623" stop-color="#a8333c"/><stop offset=".656" stop-color="#872231"/><stop offset=".667" stop-color="#862131"/><stop offset=".683" stop-color="#aa343d"/><stop offset=".699" stop-color="#ca5d57"/><stop offset=".732" stop-color="#de8575"/><stop offset=".809" stop-color="#f0baaa"/><stop offset=".934" stop-color="#ebdbd7"/><stop offset="1.000" stop-color="#e8e2e2"/></linearGradient><linearGradient id="g38" x1="0" y1="0" x2="0" y2="1"><stop offset=".000" stop-color="#e8e2e1"/><stop offset=".082" stop-color="#ebdcd8"/><stop offset=".131" stop-color="#f3c9ba"/><stop offset=".230" stop-color="#e3907e"/><stop offset=".257" stop-color="#da7d6d"/><stop offset=".284" stop-color="#c55552"/><stop offset=".317" stop-color="#932634"/><stop offset=".333" stop-color="#842130"/><stop offset=".404" stop-color="#b74246"/><stop offset=".492" stop-color="#cb5f58"/><stop offset=".552" stop-color="#c65652"/><stop offset=".596" stop-color="#b74246"/><stop offset=".623" stop-color="#a8333c"/><stop offset=".656" stop-color="#872231"/><stop offset=".667" stop-color="#862131"/><stop offset=".683" stop-color="#aa343d"/><stop offset=".699" stop-color="#ca5e57"/><stop offset=".732" stop-color="#de8675"/><stop offset=".803" stop-color="#efb7a6"/><stop offset=".891" stop-color="#efd3ca"/><stop offset="1.000" stop-color="#e8e2e1"/></linearGradient><linearGradient id="g39" x1="0" y1="0" x2="0" y2="1"><stop offset=".000" stop-color="#e8e1e1"/><stop offset=".082" stop-color="#ebdcd8"/><stop offset=".131" stop-color="#f3c9bb"/><stop offset=".213" stop-color="#e89c8a"/><stop offset=".257" stop-color="#da7d6d"/><stop offset=".284" stop-color="#c65652"/><stop offset=".311" stop-color="#9d2c38"/><stop offset=".333" stop-color="#842130"/><stop offset=".393" stop-color="#b23c42"/><stop offset=".486" stop-color="#cb5f58"/><stop offset=".536" stop-color="#c95b55"/><stop offset=".596" stop-color="#b74246"/><stop offset=".623" stop-color="#a8333c"/><stop offset=".656" stop-color="#872231"/><stop offset=".667" stop-color="#862131"/><stop offset=".683" stop-color="#ab353d"/><stop offset=".699" stop-color="#cb5f58"/><stop offset=".732" stop-color="#de8676"/><stop offset=".809" stop-color="#f0bbab"/><stop offset=".923" stop-color="#ecd9d4"/><stop offset="1.000" stop-color="#e8e1e1"/></linearGradient><linearGradient id="g40" x1="0" y1="0" x2="0" y2="1"><stop offset=".000" stop-color="#e8e1e1"/><stop offset=".082" stop-color="#ebdcd8"/><stop offset=".126" stop-color="#f3ccbe"/><stop offset=".202" stop-color="#eca592"/><stop offset=".268" stop-color="#d47064"/><stop offset=".306" stop-color="#a7333c"/><stop offset=".322" stop-color="#8c2332"/><stop offset=".333" stop-color="#852130"/><stop offset=".344" stop-color="#862231"/><stop offset=".393" stop-color="#b23c42"/><stop offset=".481" stop-color="#cb5f58"/><stop offset=".530" stop-color="#ca5d57"/><stop offset=".585" stop-color="#bc494a"/><stop offset=".623" stop-color="#a8333c"/><stop offset=".656" stop-color="#862231"/><stop offset=".667" stop-color="#862131"/><stop offset=".683" stop-color="#ab353d"/><stop offset=".699" stop-color="#cb6059"/><stop offset=".732" stop-color="#df8776"/><stop offset=".809" stop-color="#f0bbab"/><stop offset=".923" stop-color="#ecd9d4"/><stop offset="1.000" stop-color="#e8e1e1"/></linearGradient><linearGradient id="g41" x1="0" y1="0" x2="0" y2="1"><stop offset=".000" stop-color="#e9e1e0"/><stop offset=".082" stop-color="#ebdcd8"/><stop offset=".131" stop-color="#f3cbbd"/><stop offset=".208" stop-color="#eba390"/><stop offset=".262" stop-color="#d9796a"/><stop offset=".290" stop-color="#c14f4e"/><stop offset=".306" stop-color="#a8333c"/><stop offset=".333" stop-color="#852130"/><stop offset=".344" stop-color="#862131"/><stop offset=".399" stop-color="#b54044"/><stop offset=".486" stop-color="#cc6159"/><stop offset=".536" stop-color="#ca5d57"/><stop offset=".590" stop-color="#ba4648"/><stop offset=".623" stop-color="#a8333c"/><stop offset=".656" stop-color="#862131"/><stop offset=".667" stop-color="#862131"/><stop offset=".683" stop-color="#ac363e"/><stop offset=".699" stop-color="#cc615a"/><stop offset=".732" stop-color="#df8878"/><stop offset=".809" stop-color="#f0bcac"/><stop offset=".934" stop-color="#ebdbd7"/><stop offset="1.000" stop-color="#e9e1e0"/></linearGradient><linearGradient id="g42" x1="0" y1="0" x2="0" y2="1"><stop offset=".000" stop-color="#e9e0df"/><stop offset=".082" stop-color="#ebdcd8"/><stop offset=".137" stop-color="#f3c9bb"/><stop offset=".213" stop-color="#eaa18e"/><stop offset=".257" stop-color="#dc8170"/><stop offset=".284" stop-color="#c85954"/><stop offset=".306" stop-color="#a9343d"/><stop offset=".328" stop-color="#872231"/><stop offset=".344" stop-color="#862131"/><stop offset=".377" stop-color="#a8333c"/><stop offset=".415" stop-color="#bd4a4a"/><stop offset=".464" stop-color="#cb5f58"/><stop offset=".514" stop-color="#cd635b"/><stop offset=".596" stop-color="#b84446"/><stop offset=".623" stop-color="#a8333c"/><stop offset=".656" stop-color="#862131"/><stop offset=".667" stop-color="#862131"/><stop offset=".683" stop-color="#ae373e"/><stop offset=".699" stop-color="#cd635b"/><stop offset=".732" stop-color="#e08a79"/><stop offset=".809" stop-color="#f0bdad"/><stop offset=".934" stop-color="#ebdbd7"/><stop offset="1.000" stop-color="#e9e1e0"/></linearGradient><linearGradient id="g43" x1="0" y1="0" x2="0" y2="1"><stop offset=".000" stop-color="#e9e0df"/><stop offset=".087" stop-color="#ecdad6"/><stop offset=".142" stop-color="#f3c9ba"/><stop offset=".224" stop-color="#e89c89"/><stop offset=".257" stop-color="#dd8372"/><stop offset=".284" stop-color="#c95b56"/><stop offset=".306" stop-color="#ab353d"/><stop offset=".333" stop-color="#852130"/><stop offset=".355" stop-color="#912534"/><stop offset=".404" stop-color="#b94547"/><stop offset=".486" stop-color="#cf665d"/><stop offset=".530" stop-color="#cd645b"/><stop offset=".574" stop-color="#c3524f"/><stop offset=".612" stop-color="#b03940"/><stop offset=".645" stop-color="#912534"/><stop offset=".667" stop-color="#862131"/><stop offset=".683" stop-color="#af3940"/><stop offset=".699" stop-color="#ce665d"/><stop offset=".732" stop-color="#e18c7b"/><stop offset=".809" stop-color="#f0beae"/><stop offset=".918" stop-color="#edd8d3"/><stop offset="1.000" stop-color="#e9e0df"/></linearGradient><linearGradient id="g44" x1="0" y1="0" x2="0" y2="1"><stop offset=".000" stop-color="#e9dfdd"/><stop offset=".082" stop-color="#ebdcd8"/><stop offset=".148" stop-color="#f3c9bb"/><stop offset=".219" stop-color="#eba390"/><stop offset=".257" stop-color="#de8675"/><stop offset=".279" stop-color="#cf665d"/><stop offset=".306" stop-color="#ad363e"/><stop offset=".333" stop-color="#852130"/><stop offset=".355" stop-color="#902533"/><stop offset=".383" stop-color="#ad363e"/><stop offset=".421" stop-color="#c3524f"/><stop offset=".481" stop-color="#d26c61"/><stop offset=".530" stop-color="#d06a5f"/><stop offset=".579" stop-color="#c3524f"/><stop offset=".617" stop-color="#ad363e"/><stop offset=".645" stop-color="#902533"/><stop offset=".667" stop-color="#862231"/><stop offset=".672" stop-color="#8e2433"/><stop offset=".689" stop-color="#bf4c4c"/><stop offset=".699" stop-color="#d06a5f"/><stop offset=".732" stop-color="#e28f7e"/><stop offset=".803" stop-color="#f0bcac"/><stop offset=".913" stop-color="#edd8d2"/><stop offset="1.000" stop-color="#e9dfde"/></linearGradient><linearGradient id="g45" x1="0" y1="0" x2="0" y2="1"><stop offset=".000" stop-color="#eadedc"/><stop offset=".087" stop-color="#ebdcd8"/><stop offset=".169" stop-color="#f3ccbe"/><stop offset=".224" stop-color="#efb5a3"/><stop offset=".262" stop-color="#e89d8b"/><stop offset=".295" stop-color="#d47064"/><stop offset=".328" stop-color="#a9333c"/><stop offset=".344" stop-color="#972936"/><stop offset=".350" stop-color="#862231"/><stop offset=".388" stop-color="#b03a40"/><stop offset=".421" stop-color="#c65552"/><stop offset=".459" stop-color="#d36f63"/><stop offset=".492" stop-color="#d77768"/><stop offset=".541" stop-color="#d36f63"/><stop offset=".579" stop-color="#c65552"/><stop offset=".612" stop-color="#b03a40"/><stop offset=".650" stop-color="#862231"/><stop offset=".656" stop-color="#982936"/><stop offset=".672" stop-color="#ae383f"/><stop offset=".678" stop-color="#c2514f"/><stop offset=".694" stop-color="#dc8171"/><stop offset=".738" stop-color="#edac99"/><stop offset=".825" stop-color="#f2cec2"/><stop offset=".934" stop-color="#ebdcd9"/><stop offset="1.000" stop-color="#eadedc"/></linearGradient><linearGradient id="g46" x1="0" y1="0" x2="0" y2="1"><stop offset=".000" stop-color="#ebdcd9"/><stop offset=".093" stop-color="#ebdbd7"/><stop offset=".208" stop-color="#f1c2b2"/><stop offset=".257" stop-color="#eca794"/><stop offset=".295" stop-color="#d67467"/><stop offset=".322" stop-color="#ba4748"/><stop offset=".328" stop-color="#ad363e"/><stop offset=".344" stop-color="#992a37"/><stop offset=".350" stop-color="#842130"/><stop offset=".383" stop-color="#aa343d"/><stop offset=".415" stop-color="#c75753"/><stop offset=".448" stop-color="#d77668"/><stop offset=".492" stop-color="#df8776"/><stop offset=".530" stop-color="#dc8271"/><stop offset=".585" stop-color="#c75753"/><stop offset=".617" stop-color="#aa343d"/><stop offset=".650" stop-color="#842130"/><stop offset=".656" stop-color="#9a2a37"/><stop offset=".672" stop-color="#b33d43"/><stop offset=".678" stop-color="#c85a55"/><stop offset=".689" stop-color="#d8796a"/><stop offset=".699" stop-color="#e39280"/><stop offset=".732" stop-color="#edad9b"/><stop offset=".814" stop-color="#f2cec1"/><stop offset=".929" stop-color="#ebdcd8"/><stop offset="1.000" stop-color="#eaddda"/></linearGradient><linearGradient id="g47" x1="0" y1="0" x2="0" y2="1"><stop offset=".000" stop-color="#dde2e8"/><stop offset=".044" stop-color="#e7e2e2"/><stop offset=".049" stop-color="#ebdcd8"/><stop offset=".142" stop-color="#edd7d0"/><stop offset=".213" stop-color="#f2c6b7"/><stop offset=".262" stop-color="#eca794"/><stop offset=".295" stop-color="#d97a6b"/><stop offset=".322" stop-color="#bf4d4d"/><stop offset=".328" stop-color="#b03a40"/><stop offset=".350" stop-color="#982936"/><stop offset=".355" stop-color="#852130"/><stop offset=".383" stop-color="#aa343d"/><stop offset=".432" stop-color="#d87769"/><stop offset=".459" stop-color="#e39180"/><stop offset=".492" stop-color="#e89d8a"/><stop offset=".530" stop-color="#e69785"/><stop offset=".568" stop-color="#d87769"/><stop offset=".617" stop-color="#aa343d"/><stop offset=".645" stop-color="#852130"/><stop offset=".650" stop-color="#982936"/><stop offset=".672" stop-color="#b64145"/><stop offset=".678" stop-color="#cd645b"/><stop offset=".689" stop-color="#dc8070"/><stop offset=".699" stop-color="#e79a88"/><stop offset=".732" stop-color="#eeb2a1"/><stop offset=".825" stop-color="#f0d1c6"/><stop offset=".918" stop-color="#ebdbd7"/><stop offset=".989" stop-color="#ebdcd8"/><stop offset="1.000" stop-color="#e0e2e6"/></linearGradient><linearGradient id="g48" x1="0" y1="0" x2="0" y2="1"><stop offset=".000" stop-color="#c3daea"/><stop offset=".038" stop-color="#d2e2ee"/><stop offset=".131" stop-color="#e7e2e2"/><stop offset=".137" stop-color="#ebdbd7"/><stop offset=".219" stop-color="#f3cbbd"/><stop offset=".262" stop-color="#eeae9c"/><stop offset=".295" stop-color="#dd8272"/><stop offset=".322" stop-color="#c55451"/><stop offset=".328" stop-color="#b23c42"/><stop offset=".355" stop-color="#972936"/><stop offset=".361" stop-color="#872231"/><stop offset=".383" stop-color="#a8333c"/><stop offset=".421" stop-color="#d97a6a"/><stop offset=".448" stop-color="#eaa18e"/><stop offset=".475" stop-color="#eeb2a0"/><stop offset=".508" stop-color="#efb5a4"/><stop offset=".546" stop-color="#eca693"/><stop offset=".568" stop-color="#e18c7b"/><stop offset=".596" stop-color="#c95b56"/><stop offset=".617" stop-color="#a8333c"/><stop offset=".639" stop-color="#872231"/><stop offset=".645" stop-color="#972936"/><stop offset=".672" stop-color="#b84447"/><stop offset=".678" stop-color="#d36e62"/><stop offset=".689" stop-color="#e08a79"/><stop offset=".699" stop-color="#eba592"/><stop offset=".732" stop-color="#f0baa9"/><stop offset=".814" stop-color="#f0d2c8"/><stop offset=".945" stop-color="#ebdcd8"/><stop offset=".951" stop-color="#e6e2e3"/><stop offset=".978" stop-color="#d1e2ee"/><stop offset="1.000" stop-color="#b7d3e6"/></linearGradient><linearGradient id="g49" x1="0" y1="0" x2="0" y2="1"><stop offset=".000" stop-color="#a6c8e1"/><stop offset=".120" stop-color="#d6e2ec"/><stop offset=".180" stop-color="#e8e2e2"/><stop offset=".186" stop-color="#ecdbd6"/><stop offset=".230" stop-color="#f2cec2"/><stop offset=".262" stop-color="#efb8a7"/><stop offset=".301" stop-color="#de8574"/><stop offset=".322" stop-color="#ca5d57"/><stop offset=".328" stop-color="#b13b41"/><stop offset=".355" stop-color="#972936"/><stop offset=".361" stop-color="#892232"/><stop offset=".383" stop-color="#b13c41"/><stop offset=".410" stop-color="#da7c6c"/><stop offset=".437" stop-color="#eeaf9d"/><stop offset=".475" stop-color="#f3cabc"/><stop offset=".525" stop-color="#f3cabc"/><stop offset=".552" stop-color="#f0bbab"/><stop offset=".574" stop-color="#e99f8c"/><stop offset=".596" stop-color="#d47064"/><stop offset=".623" stop-color="#a6323b"/><stop offset=".639" stop-color="#892232"/><stop offset=".645" stop-color="#972936"/><stop offset=".672" stop-color="#b74346"/><stop offset=".678" stop-color="#d8796a"/><stop offset=".699" stop-color="#eeb2a1"/><stop offset=".727" stop-color="#f1c1b1"/><stop offset=".814" stop-color="#eed5cd"/><stop offset=".902" stop-color="#ebdbd7"/><stop offset=".907" stop-color="#e7e2e2"/><stop offset=".934" stop-color="#d5e2ed"/><stop offset="1.000" stop-color="#8bb7d8"/></linearGradient><linearGradient id="g50" x1="0" y1="0" x2="0" y2="1"><stop offset=".000" stop-color="#87b4d7"/><stop offset=".142" stop-color="#d2e2ee"/><stop offset=".219" stop-color="#e7e2e2"/><stop offset=".224" stop-color="#ecdad5"/><stop offset=".257" stop-color="#f3cabc"/><stop offset=".301" stop-color="#e59583"/><stop offset=".322" stop-color="#ce665d"/><stop offset=".328" stop-color="#ad363e"/><stop offset=".355" stop-color="#7f1f2f"/><stop offset=".366" stop-color="#8c2332"/><stop offset=".377" stop-color="#ac353e"/><stop offset=".393" stop-color="#d16a60"/><stop offset=".415" stop-color="#eca693"/><stop offset=".437" stop-color="#f2c8ba"/><stop offset=".464" stop-color="#eed6ce"/><stop offset=".525" stop-color="#edd8d2"/><stop offset=".563" stop-color="#f2c8ba"/><stop offset=".585" stop-color="#eca693"/><stop offset=".601" stop-color="#d97a6b"/><stop offset=".623" stop-color="#ac353e"/><stop offset=".634" stop-color="#8c2332"/><stop offset=".645" stop-color="#7f1f2f"/><stop offset=".656" stop-color="#8d2433"/><stop offset=".672" stop-color="#b33d43"/><stop offset=".678" stop-color="#de8574"/><stop offset=".699" stop-color="#f2c4b5"/><stop offset=".716" stop-color="#f3cbbd"/><stop offset=".842" stop-color="#ebdbd7"/><stop offset=".847" stop-color="#e7e2e3"/><stop offset=".902" stop-color="#d2e2ee"/><stop offset=".967" stop-color="#87b4d6"/><stop offset="1.000" stop-color="#6ba0cb"/></linearGradient><linearGradient id="g51" x1="0" y1="0" x2="0" y2="1"><stop offset=".000" stop-color="#70a4ce"/><stop offset=".044" stop-color="#82b1d5"/><stop offset=".169" stop-color="#d2e2ee"/><stop offset=".246" stop-color="#e8e2e2"/><stop offset=".251" stop-color="#edd9d3"/><stop offset=".273" stop-color="#f3ccbe"/><stop offset=".306" stop-color="#e99e8c"/><stop offset=".322" stop-color="#d67466"/><stop offset=".328" stop-color="#ab353d"/><stop offset=".344" stop-color="#892231"/><stop offset=".355" stop-color="#80202f"/><stop offset=".372" stop-color="#a7333c"/><stop offset=".383" stop-color="#c95b55"/><stop offset=".404" stop-color="#eca693"/><stop offset=".421" stop-color="#f2c7b9"/><stop offset=".432" stop-color="#efd2c9"/><stop offset=".470" stop-color="#e8e2e1"/><stop offset=".536" stop-color="#e9e1e0"/><stop offset=".574" stop-color="#f2cec2"/><stop offset=".596" stop-color="#eca693"/><stop offset=".607" stop-color="#dd8373"/><stop offset=".617" stop-color="#c95b55"/><stop offset=".628" stop-color="#a7333c"/><stop offset=".645" stop-color="#80202f"/><stop offset=".656" stop-color="#892231"/><stop offset=".672" stop-color="#b03a40"/><stop offset=".678" stop-color="#e69785"/><stop offset=".694" stop-color="#f2cdc0"/><stop offset=".699" stop-color="#eed6ce"/><stop offset=".754" stop-color="#ebdbd7"/><stop offset=".760" stop-color="#e8e2e2"/><stop offset=".852" stop-color="#d3e2ee"/><stop offset=".902" stop-color="#b0cee4"/><stop offset=".956" stop-color="#72a6cf"/><stop offset="1.000" stop-color="#5891c1"/></linearGradient><linearGradient id="g52" x1="0" y1="0" x2="0" y2="1"><stop offset=".000" stop-color="#6097c5"/><stop offset=".049" stop-color="#71a5cf"/><stop offset=".191" stop-color="#d2e2ee"/><stop offset=".268" stop-color="#e8e2e2"/><stop offset=".295" stop-color="#f2ccbf"/><stop offset=".311" stop-color="#edab98"/><stop offset=".322" stop-color="#de8575"/><stop offset=".328" stop-color="#a7323c"/><stop offset=".350" stop-color="#7f1f2f"/><stop offset=".355" stop-color="#832130"/><stop offset=".366" stop-color="#a12f3a"/><stop offset=".377" stop-color="#c85a55"/><stop offset=".388" stop-color="#e08a79"/><stop offset=".404" stop-color="#f0bcac"/><stop offset=".421" stop-color="#eed5cc"/><stop offset=".437" stop-color="#e9e0df"/><stop offset=".459" stop-color="#e3e2e5"/><stop offset=".557" stop-color="#e7e2e2"/><stop offset=".574" stop-color="#ecd9d4"/><stop offset=".590" stop-color="#f2c8b9"/><stop offset=".607" stop-color="#e89e8b"/><stop offset=".623" stop-color="#c85a55"/><stop offset=".634" stop-color="#a12f3a"/><stop offset=".645" stop-color="#832130"/><stop offset=".650" stop-color="#7f1f2f"/><stop offset=".661" stop-color="#8f2433"/><stop offset=".672" stop-color="#ac353e"/><stop offset=".678" stop-color="#edad9b"/><stop offset=".683" stop-color="#f1c2b3"/><stop offset=".689" stop-color="#efd4cb"/><stop offset=".710" stop-color="#eadddb"/><stop offset=".820" stop-color="#d0e1ed"/><stop offset=".880" stop-color="#a6c9e1"/><stop offset=".956" stop-color="#5f97c5"/><stop offset="1.000" stop-color="#4a86b9"/></linearGradient><linearGradient id="g53" x1="0" y1="0" x2="0" y2="1"><stop offset=".000" stop-color="#538dbe"/><stop offset=".071" stop-color="#70a5ce"/><stop offset=".213" stop-color="#d2e2ee"/><stop offset=".257" stop-color="#e7e2e3"/><stop offset=".284" stop-color="#eadfdc"/><stop offset=".306" stop-color="#eed5cd"/><stop offset=".311" stop-color="#f3cabc"/><stop offset=".322" stop-color="#e79a88"/><stop offset=".328" stop-color="#a12f3a"/><stop offset=".339" stop-color="#892231"/><stop offset=".350" stop-color="#81202f"/><stop offset=".361" stop-color="#9b2b37"/><stop offset=".366" stop-color="#b13c42"/><stop offset=".377" stop-color="#d57366"/><stop offset=".388" stop-color="#eba390"/><stop offset=".404" stop-color="#f2cdc0"/><stop offset=".421" stop-color="#eadedb"/><stop offset=".437" stop-color="#e3e2e5"/><stop offset=".481" stop-color="#dbe2e9"/><stop offset=".568" stop-color="#e5e2e3"/><stop offset=".596" stop-color="#f2cdc0"/><stop offset=".612" stop-color="#eba390"/><stop offset=".628" stop-color="#c65652"/><stop offset=".639" stop-color="#9b2b37"/><stop offset=".650" stop-color="#81202f"/><stop offset=".656" stop-color="#822030"/><stop offset=".672" stop-color="#a5313b"/><stop offset=".678" stop-color="#dc8070"/><stop offset=".683" stop-color="#eca794"/><stop offset=".694" stop-color="#f2cec1"/><stop offset=".716" stop-color="#eaddda"/><stop offset=".738" stop-color="#e9e0df"/><stop offset=".787" stop-color="#d2e2ee"/><stop offset=".852" stop-color="#a8cae2"/><stop offset=".956" stop-color="#528cbe"/><stop offset="1.000" stop-color="#457fb3"/></linearGradient><linearGradient id="g54" x1="0" y1="0" x2="0" y2="1"><stop offset=".000" stop-color="#4985b8"/><stop offset=".044" stop-color="#568fc0"/><stop offset=".093" stop-color="#72a6cf"/><stop offset=".219" stop-color="#cfe1ed"/><stop offset=".257" stop-color="#e6e2e3"/><stop offset=".284" stop-color="#ebddd9"/><stop offset=".301" stop-color="#f0d1c7"/><stop offset=".311" stop-color="#efb3a2"/><stop offset=".322" stop-color="#d16a60"/><stop offset=".328" stop-color="#9b2b37"/><stop offset=".344" stop-color="#80202f"/><stop offset=".355" stop-color="#942735"/><stop offset=".361" stop-color="#ab353d"/><stop offset=".372" stop-color="#d36f63"/><stop offset=".383" stop-color="#eba491"/><stop offset=".393" stop-color="#f2c5b6"/><stop offset=".415" stop-color="#e9e0df"/><stop offset=".475" stop-color="#d8e2eb"/><stop offset=".536" stop-color="#d9e2ea"/><stop offset=".579" stop-color="#e6e2e3"/><stop offset=".601" stop-color="#f1cfc3"/><stop offset=".617" stop-color="#eba491"/><stop offset=".628" stop-color="#d36f63"/><stop offset=".639" stop-color="#ab353d"/><stop offset=".645" stop-color="#942735"/><stop offset=".656" stop-color="#80202f"/><stop offset=".672" stop-color="#9e2d39"/><stop offset=".678" stop-color="#d16a60"/><stop offset=".683" stop-color="#e49482"/><stop offset=".694" stop-color="#f2c7b8"/><stop offset=".705" stop-color="#eed6ce"/><stop offset=".716" stop-color="#ebdbd7"/><stop offset=".738" stop-color="#e9e0df"/><stop offset=".776" stop-color="#d0e1ed"/><stop offset=".836" stop-color="#a6c9e1"/><stop offset=".891" stop-color="#75a8d0"/><stop offset=".956" stop-color="#4884b8"/><stop offset="1.000" stop-color="#417aae"/></linearGradient><linearGradient id="g55" x1="0" y1="0" x2="0" y2="1"><stop offset=".000" stop-color="#447fb3"/><stop offset=".044" stop-color="#4d88bb"/><stop offset=".109" stop-color="#72a6cf"/><stop offset=".230" stop-color="#d3e2ee"/><stop offset=".273" stop-color="#eadfdd"/><stop offset=".290" stop-color="#edd8d2"/><stop offset=".306" stop-color="#f1c3b4"/><stop offset=".322" stop-color="#de8675"/><stop offset=".328" stop-color="#af383f"/><stop offset=".339" stop-color="#852130"/><stop offset=".344" stop-color="#882231"/><stop offset=".350" stop-color="#a9343c"/><stop offset=".361" stop-color="#cf665d"/><stop offset=".377" stop-color="#eca592"/><stop offset=".388" stop-color="#f2c5b6"/><stop offset=".410" stop-color="#e8e1e1"/><stop offset=".470" stop-color="#d6e2ec"/><stop offset=".541" stop-color="#d7e2eb"/><stop offset=".585" stop-color="#e5e2e4"/><stop offset=".607" stop-color="#f1cfc4"/><stop offset=".623" stop-color="#eca592"/><stop offset=".639" stop-color="#cf665d"/><stop offset=".650" stop-color="#a9343c"/><stop offset=".656" stop-color="#882231"/><stop offset=".661" stop-color="#852130"/><stop offset=".672" stop-color="#b23d42"/><stop offset=".678" stop-color="#de8675"/><stop offset=".689" stop-color="#eeb3a2"/><stop offset=".699" stop-color="#f2cdc0"/><stop offset=".710" stop-color="#edd7d0"/><stop offset=".738" stop-color="#e9e1e0"/><stop offset=".765" stop-color="#d2e2ee"/><stop offset=".874" stop-color="#76a9d1"/><stop offset=".945" stop-color="#4884b8"/><stop offset="1.000" stop-color="#3e77ab"/></linearGradient><linearGradient id="g56" x1="0" y1="0" x2="0" y2="1"><stop offset=".000" stop-color="#417baf"/><stop offset=".049" stop-color="#4985b8"/><stop offset=".120" stop-color="#71a5ce"/><stop offset=".230" stop-color="#cfe0ed"/><stop offset=".268" stop-color="#e9e0de"/><stop offset=".295" stop-color="#f1d0c5"/><stop offset=".311" stop-color="#eda997"/><stop offset=".322" stop-color="#d77768"/><stop offset=".328" stop-color="#a8333c"/><stop offset=".339" stop-color="#81202f"/><stop offset=".344" stop-color="#9a2b37"/><stop offset=".350" stop-color="#bb4749"/><stop offset=".372" stop-color="#eaa28f"/><stop offset=".388" stop-color="#f1cec3"/><stop offset=".404" stop-color="#e8e1e1"/><stop offset=".432" stop-color="#dae2ea"/><stop offset=".486" stop-color="#d4e2ed"/><stop offset=".546" stop-color="#d6e2ec"/><stop offset=".590" stop-color="#e4e2e4"/><stop offset=".612" stop-color="#f1cec3"/><stop offset=".628" stop-color="#eaa28f"/><stop offset=".650" stop-color="#bb4749"/><stop offset=".656" stop-color="#9a2b37"/><stop offset=".661" stop-color="#81202f"/><stop offset=".672" stop-color="#ab353d"/><stop offset=".678" stop-color="#d77768"/><stop offset=".689" stop-color="#eda996"/><stop offset=".699" stop-color="#f2c8b9"/><stop offset=".721" stop-color="#ebdbd7"/><stop offset=".738" stop-color="#e9e1e0"/><stop offset=".765" stop-color="#cee0ed"/><stop offset=".885" stop-color="#679dc9"/><stop offset=".934" stop-color="#4985b8"/><stop offset="1.000" stop-color="#3c74a8"/></linearGradient><linearGradient id="g57" x1="0" y1="0" x2="0" y2="1"><stop offset=".000" stop-color="#3e77ab"/><stop offset=".060" stop-color="#4985b8"/><stop offset=".126" stop-color="#6ea3cd"/><stop offset=".235" stop-color="#d1e1ee"/><stop offset=".262" stop-color="#e9e1e0"/><stop offset=".284" stop-color="#edd7d0"/><stop offset=".301" stop-color="#f1c1b1"/><stop offset=".311" stop-color="#e89e8b"/><stop offset=".322" stop-color="#ce645c"/><stop offset=".328" stop-color="#9d2c38"/><stop offset=".333" stop-color="#842130"/><stop offset=".339" stop-color="#8b2332"/><stop offset=".350" stop-color="#c85a55"/><stop offset=".366" stop-color="#e89c8a"/><stop offset=".383" stop-color="#f2cdc0"/><stop offset=".399" stop-color="#e9e1e0"/><stop offset=".432" stop-color="#d8e2eb"/><stop offset=".481" stop-color="#d3e2ed"/><stop offset=".552" stop-color="#d5e2ec"/><stop offset=".596" stop-color="#e5e2e4"/><stop offset=".617" stop-color="#f2cdc0"/><stop offset=".634" stop-color="#e89c8a"/><stop offset=".650" stop-color="#c85a55"/><stop offset=".661" stop-color="#8b2332"/><stop offset=".667" stop-color="#842130"/><stop offset=".672" stop-color="#9e2d39"/><stop offset=".678" stop-color="#ce645c"/><stop offset=".683" stop-color="#de8574"/><stop offset=".694" stop-color="#eeb19f"/><stop offset=".705" stop-color="#f3ccbe"/><stop offset=".738" stop-color="#e9e1e0"/><stop offset=".760" stop-color="#d3e2ed"/><stop offset=".792" stop-color="#aecde4"/><stop offset=".874" stop-color="#689eca"/><stop offset=".929" stop-color="#4884b8"/><stop offset="1.000" stop-color="#3a71a5"/></linearGradient><linearGradient id="g58" x1="0" y1="0" x2="0" y2="1"><stop offset=".000" stop-color="#3c74a8"/><stop offset=".066" stop-color="#4783b7"/><stop offset=".126" stop-color="#699fca"/><stop offset=".235" stop-color="#cee0ed"/><stop offset=".262" stop-color="#e9e1e0"/><stop offset=".279" stop-color="#ecd9d4"/><stop offset=".295" stop-color="#f3c9bb"/><stop offset=".311" stop-color="#e59785"/><stop offset=".322" stop-color="#c75853"/><stop offset=".328" stop-color="#952835"/><stop offset=".333" stop-color="#81202f"/><stop offset=".339" stop-color="#952835"/><stop offset=".344" stop-color="#ba4748"/><stop offset=".350" stop-color="#ce655c"/><stop offset=".361" stop-color="#e3907f"/><stop offset=".377" stop-color="#f2c5b6"/><stop offset=".399" stop-color="#e7e2e2"/><stop offset=".426" stop-color="#d9e2ea"/><stop offset=".492" stop-color="#d3e2ed"/><stop offset=".552" stop-color="#d5e2ec"/><stop offset=".601" stop-color="#e7e2e2"/><stop offset=".623" stop-color="#f2c5b6"/><stop offset=".639" stop-color="#e3907f"/><stop offset=".650" stop-color="#ce655c"/><stop offset=".656" stop-color="#ba4748"/><stop offset=".661" stop-color="#952835"/><stop offset=".667" stop-color="#81202f"/><stop offset=".672" stop-color="#962835"/><stop offset=".678" stop-color="#c75853"/><stop offset=".683" stop-color="#da7c6c"/><stop offset=".694" stop-color="#edac99"/><stop offset=".705" stop-color="#f3c9bb"/><stop offset=".727" stop-color="#ebdcd9"/><stop offset=".738" stop-color="#e9e1e0"/><stop offset=".760" stop-color="#d3e2ee"/><stop offset=".792" stop-color="#aacbe3"/><stop offset=".874" stop-color="#649bc7"/><stop offset=".923" stop-color="#4783b7"/><stop offset="1.000" stop-color="#396fa3"/></linearGradient><linearGradient id="g59" x1="0" y1="0" x2="0" y2="1"><stop offset=".000" stop-color="#3a71a5"/><stop offset=".077" stop-color="#4884b8"/><stop offset=".126" stop-color="#659bc8"/><stop offset=".208" stop-color="#accce3"/><stop offset=".240" stop-color="#d3e2ed"/><stop offset=".262" stop-color="#e8e1e0"/><stop offset=".290" stop-color="#f1cfc3"/><stop offset=".306" stop-color="#eca794"/><stop offset=".317" stop-color="#d67467"/><stop offset=".322" stop-color="#be4c4c"/><stop offset=".328" stop-color="#8e2433"/><stop offset=".333" stop-color="#832030"/><stop offset=".339" stop-color="#a12f39"/><stop offset=".344" stop-color="#c2514f"/><stop offset=".361" stop-color="#e69785"/><stop offset=".377" stop-color="#f3c9bb"/><stop offset=".393" stop-color="#eadfdd"/><stop offset=".448" stop-color="#d5e2ec"/><stop offset=".568" stop-color="#d8e2eb"/><stop offset=".601" stop-color="#e6e2e3"/><stop offset=".623" stop-color="#f3c9bb"/><stop offset=".634" stop-color="#edab98"/><stop offset=".650" stop-color="#d26d62"/><stop offset=".656" stop-color="#c2514f"/><stop offset=".661" stop-color="#a12f39"/><stop offset=".667" stop-color="#832030"/><stop offset=".672" stop-color="#8e2433"/><stop offset=".678" stop-color="#be4c4c"/><stop offset=".683" stop-color="#d67467"/><stop offset=".694" stop-color="#eca794"/><stop offset=".710" stop-color="#f1cec2"/><stop offset=".738" stop-color="#e8e1e0"/><stop offset=".760" stop-color="#d2e2ee"/><stop offset=".792" stop-color="#a8cae2"/><stop offset=".874" stop-color="#6098c5"/><stop offset=".918" stop-color="#4783b7"/><stop offset="1.000" stop-color="#386da1"/></linearGradient><linearGradient id="g60" x1="0" y1="0" x2="0" y2="1"><stop offset=".000" stop-color="#386fa3"/><stop offset=".077" stop-color="#4682b6"/><stop offset=".126" stop-color="#6198c6"/><stop offset=".208" stop-color="#a9cbe2"/><stop offset=".240" stop-color="#d3e2ee"/><stop offset=".262" stop-color="#e8e1e0"/><stop offset=".290" stop-color="#f2cdc0"/><stop offset=".306" stop-color="#eaa18e"/><stop offset=".317" stop-color="#d16c61"/><stop offset=".322" stop-color="#b54044"/><stop offset=".328" stop-color="#872231"/><stop offset=".333" stop-color="#872231"/><stop offset=".339" stop-color="#ac363e"/><stop offset=".344" stop-color="#c85a55"/><stop offset=".361" stop-color="#e89d8b"/><stop offset=".377" stop-color="#f2ccbf"/><stop offset=".393" stop-color="#e9e0df"/><stop offset=".426" stop-color="#d9e2ea"/><stop offset=".481" stop-color="#d4e2ed"/><stop offset=".557" stop-color="#d6e2ec"/><stop offset=".601" stop-color="#e6e2e3"/><stop offset=".623" stop-color="#f2ccbf"/><stop offset=".639" stop-color="#e89d8b"/><stop offset=".656" stop-color="#c85a55"/><stop offset=".661" stop-color="#ac363e"/><stop offset=".667" stop-color="#872231"/><stop offset=".672" stop-color="#882231"/><stop offset=".678" stop-color="#b54044"/><stop offset=".683" stop-color="#d16c61"/><stop offset=".694" stop-color="#eaa18e"/><stop offset=".710" stop-color="#f2cdbf"/><stop offset=".732" stop-color="#eadfdc"/><stop offset=".760" stop-color="#d1e1ee"/><stop offset=".792" stop-color="#a5c8e1"/><stop offset=".874" stop-color="#5d95c4"/><stop offset=".913" stop-color="#4783b7"/><stop offset="1.000" stop-color="#366ca0"/></linearGradient><linearGradient id="g61" x1="0" y1="0" x2="0" y2="1"><stop offset=".000" stop-color="#376da1"/><stop offset=".082" stop-color="#4682b6"/><stop offset=".126" stop-color="#5e96c4"/><stop offset=".208" stop-color="#a7c9e2"/><stop offset=".240" stop-color="#d2e2ee"/><stop offset=".262" stop-color="#e8e1e0"/><stop offset=".290" stop-color="#f3cbbd"/><stop offset=".306" stop-color="#e79b89"/><stop offset=".317" stop-color="#cc615a"/><stop offset=".322" stop-color="#aa343d"/><stop offset=".328" stop-color="#832130"/><stop offset=".333" stop-color="#8f2433"/><stop offset=".339" stop-color="#b64145"/><stop offset=".344" stop-color="#cd635b"/><stop offset=".355" stop-color="#e28e7d"/><stop offset=".372" stop-color="#f1c3b4"/><stop offset=".393" stop-color="#e9e1e0"/><stop offset=".415" stop-color="#dce2e8"/><stop offset=".464" stop-color="#d5e2ec"/><stop offset=".563" stop-color="#d7e2eb"/><stop offset=".601" stop-color="#e5e2e4"/><stop offset=".623" stop-color="#f1cec2"/><stop offset=".639" stop-color="#eaa290"/><stop offset=".656" stop-color="#cd635b"/><stop offset=".661" stop-color="#b64145"/><stop offset=".667" stop-color="#8f2433"/><stop offset=".672" stop-color="#832130"/><stop offset=".678" stop-color="#aa343d"/><stop offset=".683" stop-color="#cc615a"/><stop offset=".689" stop-color="#dd8272"/><stop offset=".699" stop-color="#eeaf9d"/><stop offset=".710" stop-color="#f3cbbc"/><stop offset=".732" stop-color="#eadedc"/><stop offset=".760" stop-color="#d0e1ed"/><stop offset=".792" stop-color="#a3c7e0"/><stop offset=".880" stop-color="#5790c0"/><stop offset=".913" stop-color="#4682b6"/><stop offset="1.000" stop-color="#356a9e"/></linearGradient><linearGradient id="g62" x1="0" y1="0" x2="0" y2="1"><stop offset=".000" stop-color="#366b9f"/><stop offset=".093" stop-color="#4884b8"/><stop offset=".126" stop-color="#5b93c2"/><stop offset=".208" stop-color="#a4c8e1"/><stop offset=".240" stop-color="#d1e1ee"/><stop offset=".262" stop-color="#e9e1e0"/><stop offset=".290" stop-color="#f2c8b9"/><stop offset=".306" stop-color="#e59583"/><stop offset=".317" stop-color="#c65652"/><stop offset=".322" stop-color="#9d2d38"/><stop offset=".328" stop-color="#81202f"/><stop offset=".333" stop-color="#992a37"/><stop offset=".339" stop-color="#be4c4b"/><stop offset=".355" stop-color="#e49482"/><stop offset=".372" stop-color="#f2c6b7"/><stop offset=".393" stop-color="#e8e2e2"/><stop offset=".426" stop-color="#d9e2ea"/><stop offset=".481" stop-color="#d5e2ec"/><stop offset=".568" stop-color="#d8e2eb"/><stop offset=".607" stop-color="#e8e2e2"/><stop offset=".628" stop-color="#f2c6b7"/><stop offset=".645" stop-color="#e49482"/><stop offset=".661" stop-color="#be4c4b"/><stop offset=".667" stop-color="#992a37"/><stop offset=".672" stop-color="#81202f"/><stop offset=".678" stop-color="#9d2d38"/><stop offset=".683" stop-color="#c65652"/><stop offset=".689" stop-color="#d97a6b"/><stop offset=".699" stop-color="#edaa97"/><stop offset=".710" stop-color="#f2c7b9"/><stop offset=".738" stop-color="#e9e1e0"/><stop offset=".760" stop-color="#cfe0ed"/><stop offset=".792" stop-color="#a1c6e0"/><stop offset=".880" stop-color="#558fbf"/><stop offset=".934" stop-color="#3f78ac"/><stop offset="1.000" stop-color="#35699d"/></linearGradient><linearGradient id="g63" x1="0" y1="0" x2="0" y2="1"><stop offset=".000" stop-color="#356a9e"/><stop offset=".077" stop-color="#427cb0"/><stop offset=".120" stop-color="#558fbf"/><stop offset=".208" stop-color="#a2c6e0"/><stop offset=".240" stop-color="#d0e1ed"/><stop offset=".262" stop-color="#e9e1e0"/><stop offset=".284" stop-color="#f1cfc3"/><stop offset=".301" stop-color="#eca794"/><stop offset=".311" stop-color="#d77668"/><stop offset=".317" stop-color="#c04f4d"/><stop offset=".322" stop-color="#962836"/><stop offset=".328" stop-color="#832030"/><stop offset=".333" stop-color="#a02e39"/><stop offset=".339" stop-color="#c2514f"/><stop offset=".350" stop-color="#dd8272"/><stop offset=".372" stop-color="#f2c8b9"/><stop offset=".393" stop-color="#e8e2e2"/><stop offset=".421" stop-color="#dbe2e9"/><stop offset=".464" stop-color="#d6e2ec"/><stop offset=".563" stop-color="#d8e2eb"/><stop offset=".607" stop-color="#e8e2e2"/><stop offset=".628" stop-color="#f2c8b9"/><stop offset=".650" stop-color="#dd8272"/><stop offset=".661" stop-color="#c2514f"/><stop offset=".667" stop-color="#a02e39"/><stop offset=".672" stop-color="#832030"/><stop offset=".678" stop-color="#962836"/><stop offset=".683" stop-color="#c04f4d"/><stop offset=".689" stop-color="#d77668"/><stop offset=".699" stop-color="#eca794"/><stop offset=".710" stop-color="#f2c5b7"/><stop offset=".732" stop-color="#eadedb"/><stop offset=".760" stop-color="#cee0ed"/><stop offset=".792" stop-color="#a0c5df"/><stop offset=".880" stop-color="#538dbe"/><stop offset=".923" stop-color="#417baf"/><stop offset="1.000" stop-color="#34689c"/></linearGradient><linearGradient id="g64" x1="0" y1="0" x2="0" y2="1"><stop offset=".000" stop-color="#34689c"/><stop offset=".077" stop-color="#417baf"/><stop offset=".120" stop-color="#538dbe"/><stop offset=".202" stop-color="#9bc2de"/><stop offset=".240" stop-color="#cfe0ed"/><stop offset=".262" stop-color="#e8e1e0"/><stop offset=".284" stop-color="#f2cec2"/><stop offset=".301" stop-color="#eba592"/><stop offset=".311" stop-color="#d57366"/><stop offset=".317" stop-color="#bd4a4b"/><stop offset=".322" stop-color="#932634"/><stop offset=".328" stop-color="#842130"/><stop offset=".333" stop-color="#a4313b"/><stop offset=".339" stop-color="#c55551"/><stop offset=".344" stop-color="#d47064"/><stop offset=".361" stop-color="#edab99"/><stop offset=".372" stop-color="#f3c8ba"/><stop offset=".393" stop-color="#e8e2e2"/><stop offset=".426" stop-color="#dae2ea"/><stop offset=".546" stop-color="#d7e2eb"/><stop offset=".607" stop-color="#e8e2e2"/><stop offset=".628" stop-color="#f3c8ba"/><stop offset=".645" stop-color="#e69886"/><stop offset=".661" stop-color="#c55551"/><stop offset=".667" stop-color="#a4313b"/><stop offset=".672" stop-color="#842130"/><stop offset=".678" stop-color="#932634"/><stop offset=".683" stop-color="#bd4a4b"/><stop offset=".689" stop-color="#d57366"/><stop offset=".699" stop-color="#eba592"/><stop offset=".716" stop-color="#f2cec2"/><stop offset=".738" stop-color="#e8e1e0"/><stop offset=".760" stop-color="#cee0ed"/><stop offset=".792" stop-color="#9fc4df"/><stop offset=".874" stop-color="#558fbf"/><stop offset=".951" stop-color="#3970a4"/><stop offset="1.000" stop-color="#34689b"/></linearGradient><linearGradient id="g65" x1="0" y1="0" x2="0" y2="1"><stop offset=".000" stop-color="#34679b"/><stop offset=".049" stop-color="#3970a4"/><stop offset=".120" stop-color="#518cbd"/><stop offset=".208" stop-color="#9fc4df"/><stop offset=".240" stop-color="#cee0ed"/><stop offset=".262" stop-color="#e8e1e0"/><stop offset=".284" stop-color="#f2cdc1"/><stop offset=".301" stop-color="#eba390"/><stop offset=".311" stop-color="#d36f63"/><stop offset=".317" stop-color="#b94648"/><stop offset=".322" stop-color="#8f2433"/><stop offset=".328" stop-color="#852130"/><stop offset=".333" stop-color="#a8333c"/><stop offset=".339" stop-color="#c75853"/><stop offset=".344" stop-color="#d57265"/><stop offset=".372" stop-color="#f3c9bb"/><stop offset=".393" stop-color="#e8e2e2"/><stop offset=".421" stop-color="#dce2e9"/><stop offset=".552" stop-color="#d8e2eb"/><stop offset=".607" stop-color="#e8e2e2"/><stop offset=".628" stop-color="#f3c9bb"/><stop offset=".645" stop-color="#e79a88"/><stop offset=".661" stop-color="#c75853"/><stop offset=".667" stop-color="#a8333c"/><stop offset=".672" stop-color="#852130"/><stop offset=".678" stop-color="#8f2433"/><stop offset=".683" stop-color="#b94648"/><stop offset=".689" stop-color="#d36f63"/><stop offset=".699" stop-color="#eba390"/><stop offset=".716" stop-color="#f2cdc1"/><stop offset=".738" stop-color="#e8e1e1"/><stop offset=".760" stop-color="#cddfed"/><stop offset=".798" stop-color="#98c0dd"/><stop offset=".880" stop-color="#508bbc"/><stop offset=".956" stop-color="#376da1"/><stop offset="1.000" stop-color="#34679b"/></linearGradient><linearGradient id="g66" x1="0" y1="0" x2="0" y2="1"><stop offset=".000" stop-color="#34679a"/><stop offset=".060" stop-color="#3b73a7"/><stop offset=".126" stop-color="#538dbe"/><stop offset=".208" stop-color="#9ec3de"/><stop offset=".240" stop-color="#cddfed"/><stop offset=".262" stop-color="#e8e1e1"/><stop offset=".284" stop-color="#f2cdc0"/><stop offset=".301" stop-color="#eaa08e"/><stop offset=".311" stop-color="#d26c61"/><stop offset=".317" stop-color="#b54145"/><stop offset=".322" stop-color="#8c2332"/><stop offset=".328" stop-color="#872231"/><stop offset=".333" stop-color="#ac363e"/><stop offset=".339" stop-color="#c95b55"/><stop offset=".350" stop-color="#df8877"/><stop offset=".372" stop-color="#f3cabc"/><stop offset=".393" stop-color="#e8e2e2"/><stop offset=".454" stop-color="#d8e2eb"/><stop offset=".585" stop-color="#dee2e8"/><stop offset=".607" stop-color="#e8e2e2"/><stop offset=".628" stop-color="#f3cabc"/><stop offset=".645" stop-color="#e79b89"/><stop offset=".661" stop-color="#c95b55"/><stop offset=".667" stop-color="#ac363e"/><stop offset=".672" stop-color="#872231"/><stop offset=".678" stop-color="#8c2332"/><stop offset=".683" stop-color="#b54145"/><stop offset=".689" stop-color="#d26c61"/><stop offset=".699" stop-color="#eaa08e"/><stop offset=".716" stop-color="#f2cdc0"/><stop offset=".738" stop-color="#e8e1e1"/><stop offset=".760" stop-color="#ccdfec"/><stop offset=".798" stop-color="#97bfdc"/><stop offset=".874" stop-color="#528cbe"/><stop offset=".956" stop-color="#376ca0"/><stop offset="1.000" stop-color="#33669a"/></linearGradient><linearGradient id="g67" x1="0" y1="0" x2="0" y2="1"><stop offset=".000" stop-color="#33669a"/><stop offset=".044" stop-color="#366ca0"/><stop offset=".120" stop-color="#4e89bc"/><stop offset=".202" stop-color="#97bfdc"/><stop offset=".240" stop-color="#ccdfec"/><stop offset=".262" stop-color="#e8e1e1"/><stop offset=".284" stop-color="#f3ccbf"/><stop offset=".301" stop-color="#e99e8c"/><stop offset=".311" stop-color="#d0685f"/><stop offset=".317" stop-color="#b23c42"/><stop offset=".322" stop-color="#892231"/><stop offset=".328" stop-color="#8a2232"/><stop offset=".339" stop-color="#ca5e57"/><stop offset=".355" stop-color="#e89d8b"/><stop offset=".372" stop-color="#f3cabc"/><stop offset=".393" stop-color="#e8e2e1"/><stop offset=".470" stop-color="#d8e2ea"/><stop offset=".563" stop-color="#dae2ea"/><stop offset=".607" stop-color="#e8e2e1"/><stop offset=".628" stop-color="#f3cabc"/><stop offset=".645" stop-color="#e89d8b"/><stop offset=".661" stop-color="#ca5e57"/><stop offset=".672" stop-color="#8a2232"/><stop offset=".678" stop-color="#892231"/><stop offset=".683" stop-color="#b23c42"/><stop offset=".689" stop-color="#d0685f"/><stop offset=".699" stop-color="#e99e8c"/><stop offset=".716" stop-color="#f3ccbe"/><stop offset=".738" stop-color="#e8e1e1"/><stop offset=".760" stop-color="#ccdfec"/><stop offset=".792" stop-color="#9cc2de"/><stop offset=".874" stop-color="#518bbd"/><stop offset=".951" stop-color="#376da1"/><stop offset="1.000" stop-color="#336599"/></linearGradient><linearGradient id="g68" x1="0" y1="0" x2="0" y2="1"><stop offset=".000" stop-color="#336599"/><stop offset=".044" stop-color="#366b9f"/><stop offset=".120" stop-color="#4d88bb"/><stop offset=".202" stop-color="#96bedc"/><stop offset=".240" stop-color="#ccdeec"/><stop offset=".262" stop-color="#e8e1e1"/><stop offset=".284" stop-color="#f3cbbd"/><stop offset=".301" stop-color="#e89c89"/><stop offset=".311" stop-color="#ce655c"/><stop offset=".317" stop-color="#ae373f"/><stop offset=".322" stop-color="#862231"/><stop offset=".328" stop-color="#8c2332"/><stop offset=".333" stop-color="#b33e43"/><stop offset=".339" stop-color="#cc6059"/><stop offset=".355" stop-color="#e99e8c"/><stop offset=".372" stop-color="#f3cbbd"/><stop offset=".399" stop-color="#e5e2e4"/><stop offset=".454" stop-color="#d9e2ea"/><stop offset=".546" stop-color="#d9e2ea"/><stop offset=".607" stop-color="#e8e1e1"/><stop offset=".628" stop-color="#f3cbbd"/><stop offset=".645" stop-color="#e99e8c"/><stop offset=".661" stop-color="#cc6059"/><stop offset=".667" stop-color="#b33e43"/><stop offset=".672" stop-color="#8c2332"/><stop offset=".678" stop-color="#862231"/><stop offset=".683" stop-color="#ae373f"/><stop offset=".689" stop-color="#ce655c"/><stop offset=".699" stop-color="#e89c89"/><stop offset=".716" stop-color="#f3cbbd"/><stop offset=".738" stop-color="#e8e1e1"/><stop offset=".760" stop-color="#cbdeec"/><stop offset=".792" stop-color="#9bc1dd"/><stop offset=".874" stop-color="#508bbd"/><stop offset=".956" stop-color="#356b9f"/><stop offset="1.000" stop-color="#336598"/></linearGradient><linearGradient id="g69" x1="0" y1="0" x2="0" y2="1"><stop offset=".000" stop-color="#336498"/><stop offset=".044" stop-color="#356a9e"/><stop offset=".120" stop-color="#4c87ba"/><stop offset=".202" stop-color="#95bedb"/><stop offset=".240" stop-color="#cbdeec"/><stop offset=".262" stop-color="#e8e1e0"/><stop offset=".284" stop-color="#f3cabc"/><stop offset=".301" stop-color="#e79987"/><stop offset=".311" stop-color="#cc6159"/><stop offset=".317" stop-color="#a9343d"/><stop offset=".322" stop-color="#852130"/><stop offset=".328" stop-color="#902433"/><stop offset=".333" stop-color="#b64245"/><stop offset=".339" stop-color="#cd635b"/><stop offset=".355" stop-color="#e9a08d"/><stop offset=".372" stop-color="#f3cbbd"/><stop offset=".393" stop-color="#e8e1e1"/><stop offset=".481" stop-color="#d9e2ea"/><stop offset=".563" stop-color="#dbe2e9"/><stop offset=".601" stop-color="#e5e2e3"/><stop offset=".612" stop-color="#eaddda"/><stop offset=".628" stop-color="#f3cbbd"/><stop offset=".645" stop-color="#e9a08d"/><stop offset=".661" stop-color="#cd635b"/><stop offset=".667" stop-color="#b64245"/><stop offset=".672" stop-color="#902433"/><stop offset=".678" stop-color="#852130"/><stop offset=".683" stop-color="#a9343d"/><stop offset=".689" stop-color="#cc6159"/><stop offset=".694" stop-color="#dc8170"/><stop offset=".705" stop-color="#edad9b"/><stop offset=".716" stop-color="#f3cabc"/><stop offset=".738" stop-color="#e8e1e1"/><stop offset=".754" stop-color="#d5e2ec"/><stop offset=".792" stop-color="#9ac1dd"/><stop offset=".874" stop-color="#4f8abc"/><stop offset=".951" stop-color="#366ca0"/><stop offset="1.000" stop-color="#326498"/></linearGradient><linearGradient id="g70" x1="0" y1="0" x2="0" y2="1"><stop offset=".000" stop-color="#326497"/><stop offset=".049" stop-color="#366b9f"/><stop offset=".120" stop-color="#4b87ba"/><stop offset=".202" stop-color="#94bddb"/><stop offset=".246" stop-color="#d5e2ed"/><stop offset=".262" stop-color="#e8e1e0"/><stop offset=".284" stop-color="#f3c9bb"/><stop offset=".295" stop-color="#edac99"/><stop offset=".306" stop-color="#db7e6e"/><stop offset=".311" stop-color="#c95c56"/><stop offset=".317" stop-color="#a4313b"/><stop offset=".322" stop-color="#832130"/><stop offset=".328" stop-color="#932635"/><stop offset=".333" stop-color="#b94648"/><stop offset=".339" stop-color="#ce655c"/><stop offset=".355" stop-color="#eaa18e"/><stop offset=".372" stop-color="#f3ccbe"/><stop offset=".399" stop-color="#e6e2e3"/><stop offset=".443" stop-color="#dbe2e9"/><stop offset=".541" stop-color="#dae2e9"/><stop offset=".607" stop-color="#e8e1e1"/><stop offset=".628" stop-color="#f3ccbe"/><stop offset=".645" stop-color="#eaa18e"/><stop offset=".661" stop-color="#ce655c"/><stop offset=".667" stop-color="#b94648"/><stop offset=".672" stop-color="#932635"/><stop offset=".678" stop-color="#832130"/><stop offset=".683" stop-color="#a4313b"/><stop offset=".689" stop-color="#c95c56"/><stop offset=".699" stop-color="#e69785"/><stop offset=".716" stop-color="#f3c9bb"/><stop offset=".738" stop-color="#e8e1e0"/><stop offset=".760" stop-color="#cadeec"/><stop offset=".792" stop-color="#9ac0dd"/><stop offset=".825" stop-color="#77aad1"/><stop offset=".880" stop-color="#4b86ba"/><stop offset=".956" stop-color="#35699d"/><stop offset="1.000" stop-color="#326397"/></linearGradient><linearGradient id="g71" x1="0" y1="0" x2="0" y2="1"><stop offset=".000" stop-color="#326397"/><stop offset=".060" stop-color="#386fa3"/><stop offset=".126" stop-color="#4e89bb"/><stop offset=".208" stop-color="#99c0dd"/><stop offset=".246" stop-color="#d4e2ed"/><stop offset=".268" stop-color="#eaddda"/><stop offset=".284" stop-color="#f3c9ba"/><stop offset=".295" stop-color="#edab99"/><stop offset=".306" stop-color="#da7d6d"/><stop offset=".311" stop-color="#c85b55"/><stop offset=".317" stop-color="#a3303a"/><stop offset=".322" stop-color="#832030"/><stop offset=".328" stop-color="#942735"/><stop offset=".333" stop-color="#ba4749"/><stop offset=".339" stop-color="#ce665d"/><stop offset=".355" stop-color="#eaa18e"/><stop offset=".372" stop-color="#f3cbbe"/><stop offset=".399" stop-color="#e6e2e3"/><stop offset=".448" stop-color="#dbe2e9"/><stop offset=".552" stop-color="#dbe2e9"/><stop offset=".607" stop-color="#e9e1e0"/><stop offset=".628" stop-color="#f3cbbe"/><stop offset=".645" stop-color="#eaa18e"/><stop offset=".661" stop-color="#ce665d"/><stop offset=".667" stop-color="#ba4749"/><stop offset=".672" stop-color="#942735"/><stop offset=".678" stop-color="#832030"/><stop offset=".683" stop-color="#a3303a"/><stop offset=".689" stop-color="#c85b55"/><stop offset=".699" stop-color="#e59684"/><stop offset=".716" stop-color="#f3c9ba"/><stop offset=".738" stop-color="#e8e1e1"/><stop offset=".754" stop-color="#d4e2ed"/><stop offset=".792" stop-color="#99c0dd"/><stop offset=".880" stop-color="#4a86b9"/><stop offset=".951" stop-color="#356b9f"/><stop offset="1.000" stop-color="#326397"/></linearGradient><linearGradient id="g72" x1="0" y1="0" x2="0" y2="1"><stop offset=".000" stop-color="#326396"/><stop offset=".044" stop-color="#34689c"/><stop offset=".120" stop-color="#4a86b9"/><stop offset=".208" stop-color="#98bfdc"/><stop offset=".246" stop-color="#d4e2ed"/><stop offset=".268" stop-color="#eaddda"/><stop offset=".284" stop-color="#f3c9ba"/><stop offset=".295" stop-color="#edab99"/><stop offset=".306" stop-color="#da7d6d"/><stop offset=".311" stop-color="#c85b55"/><stop offset=".317" stop-color="#a3303a"/><stop offset=".322" stop-color="#832030"/><stop offset=".328" stop-color="#942735"/><stop offset=".333" stop-color="#ba4749"/><stop offset=".339" stop-color="#ce665d"/><stop offset=".355" stop-color="#eaa18e"/><stop offset=".372" stop-color="#f3cbbd"/><stop offset=".399" stop-color="#e7e2e3"/><stop offset=".443" stop-color="#dce2e8"/><stop offset=".536" stop-color="#dbe2e9"/><stop offset=".607" stop-color="#e9e0df"/><stop offset=".628" stop-color="#f3cbbd"/><stop offset=".645" stop-color="#eaa18e"/><stop offset=".661" stop-color="#ce665d"/><stop offset=".667" stop-color="#ba4749"/><stop offset=".672" stop-color="#942735"/><stop offset=".678" stop-color="#832030"/><stop offset=".683" stop-color="#a3303a"/><stop offset=".689" stop-color="#c85b55"/><stop offset=".699" stop-color="#e59684"/><stop offset=".716" stop-color="#f3c9ba"/><stop offset=".738" stop-color="#e8e1e1"/><stop offset=".754" stop-color="#d4e2ed"/><stop offset=".792" stop-color="#98bfdc"/><stop offset=".874" stop-color="#4d88bb"/><stop offset=".945" stop-color="#366ca0"/><stop offset="1.000" stop-color="#326296"/></linearGradient><linearGradient id="g73" x1="0" y1="0" x2="0" y2="1"><stop offset=".000" stop-color="#326296"/><stop offset=".044" stop-color="#34689c"/><stop offset=".120" stop-color="#4985b9"/><stop offset=".208" stop-color="#97bfdc"/><stop offset=".246" stop-color="#d4e2ed"/><stop offset=".268" stop-color="#eaddda"/><stop offset=".284" stop-color="#f3c9ba"/><stop offset=".295" stop-color="#edab99"/><stop offset=".306" stop-color="#da7d6d"/><stop offset=".311" stop-color="#c85b55"/><stop offset=".317" stop-color="#a3303a"/><stop offset=".322" stop-color="#832030"/><stop offset=".328" stop-color="#942735"/><stop offset=".333" stop-color="#ba4749"/><stop offset=".339" stop-color="#ce665d"/><stop offset=".355" stop-color="#e9a08e"/><stop offset=".372" stop-color="#f3cabc"/><stop offset=".399" stop-color="#e7e2e2"/><stop offset=".437" stop-color="#dde2e8"/><stop offset=".546" stop-color="#dce2e8"/><stop offset=".607" stop-color="#e9e0de"/><stop offset=".628" stop-color="#f3cabc"/><stop offset=".645" stop-color="#e9a08e"/><stop offset=".661" stop-color="#ce665d"/><stop offset=".667" stop-color="#ba4749"/><stop offset=".672" stop-color="#942735"/><stop offset=".678" stop-color="#832030"/><stop offset=".683" stop-color="#a3303a"/><stop offset=".689" stop-color="#c85b55"/><stop offset=".699" stop-color="#e59684"/><stop offset=".716" stop-color="#f3c9ba"/><stop offset=".738" stop-color="#e8e1e1"/><stop offset=".754" stop-color="#d4e2ed"/><stop offset=".792" stop-color="#97bfdc"/><stop offset=".880" stop-color="#4985b9"/><stop offset=".945" stop-color="#366b9f"/><stop offset="1.000" stop-color="#326296"/></linearGradient><linearGradient id="g74" x1="0" y1="0" x2="0" y2="1"><stop offset=".000" stop-color="#316295"/><stop offset=".049" stop-color="#35699d"/><stop offset=".120" stop-color="#4985b8"/><stop offset=".208" stop-color="#96bedc"/><stop offset=".246" stop-color="#d3e2ed"/><stop offset=".262" stop-color="#e8e2e1"/><stop offset=".284" stop-color="#f3c9ba"/><stop offset=".295" stop-color="#edab99"/><stop offset=".306" stop-color="#da7d6d"/><stop offset=".311" stop-color="#c85b55"/><stop offset=".317" stop-color="#a3303a"/><stop offset=".322" stop-color="#832030"/><stop offset=".328" stop-color="#942735"/><stop offset=".333" stop-color="#ba4749"/><stop offset=".339" stop-color="#ce655d"/><stop offset=".355" stop-color="#e9a08d"/><stop offset=".372" stop-color="#f3cabb"/><stop offset=".399" stop-color="#e8e2e2"/><stop offset=".432" stop-color="#dee2e7"/><stop offset=".530" stop-color="#dce2e8"/><stop offset=".607" stop-color="#e9dfdd"/><stop offset=".628" stop-color="#f3cabb"/><stop offset=".645" stop-color="#e9a08d"/><stop offset=".661" stop-color="#ce655d"/><stop offset=".667" stop-color="#ba4749"/><stop offset=".672" stop-color="#942735"/><stop offset=".678" stop-color="#832030"/><stop offset=".683" stop-color="#a3303a"/><stop offset=".689" stop-color="#c85b55"/><stop offset=".699" stop-color="#e59684"/><stop offset=".716" stop-color="#f3c9ba"/><stop offset=".738" stop-color="#e8e2e1"/><stop offset=".754" stop-color="#d3e2ed"/><stop offset=".792" stop-color="#96bedc"/><stop offset=".874" stop-color="#4c88ba"/><stop offset=".951" stop-color="#35699d"/><stop offset="1.000" stop-color="#316295"/></linearGradient><linearGradient id="g75" x1="0" y1="0" x2="0" y2="1"><stop offset=".000" stop-color="#316195"/><stop offset=".044" stop-color="#34679b"/><stop offset=".120" stop-color="#4884b8"/><stop offset=".208" stop-color="#96bedc"/><stop offset=".246" stop-color="#d3e2ed"/><stop offset=".262" stop-color="#e8e2e2"/><stop offset=".284" stop-color="#f3c9ba"/><stop offset=".295" stop-color="#edab99"/><stop offset=".306" stop-color="#da7d6d"/><stop offset=".311" stop-color="#c85b55"/><stop offset=".317" stop-color="#a3303a"/><stop offset=".322" stop-color="#832030"/><stop offset=".328" stop-color="#942735"/><stop offset=".333" stop-color="#ba4749"/><stop offset=".339" stop-color="#ce655c"/><stop offset=".355" stop-color="#e99f8d"/><stop offset=".372" stop-color="#f3c9bb"/><stop offset=".399" stop-color="#e8e2e2"/><stop offset=".437" stop-color="#dee2e7"/><stop offset=".546" stop-color="#dde2e8"/><stop offset=".607" stop-color="#eadfdd"/><stop offset=".628" stop-color="#f3c9bb"/><stop offset=".645" stop-color="#e99f8d"/><stop offset=".661" stop-color="#ce655c"/><stop offset=".667" stop-color="#ba4749"/><stop offset=".672" stop-color="#942735"/><stop offset=".678" stop-color="#832030"/><stop offset=".683" stop-color="#a3303a"/><stop offset=".689" stop-color="#c85b55"/><stop offset=".699" stop-color="#e59684"/><stop offset=".716" stop-color="#f3c9ba"/><stop offset=".738" stop-color="#e8e2e2"/><stop offset=".754" stop-color="#d3e2ed"/><stop offset=".792" stop-color="#96bedb"/><stop offset=".880" stop-color="#4884b8"/><stop offset=".956" stop-color="#34679b"/><stop offset="1.000" stop-color="#316195"/></linearGradient><linearGradient id="g76" x1="0" y1="0" x2="0" y2="1"><stop offset=".000" stop-color="#316194"/><stop offset=".055" stop-color="#356a9e"/><stop offset=".120" stop-color="#4884b8"/><stop offset=".208" stop-color="#95bddb"/><stop offset=".246" stop-color="#d3e2ee"/><stop offset=".268" stop-color="#eadddb"/><stop offset=".284" stop-color="#f3c9ba"/><stop offset=".295" stop-color="#edab98"/><stop offset=".306" stop-color="#da7d6d"/><stop offset=".311" stop-color="#c85b55"/><stop offset=".317" stop-color="#a3303a"/><stop offset=".322" stop-color="#832030"/><stop offset=".328" stop-color="#942735"/><stop offset=".333" stop-color="#ba4748"/><stop offset=".339" stop-color="#ce655c"/><stop offset=".355" stop-color="#e99f8c"/><stop offset=".377" stop-color="#f1d0c5"/><stop offset=".404" stop-color="#e6e2e3"/><stop offset=".508" stop-color="#dde2e8"/><stop offset=".579" stop-color="#e1e2e6"/><stop offset=".607" stop-color="#eadedc"/><stop offset=".628" stop-color="#f2c8ba"/><stop offset=".645" stop-color="#e99f8c"/><stop offset=".661" stop-color="#ce655c"/><stop offset=".667" stop-color="#ba4748"/><stop offset=".672" stop-color="#942735"/><stop offset=".678" stop-color="#832030"/><stop offset=".683" stop-color="#a3303a"/><stop offset=".689" stop-color="#c85b55"/><stop offset=".699" stop-color="#e59684"/><stop offset=".716" stop-color="#f3c9ba"/><stop offset=".738" stop-color="#e8e2e2"/><stop offset=".754" stop-color="#d3e2ee"/><stop offset=".792" stop-color="#95bddb"/><stop offset=".880" stop-color="#4884b8"/><stop offset=".945" stop-color="#356a9e"/><stop offset="1.000" stop-color="#316194"/></linearGradient><linearGradient id="g77" x1="0" y1="0" x2="0" y2="1"><stop offset=".000" stop-color="#316094"/><stop offset=".060" stop-color="#366ca0"/><stop offset=".126" stop-color="#4b87ba"/><stop offset=".208" stop-color="#94bddb"/><stop offset=".235" stop-color="#bbd5e8"/><stop offset=".246" stop-color="#d3e2ee"/><stop offset=".268" stop-color="#eadddb"/><stop offset=".284" stop-color="#f3c9ba"/><stop offset=".295" stop-color="#edab98"/><stop offset=".306" stop-color="#da7d6d"/><stop offset=".311" stop-color="#c85b55"/><stop offset=".317" stop-color="#a3303a"/><stop offset=".322" stop-color="#832030"/><stop offset=".328" stop-color="#942735"/><stop offset=".333" stop-color="#ba4748"/><stop offset=".339" stop-color="#ce655c"/><stop offset=".355" stop-color="#e99e8c"/><stop offset=".372" stop-color="#f2c8b9"/><stop offset=".388" stop-color="#ecdad5"/><stop offset=".404" stop-color="#e7e2e3"/><stop offset=".541" stop-color="#dee2e7"/><stop offset=".607" stop-color="#eadedb"/><stop offset=".628" stop-color="#f2c8b9"/><stop offset=".645" stop-color="#e99e8c"/><stop offset=".661" stop-color="#ce655c"/><stop offset=".667" stop-color="#ba4748"/><stop offset=".672" stop-color="#942735"/><stop offset=".678" stop-color="#832030"/><stop offset=".683" stop-color="#a3303a"/><stop offset=".689" stop-color="#c85b55"/><stop offset=".699" stop-color="#e59684"/><stop offset=".716" stop-color="#f3c9ba"/><stop offset=".738" stop-color="#e8e2e2"/><stop offset=".754" stop-color="#d3e2ee"/><stop offset=".792" stop-color="#94bddb"/><stop offset=".874" stop-color="#4b87ba"/><stop offset=".940" stop-color="#366ca0"/><stop offset="1.000" stop-color="#316094"/></linearGradient><linearGradient id="g78" x1="0" y1="0" x2="0" y2="1"><stop offset=".000" stop-color="#316094"/><stop offset=".060" stop-color="#366ca0"/><stop offset=".126" stop-color="#4b86ba"/><stop offset=".208" stop-color="#93bcdb"/><stop offset=".246" stop-color="#d2e2ee"/><stop offset=".268" stop-color="#eadedb"/><stop offset=".284" stop-color="#f3c9ba"/><stop offset=".295" stop-color="#edab98"/><stop offset=".306" stop-color="#da7d6d"/><stop offset=".311" stop-color="#c85b55"/><stop offset=".317" stop-color="#a3303a"/><stop offset=".322" stop-color="#832030"/><stop offset=".328" stop-color="#942735"/><stop offset=".333" stop-color="#ba4748"/><stop offset=".339" stop-color="#ce655c"/><stop offset=".355" stop-color="#e89e8b"/><stop offset=".377" stop-color="#f1cfc3"/><stop offset=".404" stop-color="#e7e2e2"/><stop offset=".552" stop-color="#dfe2e7"/><stop offset=".607" stop-color="#eaddda"/><stop offset=".628" stop-color="#f2c7b8"/><stop offset=".650" stop-color="#e18b7a"/><stop offset=".661" stop-color="#ce655c"/><stop offset=".667" stop-color="#ba4748"/><stop offset=".672" stop-color="#942735"/><stop offset=".678" stop-color="#832030"/><stop offset=".683" stop-color="#a3303a"/><stop offset=".689" stop-color="#c85b55"/><stop offset=".699" stop-color="#e59684"/><stop offset=".716" stop-color="#f3c9ba"/><stop offset=".738" stop-color="#e8e2e2"/><stop offset=".754" stop-color="#d2e2ee"/><stop offset=".792" stop-color="#93bcdb"/><stop offset=".874" stop-color="#4b86ba"/><stop offset=".940" stop-color="#366ca0"/><stop offset="1.000" stop-color="#316094"/></linearGradient><linearGradient id="g79" x1="0" y1="0" x2="0" y2="1"><stop offset=".000" stop-color="#316093"/><stop offset=".055" stop-color="#35699d"/><stop offset=".120" stop-color="#4783b7"/><stop offset=".208" stop-color="#92bcda"/><stop offset=".246" stop-color="#d2e2ee"/><stop offset=".268" stop-color="#eadedb"/><stop offset=".284" stop-color="#f3c9ba"/><stop offset=".295" stop-color="#edab98"/><stop offset=".306" stop-color="#da7d6d"/><stop offset=".311" stop-color="#c85b55"/><stop offset=".317" stop-color="#a3303a"/><stop offset=".322" stop-color="#832030"/><stop offset=".328" stop-color="#942735"/><stop offset=".333" stop-color="#ba4748"/><stop offset=".339" stop-color="#ce645c"/><stop offset=".355" stop-color="#e89d8b"/><stop offset=".377" stop-color="#f1cfc3"/><stop offset=".404" stop-color="#e8e2e2"/><stop offset=".464" stop-color="#dfe2e7"/><stop offset=".568" stop-color="#e1e2e6"/><stop offset=".607" stop-color="#ebddd9"/><stop offset=".628" stop-color="#f2c6b8"/><stop offset=".645" stop-color="#e89d8b"/><stop offset=".661" stop-color="#ce645c"/><stop offset=".667" stop-color="#ba4748"/><stop offset=".672" stop-color="#942735"/><stop offset=".678" stop-color="#832030"/><stop offset=".683" stop-color="#a3303a"/><stop offset=".689" stop-color="#c85b55"/><stop offset=".699" stop-color="#e59684"/><stop offset=".716" stop-color="#f3c9ba"/><stop offset=".738" stop-color="#e8e2e2"/><stop offset=".754" stop-color="#d2e2ee"/><stop offset=".792" stop-color="#92bbda"/><stop offset=".880" stop-color="#4783b7"/><stop offset=".945" stop-color="#35699d"/><stop offset="1.000" stop-color="#316093"/></linearGradient><linearGradient id="g80" x1="0" y1="0" x2="0" y2="1"><stop offset=".000" stop-color="#316093"/><stop offset=".055" stop-color="#35699d"/><stop offset=".126" stop-color="#4a86b9"/><stop offset=".208" stop-color="#91bbda"/><stop offset=".246" stop-color="#d2e2ee"/><stop offset=".268" stop-color="#eadedb"/><stop offset=".284" stop-color="#f3c9ba"/><stop offset=".295" stop-color="#edab98"/><stop offset=".306" stop-color="#da7d6c"/><stop offset=".311" stop-color="#c85b55"/><stop offset=".317" stop-color="#a3303a"/><stop offset=".322" stop-color="#832030"/><stop offset=".328" stop-color="#942735"/><stop offset=".333" stop-color="#ba4648"/><stop offset=".339" stop-color="#ce645c"/><stop offset=".355" stop-color="#e89c8a"/><stop offset=".377" stop-color="#f2cec2"/><stop offset=".404" stop-color="#e8e2e1"/><stop offset=".563" stop-color="#e1e2e6"/><stop offset=".607" stop-color="#ebdcd8"/><stop offset=".628" stop-color="#f2c6b7"/><stop offset=".645" stop-color="#e89c8a"/><stop offset=".661" stop-color="#ce645c"/><stop offset=".667" stop-color="#ba4648"/><stop offset=".672" stop-color="#942735"/><stop offset=".678" stop-color="#832030"/><stop offset=".683" stop-color="#a3303a"/><stop offset=".689" stop-color="#c85b55"/><stop offset=".699" stop-color="#e59684"/><stop offset=".716" stop-color="#f3c9ba"/><stop offset=".738" stop-color="#e8e2e2"/><stop offset=".754" stop-color="#d2e2ee"/><stop offset=".765" stop-color="#b9d4e7"/><stop offset=".792" stop-color="#91bbda"/><stop offset=".874" stop-color="#4a86b9"/><stop offset=".945" stop-color="#35699d"/><stop offset="1.000" stop-color="#316093"/></linearGradient><linearGradient id="g81" x1="0" y1="0" x2="0" y2="1"><stop offset=".000" stop-color="#305f93"/><stop offset=".049" stop-color="#34679b"/><stop offset=".126" stop-color="#4a86b9"/><stop offset=".208" stop-color="#91bada"/><stop offset=".246" stop-color="#d1e1ee"/><stop offset=".262" stop-color="#e8e2e2"/><stop offset=".284" stop-color="#f3c9ba"/><stop offset=".295" stop-color="#edab98"/><stop offset=".306" stop-color="#da7c6c"/><stop offset=".311" stop-color="#c85a55"/><stop offset=".317" stop-color="#a3303a"/><stop offset=".322" stop-color="#832030"/><stop offset=".328" stop-color="#942735"/><stop offset=".333" stop-color="#ba4648"/><stop offset=".339" stop-color="#cd645c"/><stop offset=".355" stop-color="#e89c8a"/><stop offset=".377" stop-color="#f2cec1"/><stop offset=".410" stop-color="#e7e2e3"/><stop offset=".574" stop-color="#e3e2e5"/><stop offset=".596" stop-color="#e8e1e1"/><stop offset=".612" stop-color="#edd8d1"/><stop offset=".634" stop-color="#f0b9a9"/><stop offset=".656" stop-color="#d87869"/><stop offset=".667" stop-color="#ba4648"/><stop offset=".672" stop-color="#942735"/><stop offset=".678" stop-color="#832030"/><stop offset=".683" stop-color="#a3303a"/><stop offset=".689" stop-color="#c85a55"/><stop offset=".699" stop-color="#e59684"/><stop offset=".716" stop-color="#f3c9ba"/><stop offset=".738" stop-color="#e8e2e2"/><stop offset=".754" stop-color="#d1e1ee"/><stop offset=".792" stop-color="#91bada"/><stop offset=".874" stop-color="#4a86b9"/><stop offset=".951" stop-color="#34679b"/><stop offset="1.000" stop-color="#305f93"/></linearGradient><linearGradient id="g82" x1="0" y1="0" x2="0" y2="1"><stop offset=".000" stop-color="#305f93"/><stop offset=".044" stop-color="#336699"/><stop offset=".126" stop-color="#4a85b9"/><stop offset=".208" stop-color="#90bad9"/><stop offset=".235" stop-color="#b8d3e7"/><stop offset=".246" stop-color="#d1e1ee"/><stop offset=".262" stop-color="#e8e2e2"/><stop offset=".284" stop-color="#f3c9ba"/><stop offset=".295" stop-color="#edab98"/><stop offset=".306" stop-color="#da7c6c"/><stop offset=".311" stop-color="#c85a55"/><stop offset=".317" stop-color="#a3303a"/><stop offset=".322" stop-color="#832030"/><stop offset=".328" stop-color="#942735"/><stop offset=".333" stop-color="#ba4648"/><stop offset=".339" stop-color="#cd645c"/><stop offset=".355" stop-color="#e79b89"/><stop offset=".377" stop-color="#f2cdc0"/><stop offset=".410" stop-color="#e7e2e2"/><stop offset=".568" stop-color="#e3e2e5"/><stop offset=".607" stop-color="#ebdbd7"/><stop offset=".628" stop-color="#f2c4b5"/><stop offset=".650" stop-color="#e08a79"/><stop offset=".661" stop-color="#cd645c"/><stop offset=".667" stop-color="#ba4648"/><stop offset=".672" stop-color="#942735"/><stop offset=".678" stop-color="#832030"/><stop offset=".683" stop-color="#a3303a"/><stop offset=".689" stop-color="#c85a55"/><stop offset=".699" stop-color="#e59684"/><stop offset=".716" stop-color="#f3c9ba"/><stop offset=".738" stop-color="#e8e2e2"/><stop offset=".754" stop-color="#d1e1ee"/><stop offset=".765" stop-color="#b8d3e7"/><stop offset=".792" stop-color="#90bad9"/><stop offset=".874" stop-color="#4a85b9"/><stop offset=".956" stop-color="#336699"/><stop offset="1.000" stop-color="#305f93"/></linearGradient><linearGradient id="g83" x1="0" y1="0" x2="0" y2="1"><stop offset=".000" stop-color="#305f92"/><stop offset=".044" stop-color="#336599"/><stop offset=".126" stop-color="#4985b9"/><stop offset=".208" stop-color="#8fb9d9"/><stop offset=".246" stop-color="#d0e1ed"/><stop offset=".262" stop-color="#e7e2e2"/><stop offset=".284" stop-color="#f3c9ba"/><stop offset=".295" stop-color="#edab98"/><stop offset=".306" stop-color="#da7c6c"/><stop offset=".311" stop-color="#c85a55"/><stop offset=".317" stop-color="#a3303a"/><stop offset=".322" stop-color="#832030"/><stop offset=".328" stop-color="#942735"/><stop offset=".333" stop-color="#ba4648"/><stop offset=".339" stop-color="#cd645b"/><stop offset=".355" stop-color="#e79b89"/><stop offset=".377" stop-color="#f2cdc0"/><stop offset=".410" stop-color="#e8e2e2"/><stop offset=".563" stop-color="#e3e2e5"/><stop offset=".590" stop-color="#e8e2e2"/><stop offset=".612" stop-color="#edd7d0"/><stop offset=".628" stop-color="#f2c4b5"/><stop offset=".650" stop-color="#e08978"/><stop offset=".661" stop-color="#cd645b"/><stop offset=".667" stop-color="#ba4648"/><stop offset=".672" stop-color="#942735"/><stop offset=".678" stop-color="#832030"/><stop offset=".683" stop-color="#a3303a"/><stop offset=".689" stop-color="#c85a55"/><stop offset=".699" stop-color="#e59684"/><stop offset=".716" stop-color="#f3c9ba"/><stop offset=".738" stop-color="#e7e2e2"/><stop offset=".754" stop-color="#d0e1ed"/><stop offset=".792" stop-color="#8fb9d9"/><stop offset=".874" stop-color="#4985b9"/><stop offset=".956" stop-color="#336599"/><stop offset="1.000" stop-color="#305f92"/></linearGradient><linearGradient id="g84" x1="0" y1="0" x2="0" y2="1"><stop offset=".000" stop-color="#305f92"/><stop offset=".044" stop-color="#336599"/><stop offset=".126" stop-color="#4985b9"/><stop offset=".208" stop-color="#8eb9d9"/><stop offset=".235" stop-color="#b7d3e6"/><stop offset=".246" stop-color="#d0e1ed"/><stop offset=".268" stop-color="#eadedc"/><stop offset=".284" stop-color="#f3c9ba"/><stop offset=".295" stop-color="#edab98"/><stop offset=".306" stop-color="#da7c6c"/><stop offset=".311" stop-color="#c85a55"/><stop offset=".317" stop-color="#a3303a"/><stop offset=".322" stop-color="#832030"/><stop offset=".328" stop-color="#942735"/><stop offset=".333" stop-color="#ba4648"/><stop offset=".339" stop-color="#cd645b"/><stop offset=".361" stop-color="#edaa98"/><stop offset=".383" stop-color="#f0d2c8"/><stop offset=".415" stop-color="#e7e2e3"/><stop offset=".585" stop-color="#e7e2e3"/><stop offset=".617" stop-color="#f0d2c8"/><stop offset=".639" stop-color="#edaa98"/><stop offset=".656" stop-color="#d77768"/><stop offset=".667" stop-color="#ba4648"/><stop offset=".672" stop-color="#942735"/><stop offset=".678" stop-color="#832030"/><stop offset=".683" stop-color="#a3303a"/><stop offset=".689" stop-color="#c85a55"/><stop offset=".699" stop-color="#e59684"/><stop offset=".716" stop-color="#f3c9ba"/><stop offset=".738" stop-color="#e7e2e2"/><stop offset=".754" stop-color="#d0e1ed"/><stop offset=".765" stop-color="#b7d3e6"/><stop offset=".792" stop-color="#8eb9d9"/><stop offset=".874" stop-color="#4985b9"/><stop offset=".956" stop-color="#336599"/><stop offset="1.000" stop-color="#305f92"/></linearGradient><linearGradient id="g85" x1="0" y1="0" x2="0" y2="1"><stop offset=".000" stop-color="#305f92"/><stop offset=".044" stop-color="#336599"/><stop offset=".126" stop-color="#4985b8"/><stop offset=".208" stop-color="#8db8d9"/><stop offset=".246" stop-color="#cfe1ed"/><stop offset=".268" stop-color="#eadedc"/><stop offset=".284" stop-color="#f3c9ba"/><stop offset=".295" stop-color="#edab98"/><stop offset=".306" stop-color="#da7c6c"/><stop offset=".311" stop-color="#c85a55"/><stop offset=".317" stop-color="#a3303a"/><stop offset=".322" stop-color="#832030"/><stop offset=".328" stop-color="#942735"/><stop offset=".333" stop-color="#ba4648"/><stop offset=".339" stop-color="#cd635b"/><stop offset=".361" stop-color="#edaa97"/><stop offset=".383" stop-color="#f0d1c7"/><stop offset=".415" stop-color="#e8e2e2"/><stop offset=".579" stop-color="#e6e2e3"/><stop offset=".612" stop-color="#eed6ce"/><stop offset=".634" stop-color="#efb7a6"/><stop offset=".656" stop-color="#d77668"/><stop offset=".667" stop-color="#ba4648"/><stop offset=".672" stop-color="#942735"/><stop offset=".678" stop-color="#832030"/><stop offset=".683" stop-color="#a3303a"/><stop offset=".689" stop-color="#c85a55"/><stop offset=".699" stop-color="#e59684"/><stop offset=".716" stop-color="#f3c9ba"/><stop offset=".738" stop-color="#e7e2e2"/><stop offset=".754" stop-color="#cfe0ed"/><stop offset=".792" stop-color="#8db8d9"/><stop offset=".874" stop-color="#4985b8"/><stop offset=".956" stop-color="#336599"/><stop offset="1.000" stop-color="#305f92"/></linearGradient><linearGradient id="g86" x1="0" y1="0" x2="0" y2="1"><stop offset=".000" stop-color="#305f92"/><stop offset=".055" stop-color="#34689c"/><stop offset=".126" stop-color="#4985b8"/><stop offset=".208" stop-color="#8db8d8"/><stop offset=".235" stop-color="#b6d2e6"/><stop offset=".246" stop-color="#cfe0ed"/><stop offset=".268" stop-color="#eadedc"/><stop offset=".284" stop-color="#f3c9ba"/><stop offset=".295" stop-color="#edaa98"/><stop offset=".306" stop-color="#da7c6c"/><stop offset=".311" stop-color="#c85a55"/><stop offset=".317" stop-color="#a3303a"/><stop offset=".322" stop-color="#832030"/><stop offset=".328" stop-color="#942735"/><stop offset=".333" stop-color="#ba4648"/><stop offset=".339" stop-color="#cd635b"/><stop offset=".361" stop-color="#eda997"/><stop offset=".383" stop-color="#f0d1c6"/><stop offset=".415" stop-color="#e8e2e2"/><stop offset=".579" stop-color="#e7e2e3"/><stop offset=".617" stop-color="#f0d1c6"/><stop offset=".639" stop-color="#eda997"/><stop offset=".656" stop-color="#d77668"/><stop offset=".667" stop-color="#ba4648"/><stop offset=".672" stop-color="#942735"/><stop offset=".678" stop-color="#832030"/><stop offset=".683" stop-color="#a3303a"/><stop offset=".689" stop-color="#c85a55"/><stop offset=".699" stop-color="#e59684"/><stop offset=".716" stop-color="#f3c9ba"/><stop offset=".738" stop-color="#e7e2e2"/><stop offset=".754" stop-color="#cfe0ed"/><stop offset=".765" stop-color="#b6d2e6"/><stop offset=".792" stop-color="#8db8d8"/><stop offset=".874" stop-color="#4984b8"/><stop offset=".945" stop-color="#34689c"/><stop offset="1.000" stop-color="#305f92"/></linearGradient><linearGradient id="g87" x1="0" y1="0" x2="0" y2="1"><stop offset=".000" stop-color="#305e92"/><stop offset=".055" stop-color="#34689c"/><stop offset=".126" stop-color="#4884b8"/><stop offset=".208" stop-color="#8cb7d8"/><stop offset=".246" stop-color="#cfe0ed"/><stop offset=".268" stop-color="#eadedc"/><stop offset=".284" stop-color="#f3c9ba"/><stop offset=".295" stop-color="#edaa98"/><stop offset=".306" stop-color="#da7c6c"/><stop offset=".311" stop-color="#c85a55"/><stop offset=".317" stop-color="#a3303a"/><stop offset=".322" stop-color="#832030"/><stop offset=".328" stop-color="#942735"/><stop offset=".333" stop-color="#b94648"/><stop offset=".339" stop-color="#cd635b"/><stop offset=".361" stop-color="#eda996"/><stop offset=".377" stop-color="#f3cbbd"/><stop offset=".388" stop-color="#eed5cc"/><stop offset=".421" stop-color="#e8e2e2"/><stop offset=".574" stop-color="#e7e2e3"/><stop offset=".612" stop-color="#eed5cc"/><stop offset=".634" stop-color="#efb6a5"/><stop offset=".656" stop-color="#d77668"/><stop offset=".667" stop-color="#b94648"/><stop offset=".672" stop-color="#942735"/><stop offset=".678" stop-color="#832030"/><stop offset=".683" stop-color="#a3303a"/><stop offset=".689" stop-color="#c85a55"/><stop offset=".699" stop-color="#e59684"/><stop offset=".716" stop-color="#f3c9ba"/><stop offset=".738" stop-color="#e7e2e2"/><stop offset=".754" stop-color="#cfe0ed"/><stop offset=".792" stop-color="#8cb7d8"/><stop offset=".874" stop-color="#4884b8"/><stop offset=".945" stop-color="#34689c"/><stop offset="1.000" stop-color="#305e92"/></linearGradient><linearGradient id="g88" x1="0" y1="0" x2="0" y2="1"><stop offset=".000" stop-color="#305e92"/><stop offset=".049" stop-color="#34679a"/><stop offset=".126" stop-color="#4884b8"/><stop offset=".208" stop-color="#8bb7d8"/><stop offset=".246" stop-color="#cee0ed"/><stop offset=".268" stop-color="#eadedc"/><stop offset=".284" stop-color="#f3c9ba"/><stop offset=".295" stop-color="#edaa98"/><stop offset=".306" stop-color="#da7c6c"/><stop offset=".311" stop-color="#c85a55"/><stop offset=".317" stop-color="#a3303a"/><stop offset=".322" stop-color="#832030"/><stop offset=".328" stop-color="#942735"/><stop offset=".333" stop-color="#b94648"/><stop offset=".339" stop-color="#cd635b"/><stop offset=".361" stop-color="#eca895"/><stop offset=".383" stop-color="#f1d0c5"/><stop offset=".421" stop-color="#e8e2e2"/><stop offset=".579" stop-color="#e8e2e2"/><stop offset=".617" stop-color="#f1d0c5"/><stop offset=".634" stop-color="#efb5a4"/><stop offset=".656" stop-color="#d77668"/><stop offset=".667" stop-color="#b94648"/><stop offset=".672" stop-color="#942735"/><stop offset=".678" stop-color="#832030"/><stop offset=".683" stop-color="#a3303a"/><stop offset=".689" stop-color="#c85a55"/><stop offset=".699" stop-color="#e59684"/><stop offset=".716" stop-color="#f3c9ba"/><stop offset=".738" stop-color="#e7e2e2"/><stop offset=".754" stop-color="#cee0ed"/><stop offset=".792" stop-color="#8bb7d8"/><stop offset=".874" stop-color="#4884b8"/><stop offset=".951" stop-color="#34679a"/><stop offset="1.000" stop-color="#305e92"/></linearGradient><linearGradient id="g89" x1="0" y1="0" x2="0" y2="1"><stop offset=".000" stop-color="#305e92"/><stop offset=".049" stop-color="#33669a"/><stop offset=".126" stop-color="#4884b8"/><stop offset=".208" stop-color="#8ab6d8"/><stop offset=".246" stop-color="#cee0ed"/><stop offset=".268" stop-color="#eadedc"/><stop offset=".284" stop-color="#f3c9ba"/><stop offset=".295" stop-color="#edaa98"/><stop offset=".306" stop-color="#da7c6c"/><stop offset=".311" stop-color="#c85a55"/><stop offset=".317" stop-color="#a3303a"/><stop offset=".322" stop-color="#832030"/><stop offset=".328" stop-color="#942735"/><stop offset=".333" stop-color="#b94648"/><stop offset=".339" stop-color="#cd635b"/><stop offset=".355" stop-color="#e69886"/><stop offset=".372" stop-color="#f1c0b0"/><stop offset=".393" stop-color="#edd7d1"/><stop offset=".426" stop-color="#e8e2e2"/><stop offset=".568" stop-color="#e7e2e3"/><stop offset=".612" stop-color="#efd4cb"/><stop offset=".628" stop-color="#f1c0b0"/><stop offset=".639" stop-color="#eca895"/><stop offset=".656" stop-color="#d67567"/><stop offset=".667" stop-color="#b94648"/><stop offset=".672" stop-color="#942735"/><stop offset=".678" stop-color="#832030"/><stop offset=".683" stop-color="#a3303a"/><stop offset=".689" stop-color="#c85a55"/><stop offset=".699" stop-color="#e59584"/><stop offset=".716" stop-color="#f3c9ba"/><stop offset=".738" stop-color="#e7e2e3"/><stop offset=".754" stop-color="#cee0ed"/><stop offset=".792" stop-color="#8ab6d8"/><stop offset=".874" stop-color="#4884b8"/><stop offset=".951" stop-color="#33669a"/><stop offset="1.000" stop-color="#305e92"/></linearGradient><linearGradient id="g90" x1="0" y1="0" x2="0" y2="1"><stop offset=".000" stop-color="#305e91"/><stop offset=".049" stop-color="#33669a"/><stop offset=".126" stop-color="#4884b8"/><stop offset=".208" stop-color="#8ab6d7"/><stop offset=".235" stop-color="#b4d1e6"/><stop offset=".246" stop-color="#cedfed"/><stop offset=".262" stop-color="#e7e2e3"/><stop offset=".284" stop-color="#f3c9ba"/><stop offset=".295" stop-color="#edaa98"/><stop offset=".306" stop-color="#da7c6c"/><stop offset=".311" stop-color="#c85a55"/><stop offset=".317" stop-color="#a3303a"/><stop offset=".322" stop-color="#832030"/><stop offset=".328" stop-color="#942735"/><stop offset=".333" stop-color="#b94648"/><stop offset=".339" stop-color="#cd625b"/><stop offset=".361" stop-color="#eca795"/><stop offset=".377" stop-color="#f3c9bb"/><stop offset=".388" stop-color="#efd3ca"/><stop offset=".426" stop-color="#e8e2e2"/><stop offset=".574" stop-color="#e8e2e2"/><stop offset=".596" stop-color="#ebdcd9"/><stop offset=".617" stop-color="#f1cfc3"/><stop offset=".639" stop-color="#eca795"/><stop offset=".661" stop-color="#cd625b"/><stop offset=".667" stop-color="#b94648"/><stop offset=".672" stop-color="#942735"/><stop offset=".678" stop-color="#832030"/><stop offset=".683" stop-color="#a3303a"/><stop offset=".689" stop-color="#c85a55"/><stop offset=".699" stop-color="#e59584"/><stop offset=".716" stop-color="#f3c9ba"/><stop offset=".738" stop-color="#e7e2e3"/><stop offset=".754" stop-color="#cedfed"/><stop offset=".765" stop-color="#b4d1e6"/><stop offset=".792" stop-color="#8ab6d7"/><stop offset=".874" stop-color="#4884b8"/><stop offset=".951" stop-color="#33669a"/><stop offset="1.000" stop-color="#305e91"/></linearGradient><linearGradient id="g91" x1="0" y1="0" x2="0" y2="1"><stop offset=".000" stop-color="#305e91"/><stop offset=".066" stop-color="#366ca0"/><stop offset=".131" stop-color="#4b87ba"/><stop offset=".208" stop-color="#89b5d7"/><stop offset=".246" stop-color="#cddfed"/><stop offset=".262" stop-color="#e7e2e3"/><stop offset=".284" stop-color="#f3c9ba"/><stop offset=".295" stop-color="#edaa98"/><stop offset=".306" stop-color="#da7c6c"/><stop offset=".311" stop-color="#c85a55"/><stop offset=".317" stop-color="#a3303a"/><stop offset=".322" stop-color="#832030"/><stop offset=".328" stop-color="#942735"/><stop offset=".333" stop-color="#b94648"/><stop offset=".339" stop-color="#cd625a"/><stop offset=".361" stop-color="#eca794"/><stop offset=".377" stop-color="#f3c9ba"/><stop offset=".388" stop-color="#efd3ca"/><stop offset=".426" stop-color="#e8e2e2"/><stop offset=".574" stop-color="#e8e2e2"/><stop offset=".596" stop-color="#ebdcd9"/><stop offset=".617" stop-color="#f1cfc3"/><stop offset=".639" stop-color="#eca794"/><stop offset=".661" stop-color="#cd625a"/><stop offset=".667" stop-color="#b94648"/><stop offset=".672" stop-color="#942735"/><stop offset=".678" stop-color="#832030"/><stop offset=".683" stop-color="#a3303a"/><stop offset=".689" stop-color="#c85a55"/><stop offset=".699" stop-color="#e59584"/><stop offset=".716" stop-color="#f3c9ba"/><stop offset=".738" stop-color="#e7e2e3"/><stop offset=".754" stop-color="#cddfed"/><stop offset=".792" stop-color="#89b5d7"/><stop offset=".869" stop-color="#4b87ba"/><stop offset=".934" stop-color="#366ca0"/><stop offset="1.000" stop-color="#305e91"/></linearGradient><linearGradient id="g92" x1="0" y1="0" x2="0" y2="1"><stop offset=".000" stop-color="#305e91"/><stop offset=".066" stop-color="#366ca0"/><stop offset=".131" stop-color="#4b86ba"/><stop offset=".208" stop-color="#88b5d7"/><stop offset=".235" stop-color="#b3d1e5"/><stop offset=".246" stop-color="#cddfed"/><stop offset=".262" stop-color="#e7e2e3"/><stop offset=".284" stop-color="#f3c9ba"/><stop offset=".295" stop-color="#edaa98"/><stop offset=".306" stop-color="#da7c6c"/><stop offset=".311" stop-color="#c85a55"/><stop offset=".317" stop-color="#a3303a"/><stop offset=".322" stop-color="#832030"/><stop offset=".328" stop-color="#942735"/><stop offset=".333" stop-color="#b94648"/><stop offset=".339" stop-color="#cc625a"/><stop offset=".355" stop-color="#e69785"/><stop offset=".372" stop-color="#f1bfaf"/><stop offset=".399" stop-color="#ecd9d4"/><stop offset=".432" stop-color="#e8e2e2"/><stop offset=".568" stop-color="#e8e2e2"/><stop offset=".596" stop-color="#ebdcd8"/><stop offset=".617" stop-color="#f1cfc3"/><stop offset=".639" stop-color="#eca794"/><stop offset=".656" stop-color="#d67567"/><stop offset=".667" stop-color="#b94648"/><stop offset=".672" stop-color="#942735"/><stop offset=".678" stop-color="#832030"/><stop offset=".683" stop-color="#a3303a"/><stop offset=".689" stop-color="#c85a55"/><stop offset=".699" stop-color="#e59584"/><stop offset=".716" stop-color="#f3c9ba"/><stop offset=".738" stop-color="#e7e2e3"/><stop offset=".754" stop-color="#cddfed"/><stop offset=".765" stop-color="#b3d1e5"/><stop offset=".792" stop-color="#88b5d7"/><stop offset=".869" stop-color="#4b86ba"/><stop offset=".934" stop-color="#366ca0"/><stop offset="1.000" stop-color="#305e91"/></linearGradient><linearGradient id="g93" x1="0" y1="0" x2="0" y2="1"><stop offset=".000" stop-color="#305e91"/><stop offset=".044" stop-color="#336498"/><stop offset=".126" stop-color="#4783b7"/><stop offset=".208" stop-color="#88b5d7"/><stop offset=".235" stop-color="#b3d0e5"/><stop offset=".246" stop-color="#cddfec"/><stop offset=".262" stop-color="#e7e2e3"/><stop offset=".284" stop-color="#f3c8ba"/><stop offset=".295" stop-color="#edaa98"/><stop offset=".306" stop-color="#da7c6c"/><stop offset=".311" stop-color="#c85a55"/><stop offset=".317" stop-color="#a3303a"/><stop offset=".322" stop-color="#832030"/><stop offset=".328" stop-color="#942735"/><stop offset=".333" stop-color="#b94648"/><stop offset=".339" stop-color="#cc625a"/><stop offset=".361" stop-color="#eca794"/><stop offset=".377" stop-color="#f2c8ba"/><stop offset=".399" stop-color="#ecd9d4"/><stop offset=".432" stop-color="#e8e2e2"/><stop offset=".568" stop-color="#e8e2e2"/><stop offset=".612" stop-color="#efd3c9"/><stop offset=".634" stop-color="#eeb3a2"/><stop offset=".656" stop-color="#d67567"/><stop offset=".667" stop-color="#b94648"/><stop offset=".672" stop-color="#942735"/><stop offset=".678" stop-color="#832030"/><stop offset=".683" stop-color="#a3303a"/><stop offset=".689" stop-color="#c85a55"/><stop offset=".699" stop-color="#e59584"/><stop offset=".716" stop-color="#f3c8ba"/><stop offset=".738" stop-color="#e7e2e3"/><stop offset=".754" stop-color="#cddfec"/><stop offset=".765" stop-color="#b3d0e5"/><stop offset=".792" stop-color="#88b5d7"/><stop offset=".874" stop-color="#4783b7"/><stop offset=".956" stop-color="#336498"/><stop offset="1.000" stop-color="#305e91"/></linearGradient><linearGradient id="g94" x1="0" y1="0" x2="0" y2="1"><stop offset=".000" stop-color="#305e91"/><stop offset=".044" stop-color="#336498"/><stop offset=".131" stop-color="#4a86b9"/><stop offset=".208" stop-color="#87b4d6"/><stop offset=".246" stop-color="#ccdfec"/><stop offset=".262" stop-color="#e7e2e3"/><stop offset=".284" stop-color="#f3c8ba"/><stop offset=".295" stop-color="#edaa98"/><stop offset=".306" stop-color="#da7c6c"/><stop offset=".311" stop-color="#c85a55"/><stop offset=".317" stop-color="#a3303a"/><stop offset=".322" stop-color="#832030"/><stop offset=".328" stop-color="#942735"/><stop offset=".333" stop-color="#b94648"/><stop offset=".339" stop-color="#cc625a"/><stop offset=".361" stop-color="#eca693"/><stop offset=".377" stop-color="#f2c8b9"/><stop offset=".393" stop-color="#eed6cf"/><stop offset=".432" stop-color="#e8e2e1"/><stop offset=".563" stop-color="#e8e2e2"/><stop offset=".596" stop-color="#ebdbd7"/><stop offset=".617" stop-color="#f2cec2"/><stop offset=".639" stop-color="#eca693"/><stop offset=".661" stop-color="#cc625a"/><stop offset=".667" stop-color="#b94648"/><stop offset=".672" stop-color="#942735"/><stop offset=".678" stop-color="#832030"/><stop offset=".683" stop-color="#a3303a"/><stop offset=".689" stop-color="#c85a55"/><stop offset=".699" stop-color="#e59584"/><stop offset=".716" stop-color="#f3c8ba"/><stop offset=".738" stop-color="#e7e2e3"/><stop offset=".754" stop-color="#ccdfec"/><stop offset=".792" stop-color="#87b4d6"/><stop offset=".869" stop-color="#4a86b9"/><stop offset=".956" stop-color="#336498"/><stop offset="1.000" stop-color="#305e91"/></linearGradient><linearGradient id="g95" x1="0" y1="0" x2="0" y2="1"><stop offset=".000" stop-color="#305e91"/><stop offset=".044" stop-color="#336498"/><stop offset=".131" stop-color="#4a86b9"/><stop offset=".208" stop-color="#87b4d6"/><stop offset=".235" stop-color="#b2d0e5"/><stop offset=".246" stop-color="#ccdfec"/><stop offset=".262" stop-color="#e7e2e3"/><stop offset=".284" stop-color="#f3c8ba"/><stop offset=".295" stop-color="#edaa98"/><stop offset=".306" stop-color="#da7c6c"/><stop offset=".311" stop-color="#c85a55"/><stop offset=".317" stop-color="#a3303a"/><stop offset=".322" stop-color="#832030"/><stop offset=".328" stop-color="#942735"/><stop offset=".333" stop-color="#b94648"/><stop offset=".339" stop-color="#cc625a"/><stop offset=".361" stop-color="#eca693"/><stop offset=".377" stop-color="#f2c7b9"/><stop offset=".388" stop-color="#f0d2c8"/><stop offset=".426" stop-color="#e9e1e0"/><stop offset=".563" stop-color="#e8e2e2"/><stop offset=".596" stop-color="#ebdbd7"/><stop offset=".617" stop-color="#f2cec1"/><stop offset=".639" stop-color="#eca693"/><stop offset=".661" stop-color="#cc625a"/><stop offset=".667" stop-color="#b94648"/><stop offset=".672" stop-color="#942735"/><stop offset=".678" stop-color="#832030"/><stop offset=".683" stop-color="#a3303a"/><stop offset=".689" stop-color="#c85a55"/><stop offset=".699" stop-color="#e59584"/><stop offset=".716" stop-color="#f3c8ba"/><stop offset=".738" stop-color="#e7e2e3"/><stop offset=".754" stop-color="#ccdfec"/><stop offset=".765" stop-color="#b2d0e5"/><stop offset=".792" stop-color="#87b4d6"/><stop offset=".869" stop-color="#4a86b9"/><stop offset=".956" stop-color="#336498"/><stop offset="1.000" stop-color="#305e91"/></linearGradient><linearGradient id="g96" x1="0" y1="0" x2="0" y2="1"><stop offset=".000" stop-color="#305e91"/><stop offset=".044" stop-color="#336498"/><stop offset=".131" stop-color="#4a85b9"/><stop offset=".208" stop-color="#86b3d6"/><stop offset=".235" stop-color="#b2d0e5"/><stop offset=".246" stop-color="#ccdeec"/><stop offset=".268" stop-color="#eadfdc"/><stop offset=".284" stop-color="#f3c8ba"/><stop offset=".295" stop-color="#edaa98"/><stop offset=".306" stop-color="#da7c6c"/><stop offset=".311" stop-color="#c85a55"/><stop offset=".317" stop-color="#a3303a"/><stop offset=".322" stop-color="#832030"/><stop offset=".328" stop-color="#942735"/><stop offset=".333" stop-color="#b94648"/><stop offset=".339" stop-color="#cc625a"/><stop offset=".361" stop-color="#eca693"/><stop offset=".377" stop-color="#f2c7b8"/><stop offset=".404" stop-color="#ebdbd6"/><stop offset=".437" stop-color="#e8e2e1"/><stop offset=".557" stop-color="#e8e2e2"/><stop offset=".585" stop-color="#eadedc"/><stop offset=".617" stop-color="#f2cec1"/><stop offset=".639" stop-color="#eca693"/><stop offset=".661" stop-color="#cc625a"/><stop offset=".667" stop-color="#b94648"/><stop offset=".672" stop-color="#942735"/><stop offset=".678" stop-color="#832030"/><stop offset=".683" stop-color="#a3303a"/><stop offset=".689" stop-color="#c85a55"/><stop offset=".699" stop-color="#e59584"/><stop offset=".716" stop-color="#f3c8ba"/><stop offset=".738" stop-color="#e7e2e3"/><stop offset=".754" stop-color="#ccdeec"/><stop offset=".792" stop-color="#86b3d6"/><stop offset=".869" stop-color="#4a85b9"/><stop offset=".956" stop-color="#336498"/><stop offset="1.000" stop-color="#305e91"/></linearGradient><linearGradient id="g97" x1="0" y1="0" x2="0" y2="1"><stop offset=".000" stop-color="#305e91"/><stop offset=".071" stop-color="#376da1"/><stop offset=".131" stop-color="#4a85b9"/><stop offset=".208" stop-color="#85b3d6"/><stop offset=".246" stop-color="#ccdeec"/><stop offset=".268" stop-color="#eadfdc"/><stop offset=".284" stop-color="#f3c8ba"/><stop offset=".295" stop-color="#edaa98"/><stop offset=".306" stop-color="#da7c6c"/><stop offset=".311" stop-color="#c85a55"/><stop offset=".317" stop-color="#a3303a"/><stop offset=".322" stop-color="#832030"/><stop offset=".328" stop-color="#942735"/><stop offset=".333" stop-color="#b94648"/><stop offset=".339" stop-color="#cc625a"/><stop offset=".361" stop-color="#eca592"/><stop offset=".377" stop-color="#f2c7b8"/><stop offset=".399" stop-color="#edd8d2"/><stop offset=".432" stop-color="#e9e1e0"/><stop offset=".563" stop-color="#e8e1e1"/><stop offset=".612" stop-color="#f0d2c8"/><stop offset=".634" stop-color="#eeb2a1"/><stop offset=".656" stop-color="#d67467"/><stop offset=".667" stop-color="#b94648"/><stop offset=".672" stop-color="#942735"/><stop offset=".678" stop-color="#832030"/><stop offset=".683" stop-color="#a3303a"/><stop offset=".689" stop-color="#c85a55"/><stop offset=".699" stop-color="#e59583"/><stop offset=".716" stop-color="#f3c8ba"/><stop offset=".738" stop-color="#e7e2e3"/><stop offset=".754" stop-color="#ccdeec"/><stop offset=".792" stop-color="#85b3d6"/><stop offset=".869" stop-color="#4a85b9"/><stop offset=".929" stop-color="#376da1"/><stop offset="1.000" stop-color="#305e91"/></linearGradient><linearGradient id="g98" x1="0" y1="0" x2="0" y2="1"><stop offset=".000" stop-color="#305e91"/><stop offset=".044" stop-color="#336498"/><stop offset=".131" stop-color="#4985b9"/><stop offset=".208" stop-color="#85b3d6"/><stop offset=".235" stop-color="#b1cfe5"/><stop offset=".246" stop-color="#cbdeec"/><stop offset=".268" stop-color="#eadfdc"/><stop offset=".284" stop-color="#f3c8ba"/><stop offset=".295" stop-color="#edaa98"/><stop offset=".306" stop-color="#da7c6c"/><stop offset=".311" stop-color="#c85a55"/><stop offset=".317" stop-color="#a3303a"/><stop offset=".322" stop-color="#832030"/><stop offset=".328" stop-color="#942735"/><stop offset=".333" stop-color="#b94548"/><stop offset=".339" stop-color="#cc625a"/><stop offset=".361" stop-color="#eca592"/><stop offset=".377" stop-color="#f2c6b8"/><stop offset=".388" stop-color="#f0d1c7"/><stop offset=".426" stop-color="#e9e0de"/><stop offset=".557" stop-color="#e8e1e1"/><stop offset=".585" stop-color="#eadedb"/><stop offset=".617" stop-color="#f2cdc0"/><stop offset=".639" stop-color="#eca592"/><stop offset=".661" stop-color="#cc625a"/><stop offset=".667" stop-color="#b94548"/><stop offset=".672" stop-color="#942735"/><stop offset=".678" stop-color="#832030"/><stop offset=".683" stop-color="#a3303a"/><stop offset=".689" stop-color="#c85a55"/><stop offset=".699" stop-color="#e59583"/><stop offset=".716" stop-color="#f3c8ba"/><stop offset=".738" stop-color="#e7e2e3"/><stop offset=".754" stop-color="#cbdeec"/><stop offset=".792" stop-color="#85b3d6"/><stop offset=".869" stop-color="#4985b9"/><stop offset=".956" stop-color="#336498"/><stop offset="1.000" stop-color="#305e91"/></linearGradient><linearGradient id="g99" x1="0" y1="0" x2="0" y2="1"><stop offset=".000" stop-color="#305d91"/><stop offset=".055" stop-color="#34679b"/><stop offset=".131" stop-color="#4985b8"/><stop offset=".208" stop-color="#84b2d5"/><stop offset=".246" stop-color="#cbdeec"/><stop offset=".268" stop-color="#eadfdd"/><stop offset=".284" stop-color="#f3c8ba"/><stop offset=".295" stop-color="#edaa98"/><stop offset=".306" stop-color="#da7c6c"/><stop offset=".311" stop-color="#c85a55"/><stop offset=".317" stop-color="#a3303a"/><stop offset=".322" stop-color="#832030"/><stop offset=".328" stop-color="#942735"/><stop offset=".333" stop-color="#b94548"/><stop offset=".339" stop-color="#cc625a"/><stop offset=".361" stop-color="#eba592"/><stop offset=".377" stop-color="#f2c6b7"/><stop offset=".404" stop-color="#ecdad5"/><stop offset=".437" stop-color="#e9e1e0"/><stop offset=".563" stop-color="#e9e1e0"/><stop offset=".596" stop-color="#ecdad5"/><stop offset=".617" stop-color="#f2cdc0"/><stop offset=".639" stop-color="#eba592"/><stop offset=".661" stop-color="#cc625a"/><stop offset=".667" stop-color="#b94548"/><stop offset=".672" stop-color="#942735"/><stop offset=".678" stop-color="#832030"/><stop offset=".683" stop-color="#a3303a"/><stop offset=".689" stop-color="#c85a55"/><stop offset=".699" stop-color="#e59583"/><stop offset=".716" stop-color="#f3c8ba"/><stop offset=".738" stop-color="#e7e2e3"/><stop offset=".754" stop-color="#cbdeec"/><stop offset=".792" stop-color="#84b2d5"/><stop offset=".869" stop-color="#4985b8"/><stop offset=".945" stop-color="#34679b"/><stop offset="1.000" stop-color="#305d91"/></linearGradient></defs><g shape-rendering="crispEdges"><rect x="324.00" y="22.00" width="3.50" height="183.00" fill="url(#g31)"/><rect x="327.00" y="22.00" width="3.50" height="183.00" fill="url(#g32)"/><rect x="330.00" y="22.00" width="3.50" height="183.00" fill="url(#g33)"/><rect x="333.00" y="22.00" width="3.50" height="183.00" fill="url(#g34)"/><rect x="336.00" y="22.00" width="3.50" height="183.00" fill="url(#g35)"/><rect x="339.00" y="22.00" width="3.50" height="183.00" fill="url(#g36)"/><rect x="342.00" y="22.00" width="3.50" height="183.00" fill="url(#g37)"/><rect x="345.00" y="22.00" width="3.50" height="183.00" fill="url(#g38)"/><rect x="348.00" y="22.00" width="3.50" height="183.00" fill="url(#g39)"/><rect x="351.00" y="22.00" width="3.50" height="183.00" fill="url(#g40)"/><rect x="354.00" y="22.00" width="3.50" height="183.00" fill="url(#g41)"/><rect x="357.00" y="22.00" width="3.50" height="183.00" fill="url(#g42)"/><rect x="360.00" y="22.00" width="3.50" height="183.00" fill="url(#g43)"/><rect x="363.00" y="22.00" width="3.50" height="183.00" fill="url(#g44)"/><rect x="366.00" y="22.00" width="3.50" height="183.00" fill="url(#g45)"/><rect x="369.00" y="22.00" width="3.50" height="183.00" fill="url(#g46)"/><rect x="372.00" y="22.00" width="3.50" height="183.00" fill="url(#g47)"/><rect x="375.00" y="22.00" width="3.50" height="183.00" fill="url(#g48)"/><rect x="378.00" y="22.00" width="3.50" height="183.00" fill="url(#g49)"/><rect x="381.00" y="22.00" width="3.50" height="183.00" fill="url(#g50)"/><rect x="384.00" y="22.00" width="3.50" height="183.00" fill="url(#g51)"/><rect x="387.00" y="22.00" width="3.50" height="183.00" fill="url(#g52)"/><rect x="390.00" y="22.00" width="3.50" height="183.00" fill="url(#g53)"/><rect x="393.00" y="22.00" width="3.50" height="183.00" fill="url(#g54)"/><rect x="396.00" y="22.00" width="3.50" height="183.00" fill="url(#g55)"/><rect x="399.00" y="22.00" width="3.50" height="183.00" fill="url(#g56)"/><rect x="402.00" y="22.00" width="3.50" height="183.00" fill="url(#g57)"/><rect x="405.00" y="22.00" width="3.50" height="183.00" fill="url(#g58)"/><rect x="408.00" y="22.00" width="3.50" height="183.00" fill="url(#g59)"/><rect x="411.00" y="22.00" width="3.50" height="183.00" fill="url(#g60)"/><rect x="414.00" y="22.00" width="3.50" height="183.00" fill="url(#g61)"/><rect x="417.00" y="22.00" width="3.50" height="183.00" fill="url(#g62)"/><rect x="420.00" y="22.00" width="3.50" height="183.00" fill="url(#g63)"/><rect x="423.00" y="22.00" width="3.50" height="183.00" fill="url(#g64)"/><rect x="426.00" y="22.00" width="3.50" height="183.00" fill="url(#g65)"/><rect x="429.00" y="22.00" width="3.50" height="183.00" fill="url(#g66)"/><rect x="432.00" y="22.00" width="3.50" height="183.00" fill="url(#g67)"/><rect x="435.00" y="22.00" width="3.50" height="183.00" fill="url(#g68)"/><rect x="438.00" y="22.00" width="3.50" height="183.00" fill="url(#g69)"/><rect x="441.00" y="22.00" width="3.50" height="183.00" fill="url(#g70)"/><rect x="444.00" y="22.00" width="3.50" height="183.00" fill="url(#g71)"/><rect x="447.00" y="22.00" width="3.50" height="183.00" fill="url(#g72)"/><rect x="450.00" y="22.00" width="3.50" height="183.00" fill="url(#g73)"/><rect x="453.00" y="22.00" width="3.50" height="183.00" fill="url(#g74)"/><rect x="456.00" y="22.00" width="3.50" height="183.00" fill="url(#g75)"/><rect x="459.00" y="22.00" width="3.50" height="183.00" fill="url(#g76)"/><rect x="462.00" y="22.00" width="3.50" height="183.00" fill="url(#g77)"/><rect x="465.00" y="22.00" width="3.50" height="183.00" fill="url(#g78)"/><rect x="468.00" y="22.00" width="3.50" height="183.00" fill="url(#g79)"/><rect x="471.00" y="22.00" width="3.50" height="183.00" fill="url(#g80)"/><rect x="474.00" y="22.00" width="3.50" height="183.00" fill="url(#g81)"/><rect x="477.00" y="22.00" width="3.50" height="183.00" fill="url(#g82)"/><rect x="480.00" y="22.00" width="3.50" height="183.00" fill="url(#g83)"/><rect x="483.00" y="22.00" width="3.50" height="183.00" fill="url(#g84)"/><rect x="486.00" y="22.00" width="3.50" height="183.00" fill="url(#g85)"/><rect x="489.00" y="22.00" width="3.50" height="183.00" fill="url(#g86)"/><rect x="492.00" y="22.00" width="3.50" height="183.00" fill="url(#g87)"/><rect x="495.00" y="22.00" width="3.50" height="183.00" fill="url(#g88)"/><rect x="498.00" y="22.00" width="3.50" height="183.00" fill="url(#g89)"/><rect x="501.00" y="22.00" width="3.50" height="183.00" fill="url(#g90)"/><rect x="504.00" y="22.00" width="3.50" height="183.00" fill="url(#g91)"/><rect x="507.00" y="22.00" width="3.50" height="183.00" fill="url(#g92)"/><rect x="510.00" y="22.00" width="3.50" height="183.00" fill="url(#g93)"/><rect x="513.00" y="22.00" width="3.50" height="183.00" fill="url(#g94)"/><rect x="516.00" y="22.00" width="3.50" height="183.00" fill="url(#g95)"/><rect x="519.00" y="22.00" width="3.50" height="183.00" fill="url(#g96)"/><rect x="522.00" y="22.00" width="3.50" height="183.00" fill="url(#g97)"/><rect x="525.00" y="22.00" width="3.50" height="183.00" fill="url(#g98)"/><rect x="528.00" y="22.00" width="3.00" height="183.00" fill="url(#g99)"/></g><line x1="324.90" y1="81.15" x2="531.00" y2="81.15" stroke="#fff" stroke-width="1.6" stroke-dasharray="6.8,6.8"/><line x1="324.90" y1="145.85" x2="531.00" y2="145.85" stroke="#fff" stroke-width="1.6" stroke-dasharray="6.8,6.8"/><line x1="386.30" y1="145.85" x2="386.30" y2="205.00" stroke="#fff" stroke-width="1.4" stroke-dasharray="6.5,5.5"/><text transform="translate(400,65.6) rotate(-27) scale(0.9,1.08)" font-size="11.8" font-weight="bold" font-family="Liberation Sans, sans-serif" fill="#fff">Bulk states</text><text x="418.30" y="116.60" font-size="10.35" text-anchor="start" font-family="Liberation Sans, sans-serif" fill="#1a1a1a" font-weight="bold">Cavity polaritons</text><line x1="419.50" y1="103.20" x2="413.77" y2="94.46" stroke="#1a1a1a" stroke-width="1.10"/><polygon points="411.30,90.70 415.61,93.26 411.93,95.67" fill="#1a1a1a"/><line x1="419.50" y1="122.90" x2="413.81" y2="131.37" stroke="#1a1a1a" stroke-width="1.10"/><polygon points="411.30,135.10 411.98,130.14 415.64,132.59" fill="#1a1a1a"/><text x="393.20" y="187.30" font-size="10.50" text-anchor="start" font-family="Liberation Sans, sans-serif" fill="#fff" >J<tspan font-size="8" dy="3">0</tspan><tspan font-size="8" dx="-4.5" dy="-8">c</tspan><tspan dy="5"> / </tspan><tspan font-family="Liberation Serif, serif">Γ</tspan> ≈ 4.82</text><rect x="324.30" y="22.00" width="206.70" height="183.00" fill="none" stroke="#5a5a5a" stroke-width="0.90"/><line x1="340.20" y1="205.00" x2="340.20" y2="202.50" stroke="#444" stroke-width="0.80"/><line x1="340.20" y1="22.00" x2="340.20" y2="24.50" stroke="#444" stroke-width="0.80"/><line x1="372.00" y1="205.00" x2="372.00" y2="202.50" stroke="#444" stroke-width="0.80"/><line x1="372.00" y1="22.00" x2="372.00" y2="24.50" stroke="#444" stroke-width="0.80"/><line x1="403.80" y1="205.00" x2="403.80" y2="202.50" stroke="#444" stroke-width="0.80"/><line x1="403.80" y1="22.00" x2="403.80" y2="24.50" stroke="#444" stroke-width="0.80"/><line x1="435.60" y1="205.00" x2="435.60" y2="202.50" stroke="#444" stroke-width="0.80"/><line x1="435.60" y1="22.00" x2="435.60" y2="24.50" stroke="#444" stroke-width="0.80"/><line x1="467.40" y1="205.00" x2="467.40" y2="202.50" stroke="#444" stroke-width="0.80"/><line x1="467.40" y1="22.00" x2="467.40" y2="24.50" stroke="#444" stroke-width="0.80"/><line x1="499.20" y1="205.00" x2="499.20" y2="202.50" stroke="#444" stroke-width="0.80"/><line x1="499.20" y1="22.00" x2="499.20" y2="24.50" stroke="#444" stroke-width="0.80"/><line x1="531.00" y1="205.00" x2="531.00" y2="202.50" stroke="#444" stroke-width="0.80"/><line x1="531.00" y1="22.00" x2="531.00" y2="24.50" stroke="#444" stroke-width="0.80"/><line x1="324.30" y1="205.00" x2="326.80" y2="205.00" stroke="#444" stroke-width="0.80"/><line x1="531.00" y1="205.00" x2="528.50" y2="205.00" stroke="#444" stroke-width="0.80"/><line x1="324.30" y1="182.12" x2="326.80" y2="182.12" stroke="#444" stroke-width="0.80"/><line x1="531.00" y1="182.12" x2="528.50" y2="182.12" stroke="#444" stroke-width="0.80"/><line x1="324.30" y1="159.25" x2="326.80" y2="159.25" stroke="#444" stroke-width="0.80"/><line x1="531.00" y1="159.25" x2="528.50" y2="159.25" stroke="#444" stroke-width="0.80"/><line x1="324.30" y1="136.38" x2="326.80" y2="136.38" stroke="#444" stroke-width="0.80"/><line x1="531.00" y1="136.38" x2="528.50" y2="136.38" stroke="#444" stroke-width="0.80"/><line x1="324.30" y1="113.50" x2="326.80" y2="113.50" stroke="#444" stroke-width="0.80"/><line x1="531.00" y1="113.50" x2="528.50" y2="113.50" stroke="#444" stroke-width="0.80"/><line x1="324.30" y1="90.62" x2="326.80" y2="90.62" stroke="#444" stroke-width="0.80"/><line x1="531.00" y1="90.62" x2="528.50" y2="90.62" stroke="#444" stroke-width="0.80"/><line x1="324.30" y1="67.75" x2="326.80" y2="67.75" stroke="#444" stroke-width="0.80"/><line x1="531.00" y1="67.75" x2="528.50" y2="67.75" stroke="#444" stroke-width="0.80"/><line x1="324.30" y1="44.88" x2="326.80" y2="44.88" stroke="#444" stroke-width="0.80"/><line x1="531.00" y1="44.88" x2="528.50" y2="44.88" stroke="#444" stroke-width="0.80"/><line x1="324.30" y1="22.00" x2="326.80" y2="22.00" stroke="#444" stroke-width="0.80"/><line x1="531.00" y1="22.00" x2="528.50" y2="22.00" stroke="#444" stroke-width="0.80"/><text x="340.20" y="219.00" font-size="12.00" text-anchor="middle" font-family="Liberation Sans, sans-serif" fill="#1a1a1a" >2</text><text x="372.00" y="219.00" font-size="12.00" text-anchor="middle" font-family="Liberation Sans, sans-serif" fill="#1a1a1a" >4</text><text x="403.80" y="219.00" font-size="12.00" text-anchor="middle" font-family="Liberation Sans, sans-serif" fill="#1a1a1a" >6</text><text x="435.60" y="219.00" font-size="12.00" text-anchor="middle" font-family="Liberation Sans, sans-serif" fill="#1a1a1a" >8</text><text x="467.40" y="219.00" font-size="12.00" text-anchor="middle" font-family="Liberation Sans, sans-serif" fill="#1a1a1a" >10</text><text x="499.20" y="219.00" font-size="12.00" text-anchor="middle" font-family="Liberation Sans, sans-serif" fill="#1a1a1a" >12</text><text x="531.00" y="219.00" font-size="12.00" text-anchor="middle" font-family="Liberation Sans, sans-serif" fill="#1a1a1a" >14</text><text x="319.50" y="209.30" font-size="12.00" text-anchor="end" font-family="Liberation Sans, sans-serif" fill="#1a1a1a" >-4</text><text x="319.50" y="186.43" font-size="12.00" text-anchor="end" font-family="Liberation Sans, sans-serif" fill="#1a1a1a" >-3</text><text x="319.50" y="163.55" font-size="12.00" text-anchor="end" font-family="Liberation Sans, sans-serif" fill="#1a1a1a" >-2</text><text x="319.50" y="140.68" font-size="12.00" text-anchor="end" font-family="Liberation Sans, sans-serif" fill="#1a1a1a" >-1</text><text x="319.50" y="117.80" font-size="12.00" text-anchor="end" font-family="Liberation Sans, sans-serif" fill="#1a1a1a" >0</text><text x="319.50" y="94.92" font-size="12.00" text-anchor="end" font-family="Liberation Sans, sans-serif" fill="#1a1a1a" >1</text><text x="319.50" y="72.05" font-size="12.00" text-anchor="end" font-family="Liberation Sans, sans-serif" fill="#1a1a1a" >2</text><text x="319.50" y="49.17" font-size="12.00" text-anchor="end" font-family="Liberation Sans, sans-serif" fill="#1a1a1a" >3</text><text x="319.50" y="26.30" font-size="12.00" text-anchor="end" font-family="Liberation Sans, sans-serif" fill="#1a1a1a" >4</text><defs><linearGradient id="cb5421" x1="0" y1="1" x2="0" y2="0"><stop offset="0.0000" stop-color="#254070"/><stop offset="0.0357" stop-color="#284a7c"/><stop offset="0.0714" stop-color="#2c5588"/><stop offset="0.1071" stop-color="#306093"/><stop offset="0.1429" stop-color="#356a9e"/><stop offset="0.1786" stop-color="#3e77ab"/><stop offset="0.2143" stop-color="#4884b8"/><stop offset="0.2500" stop-color="#5d95c4"/><stop offset="0.2857" stop-color="#72a6cf"/><stop offset="0.3214" stop-color="#8db8d8"/><stop offset="0.3571" stop-color="#a8cae2"/><stop offset="0.3929" stop-color="#bdd6e8"/><stop offset="0.4286" stop-color="#d2e2ee"/><stop offset="0.4643" stop-color="#dde2e8"/><stop offset="0.5000" stop-color="#e8e2e2"/><stop offset="0.5357" stop-color="#eed6d0"/><stop offset="0.5714" stop-color="#f3cbbd"/><stop offset="0.6071" stop-color="#f0b8a8"/><stop offset="0.6429" stop-color="#eca693"/><stop offset="0.6786" stop-color="#e39180"/><stop offset="0.7143" stop-color="#da7c6c"/><stop offset="0.7500" stop-color="#d0695f"/><stop offset="0.7857" stop-color="#c65652"/><stop offset="0.8214" stop-color="#ba4648"/><stop offset="0.8571" stop-color="#ad363e"/><stop offset="0.8929" stop-color="#9e2d38"/><stop offset="0.9286" stop-color="#8f2433"/><stop offset="0.9643" stop-color="#80202f"/><stop offset="1.0000" stop-color="#701b2b"/></linearGradient></defs><rect x="540.00" y="21.90" width="11.80" height="183.10" fill="url(#cb5421)"/><rect x="540.00" y="21.90" width="11.80" height="183.10" fill="none" stroke="#777" stroke-width="0.7"/><text x="556.50" y="25.70" font-size="10.80" text-anchor="start" font-family="Liberation Sans, sans-serif" fill="#1a1a1a" >1</text><text x="556.50" y="208.80" font-size="10.80" text-anchor="start" font-family="Liberation Sans, sans-serif" fill="#1a1a1a" >0</text><line x1="551.8" y1="168.38" x2="549.3" y2="168.38" stroke="#333" stroke-width="0.8"/><line x1="551.8" y1="131.76" x2="549.3" y2="131.76" stroke="#333" stroke-width="0.8"/><line x1="551.8" y1="95.14" x2="549.3" y2="95.14" stroke="#333" stroke-width="0.8"/><line x1="551.8" y1="58.52" x2="549.3" y2="58.52" stroke="#333" stroke-width="0.8"/><text x="431.00" y="15.90" font-size="14.00" text-anchor="middle" font-family="Liberation Sans, sans-serif" fill="#1a1a1a" letter-spacing="-0.27">Emission spectrum</text><text x="556.70" y="11.30" font-size="15.00" text-anchor="start" font-family="Liberation Sans, sans-serif" fill="#1a1a1a" >(b)</text><text x="426.00" y="236.00" font-size="14.00" text-anchor="middle" font-family="Liberation Sans, sans-serif" fill="#1a1a1a" >J<tspan font-size="10" dy="3">0</tspan><tspan dy="-3"> / </tspan><tspan font-family="Liberation Serif, serif">Γ</tspan></text><text transform="translate(302,107.4) rotate(-90)" font-size="14" text-anchor="middle" font-family="Liberation Serif, serif" fill="#1a1a1a">(<tspan font-style="italic">ω</tspan> - <tspan font-style="italic">ω</tspan><tspan font-size="9" dy="3">c</tspan><tspan dy="-3">) / </tspan><tspan font-style="italic">g</tspan></text><defs><linearGradient id="g100" x1="0" y1="0" x2="0" y2="1"><stop offset=".000" stop-color="#2a5082"/><stop offset=".647" stop-color="#294b7d"/><stop offset=".848" stop-color="#254070"/><stop offset="1.000" stop-color="#254070"/></linearGradient><linearGradient id="g101" x1="0" y1="0" x2="0" y2="1"><stop offset=".000" stop-color="#2b5386"/><stop offset=".652" stop-color="#2a4e80"/><stop offset="1.000" stop-color="#254070"/></linearGradient><linearGradient id="g102" x1="0" y1="0" x2="0" y2="1"><stop offset=".000" stop-color="#2c5689"/><stop offset=".658" stop-color="#2a5083"/><stop offset="1.000" stop-color="#254070"/></linearGradient><linearGradient id="g103" x1="0" y1="0" x2="0" y2="1"><stop offset=".000" stop-color="#2e598c"/><stop offset=".636" stop-color="#2c5487"/><stop offset="1.000" stop-color="#264373"/></linearGradient><linearGradient id="g104" x1="0" y1="0" x2="0" y2="1"><stop offset=".000" stop-color="#2f5b8f"/><stop offset=".647" stop-color="#2d568a"/><stop offset="1.000" stop-color="#274576"/></linearGradient><linearGradient id="g105" x1="0" y1="0" x2="0" y2="1"><stop offset=".000" stop-color="#305d91"/><stop offset=".647" stop-color="#2d588c"/><stop offset="1.000" stop-color="#274778"/></linearGradient><linearGradient id="g106" x1="0" y1="0" x2="0" y2="1"><stop offset=".000" stop-color="#305f92"/><stop offset=".630" stop-color="#2e5a8e"/><stop offset="1.000" stop-color="#28497a"/></linearGradient><linearGradient id="g107" x1="0" y1="0" x2="0" y2="1"><stop offset=".000" stop-color="#316094"/><stop offset=".663" stop-color="#2f5b8f"/><stop offset="1.000" stop-color="#284a7c"/></linearGradient><linearGradient id="g108" x1="0" y1="0" x2="0" y2="1"><stop offset=".000" stop-color="#326296"/><stop offset=".658" stop-color="#2f5d91"/><stop offset="1.000" stop-color="#294c7e"/></linearGradient><linearGradient id="g109" x1="0" y1="0" x2="0" y2="1"><stop offset=".000" stop-color="#326497"/><stop offset=".652" stop-color="#305f93"/><stop offset="1.000" stop-color="#2a4e80"/></linearGradient><linearGradient id="g110" x1="0" y1="0" x2="0" y2="1"><stop offset=".000" stop-color="#336599"/><stop offset=".647" stop-color="#316195"/><stop offset="1.000" stop-color="#2a4f81"/></linearGradient><linearGradient id="g111" x1="0" y1="0" x2="0" y2="1"><stop offset=".000" stop-color="#34679b"/><stop offset=".647" stop-color="#326397"/><stop offset="1.000" stop-color="#2b5183"/></linearGradient><linearGradient id="g112" x1="0" y1="0" x2="0" y2="1"><stop offset=".000" stop-color="#34689c"/><stop offset=".641" stop-color="#336599"/><stop offset="1.000" stop-color="#2b5285"/></linearGradient><linearGradient id="g113" x1="0" y1="0" x2="0" y2="1"><stop offset=".000" stop-color="#35699d"/><stop offset=".658" stop-color="#33669a"/><stop offset="1.000" stop-color="#2b5386"/></linearGradient><linearGradient id="g114" x1="0" y1="0" x2="0" y2="1"><stop offset=".000" stop-color="#356a9e"/><stop offset=".647" stop-color="#34689c"/><stop offset="1.000" stop-color="#2c5487"/></linearGradient><linearGradient id="g115" x1="0" y1="0" x2="0" y2="1"><stop offset=".000" stop-color="#366b9f"/><stop offset=".674" stop-color="#34699d"/><stop offset="1.000" stop-color="#2c5588"/></linearGradient><linearGradient id="g116" x1="0" y1="0" x2="0" y2="1"><stop offset=".000" stop-color="#366ca0"/><stop offset=".652" stop-color="#366ca0"/><stop offset="1.000" stop-color="#2c5588"/></linearGradient><linearGradient id="g117" x1="0" y1="0" x2="0" y2="1"><stop offset=".000" stop-color="#376da1"/><stop offset=".674" stop-color="#386ea2"/><stop offset="1.000" stop-color="#2d5689"/></linearGradient><linearGradient id="g118" x1="0" y1="0" x2="0" y2="1"><stop offset=".000" stop-color="#386ea2"/><stop offset=".647" stop-color="#3a72a6"/><stop offset="1.000" stop-color="#2d578a"/></linearGradient><linearGradient id="g119" x1="0" y1="0" x2="0" y2="1"><stop offset=".000" stop-color="#396fa3"/><stop offset=".674" stop-color="#3d75a9"/><stop offset=".777" stop-color="#3970a4"/><stop offset=".875" stop-color="#305e92"/><stop offset="1.000" stop-color="#2d588b"/></linearGradient><linearGradient id="g120" x1="0" y1="0" x2="0" y2="1"><stop offset=".000" stop-color="#3970a4"/><stop offset=".690" stop-color="#4079ad"/><stop offset=".772" stop-color="#3c74a8"/><stop offset=".842" stop-color="#326296"/><stop offset="1.000" stop-color="#2e598c"/></linearGradient><linearGradient id="g121" x1="0" y1="0" x2="0" y2="1"><stop offset=".000" stop-color="#3a71a5"/><stop offset=".337" stop-color="#3b72a6"/><stop offset=".701" stop-color="#437eb2"/><stop offset=".761" stop-color="#407aae"/><stop offset=".853" stop-color="#326296"/><stop offset="1.000" stop-color="#2e5a8d"/></linearGradient><linearGradient id="g122" x1="0" y1="0" x2="0" y2="1"><stop offset=".000" stop-color="#3b72a6"/><stop offset=".342" stop-color="#3d74a8"/><stop offset=".674" stop-color="#4985b8"/><stop offset=".772" stop-color="#437db1"/><stop offset=".837" stop-color="#336599"/><stop offset="1.000" stop-color="#2e5a8e"/></linearGradient><linearGradient id="g123" x1="0" y1="0" x2="0" y2="1"><stop offset=".000" stop-color="#3b73a7"/><stop offset=".429" stop-color="#4079ad"/><stop offset=".701" stop-color="#538dbe"/><stop offset=".766" stop-color="#4783b7"/><stop offset=".842" stop-color="#336599"/><stop offset="1.000" stop-color="#2e5b8e"/></linearGradient><linearGradient id="g124" x1="0" y1="0" x2="0" y2="1"><stop offset=".000" stop-color="#3c73a7"/><stop offset=".429" stop-color="#427cb0"/><stop offset=".511" stop-color="#4783b7"/><stop offset=".641" stop-color="#5f96c4"/><stop offset=".696" stop-color="#6098c5"/><stop offset=".761" stop-color="#538dbe"/><stop offset=".799" stop-color="#3c74a8"/><stop offset=".832" stop-color="#34689c"/><stop offset="1.000" stop-color="#2f5b8e"/></linearGradient><linearGradient id="g125" x1="0" y1="0" x2="0" y2="1"><stop offset=".000" stop-color="#3c74a8"/><stop offset=".272" stop-color="#3f77ab"/><stop offset=".451" stop-color="#4682b6"/><stop offset=".652" stop-color="#6fa3cd"/><stop offset=".707" stop-color="#6fa4cd"/><stop offset=".755" stop-color="#6299c7"/><stop offset=".783" stop-color="#4783b7"/><stop offset=".826" stop-color="#356a9e"/><stop offset="1.000" stop-color="#2f5c8f"/></linearGradient><linearGradient id="g126" x1="0" y1="0" x2="0" y2="1"><stop offset=".000" stop-color="#3d75a9"/><stop offset=".245" stop-color="#3f78ac"/><stop offset=".429" stop-color="#4884b8"/><stop offset=".636" stop-color="#81b0d4"/><stop offset=".690" stop-color="#87b4d6"/><stop offset=".723" stop-color="#83b1d5"/><stop offset=".750" stop-color="#76a9d0"/><stop offset=".788" stop-color="#4782b6"/><stop offset=".815" stop-color="#3970a4"/><stop offset=".875" stop-color="#326397"/><stop offset="1.000" stop-color="#2f5c8f"/></linearGradient><linearGradient id="g127" x1="0" y1="0" x2="0" y2="1"><stop offset=".000" stop-color="#3d76aa"/><stop offset=".223" stop-color="#4079ad"/><stop offset=".386" stop-color="#4884b8"/><stop offset=".500" stop-color="#6299c7"/><stop offset=".641" stop-color="#9cc2de"/><stop offset=".690" stop-color="#a2c6e0"/><stop offset=".723" stop-color="#9dc2de"/><stop offset=".745" stop-color="#91bbda"/><stop offset=".761" stop-color="#7eaed3"/><stop offset=".788" stop-color="#4b87ba"/><stop offset=".810" stop-color="#3c74a8"/><stop offset=".853" stop-color="#34679a"/><stop offset="1.000" stop-color="#2f5c90"/></linearGradient><linearGradient id="g128" x1="0" y1="0" x2="0" y2="1"><stop offset=".000" stop-color="#3e76aa"/><stop offset=".348" stop-color="#4884b8"/><stop offset=".505" stop-color="#72a6cf"/><stop offset=".630" stop-color="#b3d0e5"/><stop offset=".690" stop-color="#bbd5e7"/><stop offset=".745" stop-color="#abcce3"/><stop offset=".761" stop-color="#93bcdb"/><stop offset=".793" stop-color="#4884b8"/><stop offset=".815" stop-color="#3b73a7"/><stop offset=".886" stop-color="#326397"/><stop offset="1.000" stop-color="#2f5d90"/></linearGradient><linearGradient id="g129" x1="0" y1="0" x2="0" y2="1"><stop offset=".000" stop-color="#3f77ab"/><stop offset=".223" stop-color="#437eb2"/><stop offset=".348" stop-color="#4f8abc"/><stop offset=".467" stop-color="#72a6cf"/><stop offset=".609" stop-color="#c4daea"/><stop offset=".641" stop-color="#d0e1ed"/><stop offset=".690" stop-color="#d4e2ed"/><stop offset=".723" stop-color="#cfe0ed"/><stop offset=".750" stop-color="#bbd5e7"/><stop offset=".761" stop-color="#aacbe2"/><stop offset=".793" stop-color="#4d88bb"/><stop offset=".810" stop-color="#3f78ac"/><stop offset=".864" stop-color="#33669a"/><stop offset="1.000" stop-color="#2f5d90"/></linearGradient><linearGradient id="g130" x1="0" y1="0" x2="0" y2="1"><stop offset=".000" stop-color="#4078ac"/><stop offset=".245" stop-color="#4682b6"/><stop offset=".326" stop-color="#528cbe"/><stop offset=".435" stop-color="#74a8d0"/><stop offset=".582" stop-color="#d0e1ed"/><stop offset=".652" stop-color="#e2e2e5"/><stop offset=".690" stop-color="#e3e2e5"/><stop offset=".750" stop-color="#d2e2ee"/><stop offset=".766" stop-color="#afcee4"/><stop offset=".783" stop-color="#70a5ce"/><stop offset=".793" stop-color="#528cbe"/><stop offset=".810" stop-color="#407aae"/><stop offset=".837" stop-color="#376ca0"/><stop offset=".875" stop-color="#336699"/><stop offset="1.000" stop-color="#305d91"/></linearGradient><linearGradient id="g131" x1="0" y1="0" x2="0" y2="1"><stop offset=".000" stop-color="#407aae"/><stop offset=".234" stop-color="#4884b8"/><stop offset=".321" stop-color="#5992c1"/><stop offset=".397" stop-color="#72a6cf"/><stop offset=".543" stop-color="#d1e2ee"/><stop offset=".603" stop-color="#e7e2e2"/><stop offset=".641" stop-color="#ecd9d3"/><stop offset=".685" stop-color="#eed6cf"/><stop offset=".728" stop-color="#eadfdd"/><stop offset=".755" stop-color="#d8e2eb"/><stop offset=".761" stop-color="#d0e1ed"/><stop offset=".772" stop-color="#aecee4"/><stop offset=".788" stop-color="#679dc9"/><stop offset=".804" stop-color="#4580b4"/><stop offset=".859" stop-color="#34689c"/><stop offset="1.000" stop-color="#305e91"/></linearGradient><linearGradient id="g132" x1="0" y1="0" x2="0" y2="1"><stop offset=".000" stop-color="#417baf"/><stop offset=".196" stop-color="#4884b8"/><stop offset=".310" stop-color="#5f97c5"/><stop offset=".391" stop-color="#81b0d4"/><stop offset=".505" stop-color="#d0e1ed"/><stop offset=".565" stop-color="#e9e1e0"/><stop offset=".647" stop-color="#f1c2b3"/><stop offset=".685" stop-color="#f1c1b1"/><stop offset=".717" stop-color="#f3cbbd"/><stop offset=".750" stop-color="#e9e0de"/><stop offset=".766" stop-color="#d1e1ee"/><stop offset=".777" stop-color="#a5c8e1"/><stop offset=".788" stop-color="#6ea3cd"/><stop offset=".799" stop-color="#508bbc"/><stop offset=".810" stop-color="#437db1"/><stop offset=".870" stop-color="#34679b"/><stop offset="1.000" stop-color="#305e92"/></linearGradient><linearGradient id="g133" x1="0" y1="0" x2="0" y2="1"><stop offset=".000" stop-color="#427cb0"/><stop offset=".158" stop-color="#4884b8"/><stop offset=".288" stop-color="#6299c6"/><stop offset=".364" stop-color="#83b2d5"/><stop offset=".473" stop-color="#d0e1ee"/><stop offset=".527" stop-color="#e8e1e1"/><stop offset=".576" stop-color="#f3c9bb"/><stop offset=".614" stop-color="#eeb09e"/><stop offset=".652" stop-color="#eaa28f"/><stop offset=".701" stop-color="#eda996"/><stop offset=".728" stop-color="#f0baa9"/><stop offset=".745" stop-color="#f2cdc0"/><stop offset=".761" stop-color="#e5e2e4"/><stop offset=".772" stop-color="#cadeec"/><stop offset=".788" stop-color="#76a9d1"/><stop offset=".799" stop-color="#548ebf"/><stop offset=".810" stop-color="#447fb3"/><stop offset=".837" stop-color="#396fa3"/><stop offset=".880" stop-color="#34679a"/><stop offset="1.000" stop-color="#305e92"/></linearGradient><linearGradient id="g134" x1="0" y1="0" x2="0" y2="1"><stop offset=".000" stop-color="#447eb2"/><stop offset=".136" stop-color="#4a86b9"/><stop offset=".277" stop-color="#689eca"/><stop offset=".332" stop-color="#81b0d4"/><stop offset=".446" stop-color="#d3e2ee"/><stop offset=".489" stop-color="#e6e2e3"/><stop offset=".538" stop-color="#f3cabc"/><stop offset=".603" stop-color="#e59583"/><stop offset=".641" stop-color="#dc8171"/><stop offset=".668" stop-color="#db7f6f"/><stop offset=".717" stop-color="#e59785"/><stop offset=".734" stop-color="#eda996"/><stop offset=".750" stop-color="#f2c5b7"/><stop offset=".761" stop-color="#ebdcd8"/><stop offset=".772" stop-color="#d5e2ed"/><stop offset=".788" stop-color="#7eaed3"/><stop offset=".793" stop-color="#689ec9"/><stop offset=".804" stop-color="#4c87ba"/><stop offset=".810" stop-color="#4681b5"/><stop offset=".864" stop-color="#35699d"/><stop offset="1.000" stop-color="#305f92"/></linearGradient><linearGradient id="g135" x1="0" y1="0" x2="0" y2="1"><stop offset=".000" stop-color="#4580b4"/><stop offset=".114" stop-color="#4c88ba"/><stop offset=".245" stop-color="#679dc9"/><stop offset=".315" stop-color="#88b5d7"/><stop offset=".413" stop-color="#d0e1ed"/><stop offset=".462" stop-color="#e8e2e2"/><stop offset=".505" stop-color="#f3cabc"/><stop offset=".592" stop-color="#d97a6b"/><stop offset=".620" stop-color="#d0695f"/><stop offset=".658" stop-color="#cc6159"/><stop offset=".696" stop-color="#d26c61"/><stop offset=".723" stop-color="#dd8372"/><stop offset=".745" stop-color="#eca895"/><stop offset=".755" stop-color="#f2c5b6"/><stop offset=".766" stop-color="#e8e1e1"/><stop offset=".777" stop-color="#c5daea"/><stop offset=".793" stop-color="#6ca1cc"/><stop offset=".810" stop-color="#4782b6"/><stop offset=".864" stop-color="#356a9e"/><stop offset="1.000" stop-color="#305f93"/></linearGradient><linearGradient id="g136" x1="0" y1="0" x2="0" y2="1"><stop offset=".000" stop-color="#4682b6"/><stop offset=".120" stop-color="#528cbe"/><stop offset=".250" stop-color="#73a7cf"/><stop offset=".299" stop-color="#8fb9d9"/><stop offset=".391" stop-color="#d3e2ee"/><stop offset=".435" stop-color="#e8e2e2"/><stop offset=".478" stop-color="#f2c8ba"/><stop offset=".516" stop-color="#eba390"/><stop offset=".554" stop-color="#d97b6b"/><stop offset=".609" stop-color="#c2514f"/><stop offset=".663" stop-color="#bb4849"/><stop offset=".701" stop-color="#c85954"/><stop offset=".734" stop-color="#db7e6e"/><stop offset=".750" stop-color="#eca694"/><stop offset=".761" stop-color="#f2ccbf"/><stop offset=".772" stop-color="#dfe2e7"/><stop offset=".777" stop-color="#ccdfec"/><stop offset=".793" stop-color="#70a5ce"/><stop offset=".810" stop-color="#4884b8"/><stop offset=".853" stop-color="#376da1"/><stop offset="1.000" stop-color="#316093"/></linearGradient><linearGradient id="g137" x1="0" y1="0" x2="0" y2="1"><stop offset=".000" stop-color="#4884b8"/><stop offset=".141" stop-color="#5c94c3"/><stop offset=".223" stop-color="#73a7cf"/><stop offset=".283" stop-color="#95bedb"/><stop offset=".364" stop-color="#d2e2ee"/><stop offset=".408" stop-color="#e7e2e3"/><stop offset=".451" stop-color="#f3c9bb"/><stop offset=".495" stop-color="#e89c89"/><stop offset=".538" stop-color="#d26c61"/><stop offset=".609" stop-color="#b03940"/><stop offset=".647" stop-color="#a9333c"/><stop offset=".674" stop-color="#af383f"/><stop offset=".717" stop-color="#c75853"/><stop offset=".739" stop-color="#d97b6b"/><stop offset=".750" stop-color="#e79a88"/><stop offset=".761" stop-color="#f2c4b5"/><stop offset=".772" stop-color="#e3e2e5"/><stop offset=".777" stop-color="#d2e2ee"/><stop offset=".793" stop-color="#74a7d0"/><stop offset=".810" stop-color="#4985b9"/><stop offset=".859" stop-color="#376ca0"/><stop offset="1.000" stop-color="#316093"/></linearGradient><linearGradient id="g138" x1="0" y1="0" x2="0" y2="1"><stop offset=".000" stop-color="#4b87ba"/><stop offset=".103" stop-color="#5a93c2"/><stop offset=".196" stop-color="#72a6cf"/><stop offset=".261" stop-color="#96bedc"/><stop offset=".342" stop-color="#d2e2ee"/><stop offset=".386" stop-color="#e7e2e2"/><stop offset=".424" stop-color="#f3ccbf"/><stop offset=".462" stop-color="#eca592"/><stop offset=".495" stop-color="#db7e6d"/><stop offset=".522" stop-color="#cc6159"/><stop offset=".576" stop-color="#ad363e"/><stop offset=".614" stop-color="#9b2b38"/><stop offset=".641" stop-color="#982936"/><stop offset=".690" stop-color="#ac353d"/><stop offset=".717" stop-color="#c04e4d"/><stop offset=".734" stop-color="#cf675e"/><stop offset=".745" stop-color="#dc8171"/><stop offset=".761" stop-color="#f1bfb0"/><stop offset=".772" stop-color="#e5e2e3"/><stop offset=".777" stop-color="#d4e2ed"/><stop offset=".793" stop-color="#76a9d0"/><stop offset=".804" stop-color="#558fbf"/><stop offset=".815" stop-color="#4580b4"/><stop offset=".870" stop-color="#356a9e"/><stop offset="1.000" stop-color="#316093"/></linearGradient><linearGradient id="g139" x1="0" y1="0" x2="0" y2="1"><stop offset=".000" stop-color="#4f8abc"/><stop offset=".109" stop-color="#6199c6"/><stop offset=".179" stop-color="#76a9d0"/><stop offset=".234" stop-color="#93bcdb"/><stop offset=".321" stop-color="#d2e2ee"/><stop offset=".364" stop-color="#e7e2e2"/><stop offset=".402" stop-color="#f2ccbf"/><stop offset=".435" stop-color="#edab98"/><stop offset=".473" stop-color="#da7c6c"/><stop offset=".505" stop-color="#c75853"/><stop offset=".549" stop-color="#ac353d"/><stop offset=".598" stop-color="#912534"/><stop offset=".647" stop-color="#8c2332"/><stop offset=".701" stop-color="#ad363e"/><stop offset=".723" stop-color="#c1504e"/><stop offset=".745" stop-color="#da7d6d"/><stop offset=".761" stop-color="#f0bdad"/><stop offset=".772" stop-color="#e7e2e3"/><stop offset=".777" stop-color="#d5e2ec"/><stop offset=".793" stop-color="#78aad1"/><stop offset=".804" stop-color="#5790c0"/><stop offset=".815" stop-color="#4681b5"/><stop offset=".853" stop-color="#386ea2"/><stop offset=".891" stop-color="#34689b"/><stop offset="1.000" stop-color="#316094"/></linearGradient><linearGradient id="g140" x1="0" y1="0" x2="0" y2="1"><stop offset=".000" stop-color="#538dbe"/><stop offset=".158" stop-color="#77a9d1"/><stop offset=".207" stop-color="#90bada"/><stop offset=".299" stop-color="#d0e1ed"/><stop offset=".342" stop-color="#e6e2e3"/><stop offset=".380" stop-color="#f2cec1"/><stop offset=".402" stop-color="#f0b9a8"/><stop offset=".451" stop-color="#db7e6e"/><stop offset=".489" stop-color="#c45350"/><stop offset=".522" stop-color="#ae373f"/><stop offset=".571" stop-color="#902433"/><stop offset=".598" stop-color="#852130"/><stop offset=".636" stop-color="#822030"/><stop offset=".668" stop-color="#902533"/><stop offset=".701" stop-color="#ab353d"/><stop offset=".728" stop-color="#c65652"/><stop offset=".745" stop-color="#da7b6c"/><stop offset=".755" stop-color="#eba491"/><stop offset=".766" stop-color="#f0d2c8"/><stop offset=".772" stop-color="#e7e2e2"/><stop offset=".777" stop-color="#d6e2ec"/><stop offset=".793" stop-color="#7aabd2"/><stop offset=".804" stop-color="#5791c0"/><stop offset=".815" stop-color="#4682b6"/><stop offset=".859" stop-color="#376da1"/><stop offset="1.000" stop-color="#316094"/></linearGradient><linearGradient id="g141" x1="0" y1="0" x2="0" y2="1"><stop offset=".000" stop-color="#5891c1"/><stop offset=".141" stop-color="#7aabd2"/><stop offset=".207" stop-color="#9dc3de"/><stop offset=".283" stop-color="#d2e2ee"/><stop offset=".326" stop-color="#e7e2e3"/><stop offset=".364" stop-color="#f2cdc0"/><stop offset=".402" stop-color="#eca592"/><stop offset=".435" stop-color="#da7c6c"/><stop offset=".473" stop-color="#c3524f"/><stop offset=".505" stop-color="#ac363e"/><stop offset=".549" stop-color="#902433"/><stop offset=".587" stop-color="#80202f"/><stop offset=".636" stop-color="#7f1f2f"/><stop offset=".663" stop-color="#8b2332"/><stop offset=".696" stop-color="#a5313b"/><stop offset=".728" stop-color="#c65752"/><stop offset=".745" stop-color="#da7c6c"/><stop offset=".755" stop-color="#eba592"/><stop offset=".766" stop-color="#f0d2c8"/><stop offset=".772" stop-color="#e7e2e2"/><stop offset=".777" stop-color="#d6e2ec"/><stop offset=".793" stop-color="#7aacd2"/><stop offset=".804" stop-color="#5891c1"/><stop offset=".815" stop-color="#4682b6"/><stop offset=".864" stop-color="#376ca0"/><stop offset="1.000" stop-color="#316094"/></linearGradient><linearGradient id="g142" x1="0" y1="0" x2="0" y2="1"><stop offset=".000" stop-color="#5c94c3"/><stop offset=".130" stop-color="#7fafd4"/><stop offset=".266" stop-color="#d2e2ee"/><stop offset=".310" stop-color="#e7e2e3"/><stop offset=".353" stop-color="#f3c9ba"/><stop offset=".386" stop-color="#eca693"/><stop offset=".418" stop-color="#db7d6d"/><stop offset=".451" stop-color="#c75853"/><stop offset=".489" stop-color="#ad363e"/><stop offset=".533" stop-color="#912534"/><stop offset=".576" stop-color="#7f1f2f"/><stop offset=".620" stop-color="#7c1e2e"/><stop offset=".674" stop-color="#942735"/><stop offset=".712" stop-color="#b64246"/><stop offset=".728" stop-color="#c85954"/><stop offset=".745" stop-color="#db7f6e"/><stop offset=".761" stop-color="#f0beae"/><stop offset=".772" stop-color="#e7e2e3"/><stop offset=".777" stop-color="#d5e2ec"/><stop offset=".793" stop-color="#7bacd2"/><stop offset=".804" stop-color="#5991c1"/><stop offset=".815" stop-color="#4782b6"/><stop offset=".864" stop-color="#376ca0"/><stop offset="1.000" stop-color="#316094"/></linearGradient><linearGradient id="g143" x1="0" y1="0" x2="0" y2="1"><stop offset=".000" stop-color="#6198c6"/><stop offset=".109" stop-color="#7fafd4"/><stop offset=".250" stop-color="#d2e2ee"/><stop offset=".299" stop-color="#e8e1e1"/><stop offset=".337" stop-color="#f3cbbd"/><stop offset=".370" stop-color="#eda997"/><stop offset=".408" stop-color="#d97b6b"/><stop offset=".462" stop-color="#b84446"/><stop offset=".489" stop-color="#a5313b"/><stop offset=".554" stop-color="#842130"/><stop offset=".625" stop-color="#7f1f2f"/><stop offset=".658" stop-color="#8c2332"/><stop offset=".701" stop-color="#b03940"/><stop offset=".723" stop-color="#c55551"/><stop offset=".739" stop-color="#d67567"/><stop offset=".750" stop-color="#e59684"/><stop offset=".761" stop-color="#f1c1b2"/><stop offset=".772" stop-color="#e5e2e3"/><stop offset=".777" stop-color="#d5e2ed"/><stop offset=".793" stop-color="#7aabd2"/><stop offset=".804" stop-color="#5991c1"/><stop offset=".815" stop-color="#4782b6"/><stop offset=".870" stop-color="#366b9f"/><stop offset="1.000" stop-color="#316094"/></linearGradient><linearGradient id="g144" x1="0" y1="0" x2="0" y2="1"><stop offset=".000" stop-color="#669dc9"/><stop offset=".114" stop-color="#8bb7d8"/><stop offset=".234" stop-color="#d2e2ee"/><stop offset=".283" stop-color="#e7e2e2"/><stop offset=".326" stop-color="#f3cabc"/><stop offset=".359" stop-color="#eda996"/><stop offset=".397" stop-color="#da7c6c"/><stop offset=".457" stop-color="#b64245"/><stop offset=".478" stop-color="#a9333c"/><stop offset=".538" stop-color="#8b2332"/><stop offset=".614" stop-color="#832030"/><stop offset=".652" stop-color="#8f2433"/><stop offset=".701" stop-color="#b43f44"/><stop offset=".723" stop-color="#c95b56"/><stop offset=".739" stop-color="#da7b6b"/><stop offset=".750" stop-color="#e89c8a"/><stop offset=".761" stop-color="#f2c6b7"/><stop offset=".772" stop-color="#e4e2e4"/><stop offset=".777" stop-color="#d3e2ed"/><stop offset=".793" stop-color="#79abd2"/><stop offset=".804" stop-color="#5991c1"/><stop offset=".815" stop-color="#4782b6"/><stop offset=".870" stop-color="#366b9f"/><stop offset="1.000" stop-color="#316094"/></linearGradient><linearGradient id="g145" x1="0" y1="0" x2="0" y2="1"><stop offset=".000" stop-color="#6ca1cb"/><stop offset=".092" stop-color="#8ab6d8"/><stop offset=".217" stop-color="#d0e1ed"/><stop offset=".272" stop-color="#e8e2e2"/><stop offset=".315" stop-color="#f3cabc"/><stop offset=".353" stop-color="#eca592"/><stop offset=".391" stop-color="#d9796a"/><stop offset=".440" stop-color="#be4c4b"/><stop offset=".473" stop-color="#ac353e"/><stop offset=".516" stop-color="#962836"/><stop offset=".571" stop-color="#882231"/><stop offset=".614" stop-color="#892232"/><stop offset=".647" stop-color="#932735"/><stop offset=".674" stop-color="#a5313b"/><stop offset=".707" stop-color="#bf4d4d"/><stop offset=".728" stop-color="#d26d62"/><stop offset=".739" stop-color="#de8474"/><stop offset=".750" stop-color="#eba491"/><stop offset=".761" stop-color="#f3cbbe"/><stop offset=".772" stop-color="#e1e2e6"/><stop offset=".777" stop-color="#d1e1ee"/><stop offset=".793" stop-color="#78aad1"/><stop offset=".804" stop-color="#5891c1"/><stop offset=".815" stop-color="#4782b6"/><stop offset=".870" stop-color="#366b9f"/><stop offset="1.000" stop-color="#316094"/></linearGradient><linearGradient id="g146" x1="0" y1="0" x2="0" y2="1"><stop offset=".000" stop-color="#71a5ce"/><stop offset=".098" stop-color="#95bedb"/><stop offset=".207" stop-color="#d1e2ee"/><stop offset=".261" stop-color="#e8e2e2"/><stop offset=".304" stop-color="#f3ccbe"/><stop offset=".342" stop-color="#eda997"/><stop offset=".386" stop-color="#d97b6b"/><stop offset=".424" stop-color="#c75853"/><stop offset=".478" stop-color="#ac353e"/><stop offset=".538" stop-color="#942735"/><stop offset=".592" stop-color="#8f2433"/><stop offset=".630" stop-color="#962836"/><stop offset=".668" stop-color="#aa343d"/><stop offset=".696" stop-color="#bd4b4b"/><stop offset=".734" stop-color="#dd8272"/><stop offset=".750" stop-color="#edad9b"/><stop offset=".761" stop-color="#f1d0c4"/><stop offset=".766" stop-color="#eadedb"/><stop offset=".777" stop-color="#ccdfec"/><stop offset=".793" stop-color="#76a9d0"/><stop offset=".804" stop-color="#5791c0"/><stop offset=".815" stop-color="#4782b6"/><stop offset=".875" stop-color="#356a9e"/><stop offset="1.000" stop-color="#316094"/></linearGradient><linearGradient id="g147" x1="0" y1="0" x2="0" y2="1"><stop offset=".000" stop-color="#77a9d1"/><stop offset=".076" stop-color="#93bcdb"/><stop offset=".196" stop-color="#d1e2ee"/><stop offset=".255" stop-color="#e9e1e0"/><stop offset=".299" stop-color="#f3cbbe"/><stop offset=".342" stop-color="#eca693"/><stop offset=".380" stop-color="#dc806f"/><stop offset=".429" stop-color="#c65752"/><stop offset=".500" stop-color="#a7323c"/><stop offset=".554" stop-color="#992a37"/><stop offset=".598" stop-color="#9a2a37"/><stop offset=".658" stop-color="#ad363e"/><stop offset=".696" stop-color="#c65652"/><stop offset=".728" stop-color="#de8474"/><stop offset=".745" stop-color="#eca896"/><stop offset=".755" stop-color="#f2c7b9"/><stop offset=".766" stop-color="#e8e2e2"/><stop offset=".777" stop-color="#c8dceb"/><stop offset=".793" stop-color="#74a7d0"/><stop offset=".804" stop-color="#5790c0"/><stop offset=".815" stop-color="#4682b6"/><stop offset=".875" stop-color="#356a9e"/><stop offset="1.000" stop-color="#316094"/></linearGradient><linearGradient id="g148" x1="0" y1="0" x2="0" y2="1"><stop offset=".000" stop-color="#7eaed3"/><stop offset=".071" stop-color="#98c0dc"/><stop offset=".185" stop-color="#d1e1ee"/><stop offset=".250" stop-color="#e9e1e0"/><stop offset=".299" stop-color="#f3c9bb"/><stop offset=".332" stop-color="#eeae9d"/><stop offset=".391" stop-color="#d9796a"/><stop offset=".435" stop-color="#c75853"/><stop offset=".500" stop-color="#ae373f"/><stop offset=".587" stop-color="#a4303b"/><stop offset=".641" stop-color="#b03a41"/><stop offset=".679" stop-color="#c45350"/><stop offset=".701" stop-color="#d16b60"/><stop offset=".734" stop-color="#e89d8a"/><stop offset=".755" stop-color="#f1cec3"/><stop offset=".766" stop-color="#e4e2e4"/><stop offset=".772" stop-color="#d7e2eb"/><stop offset=".783" stop-color="#a8cae2"/><stop offset=".793" stop-color="#71a5cf"/><stop offset=".804" stop-color="#568fbf"/><stop offset=".815" stop-color="#4682b6"/><stop offset=".875" stop-color="#356a9e"/><stop offset="1.000" stop-color="#316194"/></linearGradient><linearGradient id="g149" x1="0" y1="0" x2="0" y2="1"><stop offset=".000" stop-color="#84b2d5"/><stop offset=".179" stop-color="#d2e2ee"/><stop offset=".245" stop-color="#e8e1e1"/><stop offset=".299" stop-color="#f3c9ba"/><stop offset=".348" stop-color="#eba491"/><stop offset=".413" stop-color="#d36e62"/><stop offset=".457" stop-color="#c35250"/><stop offset=".505" stop-color="#b43f44"/><stop offset=".565" stop-color="#ae373f"/><stop offset=".636" stop-color="#ba4648"/><stop offset=".658" stop-color="#c2514f"/><stop offset=".690" stop-color="#d36e62"/><stop offset=".728" stop-color="#eaa28f"/><stop offset=".750" stop-color="#f3ccbe"/><stop offset=".761" stop-color="#e9dfde"/><stop offset=".772" stop-color="#d4e2ed"/><stop offset=".793" stop-color="#6fa3cd"/><stop offset=".804" stop-color="#548ebf"/><stop offset=".815" stop-color="#4681b5"/><stop offset=".875" stop-color="#356a9e"/><stop offset="1.000" stop-color="#316194"/></linearGradient><linearGradient id="g150" x1="0" y1="0" x2="0" y2="1"><stop offset=".000" stop-color="#8ab6d7"/><stop offset=".174" stop-color="#d2e2ee"/><stop offset=".245" stop-color="#e9e1e0"/><stop offset=".310" stop-color="#f2c3b4"/><stop offset=".408" stop-color="#d9796a"/><stop offset=".495" stop-color="#bf4d4d"/><stop offset=".565" stop-color="#b94547"/><stop offset=".630" stop-color="#c45350"/><stop offset=".685" stop-color="#d9796a"/><stop offset=".717" stop-color="#eaa18e"/><stop offset=".745" stop-color="#f3cbbd"/><stop offset=".761" stop-color="#e5e2e4"/><stop offset=".772" stop-color="#cddfed"/><stop offset=".793" stop-color="#6ca1cc"/><stop offset=".810" stop-color="#4a85b9"/><stop offset=".837" stop-color="#3d74a8"/><stop offset=".870" stop-color="#366b9f"/><stop offset="1.000" stop-color="#316194"/></linearGradient><linearGradient id="g151" x1="0" y1="0" x2="0" y2="1"><stop offset=".000" stop-color="#8fb9d9"/><stop offset=".168" stop-color="#d1e2ee"/><stop offset=".250" stop-color="#e9e0de"/><stop offset=".304" stop-color="#f3cabc"/><stop offset=".418" stop-color="#da7c6c"/><stop offset=".489" stop-color="#c95b56"/><stop offset=".533" stop-color="#c45350"/><stop offset=".603" stop-color="#c95b56"/><stop offset=".663" stop-color="#d87869"/><stop offset=".707" stop-color="#eba491"/><stop offset=".739" stop-color="#f2cdc0"/><stop offset=".755" stop-color="#e8e2e2"/><stop offset=".766" stop-color="#d6e2ec"/><stop offset=".777" stop-color="#b0cfe4"/><stop offset=".793" stop-color="#699fca"/><stop offset=".810" stop-color="#4984b8"/><stop offset=".864" stop-color="#376ca0"/><stop offset="1.000" stop-color="#316194"/></linearGradient><linearGradient id="g152" x1="0" y1="0" x2="0" y2="1"><stop offset=".000" stop-color="#93bcdb"/><stop offset=".168" stop-color="#d2e2ee"/><stop offset=".245" stop-color="#e7e2e2"/><stop offset=".310" stop-color="#f3cbbd"/><stop offset=".435" stop-color="#db7e6e"/><stop offset=".489" stop-color="#d16a60"/><stop offset=".538" stop-color="#cd645b"/><stop offset=".582" stop-color="#d0685f"/><stop offset=".636" stop-color="#da7b6b"/><stop offset=".674" stop-color="#e59583"/><stop offset=".728" stop-color="#f3ccbe"/><stop offset=".750" stop-color="#e8e1e1"/><stop offset=".766" stop-color="#cfe0ed"/><stop offset=".777" stop-color="#a9cbe2"/><stop offset=".788" stop-color="#77aad1"/><stop offset=".799" stop-color="#5a92c2"/><stop offset=".810" stop-color="#4884b8"/><stop offset=".864" stop-color="#376ca0"/><stop offset="1.000" stop-color="#316194"/></linearGradient><linearGradient id="g153" x1="0" y1="0" x2="0" y2="1"><stop offset=".000" stop-color="#97bfdc"/><stop offset=".168" stop-color="#d1e1ee"/><stop offset=".250" stop-color="#e7e2e2"/><stop offset=".321" stop-color="#f3cabc"/><stop offset=".418" stop-color="#e49482"/><stop offset=".462" stop-color="#dc8171"/><stop offset=".511" stop-color="#d77768"/><stop offset=".582" stop-color="#da7b6c"/><stop offset=".630" stop-color="#e28e7c"/><stop offset=".679" stop-color="#edad9a"/><stop offset=".712" stop-color="#f3c9ba"/><stop offset=".745" stop-color="#e8e2e2"/><stop offset=".761" stop-color="#d4e2ed"/><stop offset=".772" stop-color="#b6d2e6"/><stop offset=".788" stop-color="#72a6cf"/><stop offset=".799" stop-color="#5791c0"/><stop offset=".810" stop-color="#4783b7"/><stop offset=".837" stop-color="#3c73a7"/><stop offset=".880" stop-color="#35699d"/><stop offset="1.000" stop-color="#316194"/></linearGradient><linearGradient id="g154" x1="0" y1="0" x2="0" y2="1"><stop offset=".000" stop-color="#9ac0dd"/><stop offset=".174" stop-color="#d1e2ee"/><stop offset=".261" stop-color="#e8e2e2"/><stop offset=".332" stop-color="#f3cbbd"/><stop offset=".413" stop-color="#eba491"/><stop offset=".505" stop-color="#e08978"/><stop offset=".543" stop-color="#e08978"/><stop offset=".603" stop-color="#e69785"/><stop offset=".663" stop-color="#eeb3a1"/><stop offset=".696" stop-color="#f3cabb"/><stop offset=".734" stop-color="#e9e1e0"/><stop offset=".755" stop-color="#d6e2ec"/><stop offset=".772" stop-color="#aecde4"/><stop offset=".788" stop-color="#6ea3cd"/><stop offset=".810" stop-color="#4682b6"/><stop offset=".842" stop-color="#3a71a5"/><stop offset=".880" stop-color="#35699d"/><stop offset="1.000" stop-color="#316194"/></linearGradient><linearGradient id="g155" x1="0" y1="0" x2="0" y2="1"><stop offset=".000" stop-color="#9bc2de"/><stop offset=".179" stop-color="#d1e2ee"/><stop offset=".272" stop-color="#e8e2e1"/><stop offset=".348" stop-color="#f3cbbd"/><stop offset=".402" stop-color="#efb4a3"/><stop offset=".500" stop-color="#e89d8a"/><stop offset=".592" stop-color="#eca895"/><stop offset=".674" stop-color="#f3cabc"/><stop offset=".723" stop-color="#e8e2e1"/><stop offset=".750" stop-color="#d5e2ec"/><stop offset=".772" stop-color="#a6c9e1"/><stop offset=".788" stop-color="#6aa0cb"/><stop offset=".810" stop-color="#4681b5"/><stop offset=".848" stop-color="#396fa3"/><stop offset=".886" stop-color="#34689c"/><stop offset="1.000" stop-color="#316194"/></linearGradient><linearGradient id="g156" x1="0" y1="0" x2="0" y2="1"><stop offset=".000" stop-color="#9cc2de"/><stop offset=".185" stop-color="#d1e1ee"/><stop offset=".283" stop-color="#e8e2e2"/><stop offset=".370" stop-color="#f3cbbe"/><stop offset=".418" stop-color="#f0bbab"/><stop offset=".495" stop-color="#eeae9c"/><stop offset=".571" stop-color="#efb4a3"/><stop offset=".647" stop-color="#f3ccbe"/><stop offset=".707" stop-color="#e8e1e1"/><stop offset=".745" stop-color="#d4e2ed"/><stop offset=".766" stop-color="#accce3"/><stop offset=".783" stop-color="#75a8d0"/><stop offset=".793" stop-color="#5a93c2"/><stop offset=".804" stop-color="#4884b8"/><stop offset=".815" stop-color="#427cb0"/><stop offset=".864" stop-color="#366b9f"/><stop offset="1.000" stop-color="#316195"/></linearGradient><linearGradient id="g157" x1="0" y1="0" x2="0" y2="1"><stop offset=".000" stop-color="#9cc2de"/><stop offset=".196" stop-color="#d2e2ee"/><stop offset=".304" stop-color="#e9e1e0"/><stop offset=".424" stop-color="#f2c7b8"/><stop offset=".489" stop-color="#f1beae"/><stop offset=".543" stop-color="#f1c1b1"/><stop offset=".630" stop-color="#f0d2c8"/><stop offset=".690" stop-color="#e7e2e3"/><stop offset=".739" stop-color="#d0e1ee"/><stop offset=".761" stop-color="#afcee4"/><stop offset=".793" stop-color="#5790c0"/><stop offset=".810" stop-color="#447fb3"/><stop offset=".870" stop-color="#356a9e"/><stop offset="1.000" stop-color="#316195"/></linearGradient><linearGradient id="g158" x1="0" y1="0" x2="0" y2="1"><stop offset=".000" stop-color="#9bc1dd"/><stop offset=".207" stop-color="#d2e2ee"/><stop offset=".326" stop-color="#e9e1e0"/><stop offset=".397" stop-color="#efd4cb"/><stop offset=".484" stop-color="#f2ccbf"/><stop offset=".554" stop-color="#f1d0c4"/><stop offset=".625" stop-color="#ecdbd6"/><stop offset=".668" stop-color="#e6e2e3"/><stop offset=".728" stop-color="#d0e1ed"/><stop offset=".761" stop-color="#a6c9e1"/><stop offset=".788" stop-color="#5f97c5"/><stop offset=".799" stop-color="#4b87ba"/><stop offset=".810" stop-color="#437eb2"/><stop offset=".875" stop-color="#35699d"/><stop offset="1.000" stop-color="#316195"/></linearGradient><linearGradient id="g159" x1="0" y1="0" x2="0" y2="1"><stop offset=".000" stop-color="#9ac1dd"/><stop offset=".217" stop-color="#d1e1ee"/><stop offset=".348" stop-color="#e8e2e2"/><stop offset=".462" stop-color="#eed6ce"/><stop offset=".522" stop-color="#eed6cf"/><stop offset=".609" stop-color="#e9e1e0"/><stop offset=".701" stop-color="#d5e2ed"/><stop offset=".734" stop-color="#c0d8e9"/><stop offset=".755" stop-color="#a7c9e2"/><stop offset=".788" stop-color="#5b94c3"/><stop offset=".804" stop-color="#4580b4"/><stop offset=".875" stop-color="#35699d"/><stop offset="1.000" stop-color="#316195"/></linearGradient><linearGradient id="g160" x1="0" y1="0" x2="0" y2="1"><stop offset=".000" stop-color="#99c0dd"/><stop offset=".234" stop-color="#d1e1ee"/><stop offset=".326" stop-color="#e0e2e7"/><stop offset=".462" stop-color="#eadedb"/><stop offset=".560" stop-color="#e8e2e2"/><stop offset=".685" stop-color="#d3e2ee"/><stop offset=".723" stop-color="#bed7e8"/><stop offset=".750" stop-color="#a6c9e1"/><stop offset=".793" stop-color="#4e89bc"/><stop offset=".804" stop-color="#447fb3"/><stop offset=".859" stop-color="#366b9f"/><stop offset="1.000" stop-color="#316195"/></linearGradient><linearGradient id="g161" x1="0" y1="0" x2="0" y2="1"><stop offset=".000" stop-color="#98bfdc"/><stop offset=".293" stop-color="#d7e2ec"/><stop offset=".424" stop-color="#e4e2e4"/><stop offset=".571" stop-color="#dfe2e7"/><stop offset=".658" stop-color="#d2e2ee"/><stop offset=".728" stop-color="#b1cfe4"/><stop offset=".755" stop-color="#94bddb"/><stop offset=".788" stop-color="#558ebf"/><stop offset=".804" stop-color="#437eb2"/><stop offset=".864" stop-color="#356a9e"/><stop offset="1.000" stop-color="#316195"/></linearGradient><linearGradient id="g162" x1="0" y1="0" x2="0" y2="1"><stop offset=".000" stop-color="#96bedc"/><stop offset=".293" stop-color="#d3e2ee"/><stop offset=".440" stop-color="#dee2e8"/><stop offset=".560" stop-color="#d9e2ea"/><stop offset=".647" stop-color="#caddec"/><stop offset=".728" stop-color="#a8cae2"/><stop offset=".750" stop-color="#93bcdb"/><stop offset=".793" stop-color="#4985b9"/><stop offset=".810" stop-color="#4079ad"/><stop offset=".870" stop-color="#35699d"/><stop offset="1.000" stop-color="#316195"/></linearGradient><linearGradient id="g163" x1="0" y1="0" x2="0" y2="1"><stop offset=".000" stop-color="#95bddb"/><stop offset=".337" stop-color="#d3e2ee"/><stop offset=".560" stop-color="#d2e2ee"/><stop offset=".658" stop-color="#bcd5e8"/><stop offset=".723" stop-color="#a2c6e0"/><stop offset=".755" stop-color="#84b2d5"/><stop offset=".793" stop-color="#4783b7"/><stop offset=".821" stop-color="#3c74a8"/><stop offset=".870" stop-color="#35699d"/><stop offset="1.000" stop-color="#316195"/></linearGradient><linearGradient id="g164" x1="0" y1="0" x2="0" y2="1"><stop offset=".000" stop-color="#93bcdb"/><stop offset=".353" stop-color="#cddfec"/><stop offset=".516" stop-color="#cddfec"/><stop offset=".696" stop-color="#a7c9e1"/><stop offset=".745" stop-color="#89b5d7"/><stop offset=".788" stop-color="#4b87ba"/><stop offset=".815" stop-color="#3d75a9"/><stop offset=".875" stop-color="#34699c"/><stop offset="1.000" stop-color="#316195"/></linearGradient><linearGradient id="g165" x1="0" y1="0" x2="0" y2="1"><stop offset=".000" stop-color="#91bbda"/><stop offset=".315" stop-color="#c1d8e9"/><stop offset=".386" stop-color="#c7dceb"/><stop offset=".522" stop-color="#c2d9e9"/><stop offset=".641" stop-color="#aecde4"/><stop offset=".701" stop-color="#9bc1dd"/><stop offset=".750" stop-color="#7cadd3"/><stop offset=".788" stop-color="#4985b8"/><stop offset=".810" stop-color="#3e76aa"/><stop offset=".864" stop-color="#35699d"/><stop offset="1.000" stop-color="#316195"/></linearGradient><linearGradient id="g166" x1="0" y1="0" x2="0" y2="1"><stop offset=".000" stop-color="#8fbad9"/><stop offset=".337" stop-color="#bcd5e8"/><stop offset=".527" stop-color="#b8d3e6"/><stop offset=".625" stop-color="#a9cae2"/><stop offset=".712" stop-color="#8eb9d9"/><stop offset=".750" stop-color="#76a9d0"/><stop offset=".788" stop-color="#4783b7"/><stop offset=".810" stop-color="#3d76aa"/><stop offset=".864" stop-color="#35699d"/><stop offset="1.000" stop-color="#316195"/></linearGradient><linearGradient id="g167" x1="0" y1="0" x2="0" y2="1"><stop offset=".000" stop-color="#8db8d9"/><stop offset=".293" stop-color="#b2d0e5"/><stop offset=".478" stop-color="#b4d1e5"/><stop offset=".609" stop-color="#a3c6e0"/><stop offset=".707" stop-color="#89b5d7"/><stop offset=".755" stop-color="#6ca1cc"/><stop offset=".788" stop-color="#4681b5"/><stop offset=".815" stop-color="#3b73a7"/><stop offset=".853" stop-color="#356a9e"/><stop offset="1.000" stop-color="#316195"/></linearGradient><linearGradient id="g168" x1="0" y1="0" x2="0" y2="1"><stop offset=".000" stop-color="#8bb7d8"/><stop offset=".288" stop-color="#accce3"/><stop offset=".484" stop-color="#accce3"/><stop offset=".636" stop-color="#95bddb"/><stop offset=".707" stop-color="#82b0d5"/><stop offset=".750" stop-color="#6da2cc"/><stop offset=".783" stop-color="#4884b8"/><stop offset=".810" stop-color="#3c74a8"/><stop offset=".859" stop-color="#35699d"/><stop offset="1.000" stop-color="#316295"/></linearGradient><linearGradient id="g169" x1="0" y1="0" x2="0" y2="1"><stop offset=".000" stop-color="#89b5d7"/><stop offset=".283" stop-color="#a6c8e1"/><stop offset=".462" stop-color="#a6c8e1"/><stop offset=".587" stop-color="#96bedb"/><stop offset=".723" stop-color="#76a9d0"/><stop offset=".755" stop-color="#659bc8"/><stop offset=".783" stop-color="#4783b7"/><stop offset=".815" stop-color="#3a71a5"/><stop offset="1.000" stop-color="#316295"/></linearGradient><linearGradient id="g170" x1="0" y1="0" x2="0" y2="1"><stop offset=".000" stop-color="#87b4d6"/><stop offset=".266" stop-color="#9fc4df"/><stop offset=".446" stop-color="#9fc4df"/><stop offset=".603" stop-color="#8cb7d8"/><stop offset=".728" stop-color="#6fa4cd"/><stop offset=".755" stop-color="#6299c6"/><stop offset=".783" stop-color="#4681b5"/><stop offset=".810" stop-color="#3b72a6"/><stop offset=".880" stop-color="#34679b"/><stop offset="1.000" stop-color="#316295"/></linearGradient><linearGradient id="g171" x1="0" y1="0" x2="0" y2="1"><stop offset=".000" stop-color="#84b2d5"/><stop offset=".283" stop-color="#9ac0dd"/><stop offset=".467" stop-color="#96bedc"/><stop offset=".625" stop-color="#82b0d5"/><stop offset=".728" stop-color="#6ba1cb"/><stop offset=".761" stop-color="#5a93c2"/><stop offset=".788" stop-color="#427cb0"/><stop offset=".821" stop-color="#386fa3"/><stop offset="1.000" stop-color="#316295"/></linearGradient><linearGradient id="g172" x1="0" y1="0" x2="0" y2="1"><stop offset=".000" stop-color="#82b1d5"/><stop offset=".266" stop-color="#94bcdb"/><stop offset=".446" stop-color="#91bada"/><stop offset=".620" stop-color="#7dadd3"/><stop offset=".728" stop-color="#689ec9"/><stop offset=".755" stop-color="#5b94c3"/><stop offset=".788" stop-color="#417baf"/><stop offset=".832" stop-color="#366ca0"/><stop offset="1.000" stop-color="#316295"/></linearGradient><linearGradient id="g173" x1="0" y1="0" x2="0" y2="1"><stop offset=".000" stop-color="#7fafd4"/><stop offset=".239" stop-color="#8eb8d9"/><stop offset=".440" stop-color="#8bb6d8"/><stop offset=".734" stop-color="#639ac7"/><stop offset=".788" stop-color="#407aae"/><stop offset=".837" stop-color="#356b9f"/><stop offset="1.000" stop-color="#316295"/></linearGradient><linearGradient id="g174" x1="0" y1="0" x2="0" y2="1"><stop offset=".000" stop-color="#7cadd3"/><stop offset=".234" stop-color="#89b5d7"/><stop offset=".440" stop-color="#85b2d6"/><stop offset=".701" stop-color="#669dc9"/><stop offset=".750" stop-color="#5992c1"/><stop offset=".783" stop-color="#427cb0"/><stop offset=".821" stop-color="#376da1"/><stop offset="1.000" stop-color="#316295"/></linearGradient><linearGradient id="g175" x1="0" y1="0" x2="0" y2="1"><stop offset=".000" stop-color="#7aabd2"/><stop offset=".353" stop-color="#84b2d5"/><stop offset=".620" stop-color="#6ea3cd"/><stop offset=".728" stop-color="#5e96c4"/><stop offset=".783" stop-color="#417baf"/><stop offset=".832" stop-color="#356b9f"/><stop offset="1.000" stop-color="#316195"/></linearGradient><linearGradient id="g176" x1="0" y1="0" x2="0" y2="1"><stop offset=".000" stop-color="#77a9d1"/><stop offset=".310" stop-color="#80afd4"/><stop offset=".565" stop-color="#6fa4cd"/><stop offset=".739" stop-color="#5891c1"/><stop offset=".783" stop-color="#407aae"/><stop offset=".815" stop-color="#376da1"/><stop offset="1.000" stop-color="#316195"/></linearGradient><linearGradient id="g177" x1="0" y1="0" x2="0" y2="1"><stop offset=".000" stop-color="#74a7d0"/><stop offset=".326" stop-color="#7bacd2"/><stop offset=".625" stop-color="#669dc9"/><stop offset=".734" stop-color="#5690c0"/><stop offset=".788" stop-color="#3d76aa"/><stop offset=".821" stop-color="#366ca0"/><stop offset="1.000" stop-color="#316195"/></linearGradient><linearGradient id="g178" x1="0" y1="0" x2="0" y2="1"><stop offset=".000" stop-color="#71a5cf"/><stop offset=".304" stop-color="#77a9d1"/><stop offset=".630" stop-color="#639ac7"/><stop offset=".745" stop-color="#508bbd"/><stop offset=".810" stop-color="#376da1"/><stop offset="1.000" stop-color="#316195"/></linearGradient><linearGradient id="g179" x1="0" y1="0" x2="0" y2="1"><stop offset=".000" stop-color="#6fa4cd"/><stop offset=".293" stop-color="#73a6cf"/><stop offset=".592" stop-color="#639ac7"/><stop offset=".728" stop-color="#528cbe"/><stop offset=".815" stop-color="#366ca0"/><stop offset="1.000" stop-color="#316195"/></linearGradient><linearGradient id="g180" x1="0" y1="0" x2="0" y2="1"><stop offset=".000" stop-color="#6da2cc"/><stop offset=".364" stop-color="#6ea2cd"/><stop offset=".647" stop-color="#5b94c3"/><stop offset=".750" stop-color="#4985b9"/><stop offset=".821" stop-color="#356b9f"/><stop offset="1.000" stop-color="#316195"/></linearGradient><linearGradient id="g181" x1="0" y1="0" x2="0" y2="1"><stop offset=".000" stop-color="#6ba0cb"/><stop offset=".326" stop-color="#6ca1cb"/><stop offset=".641" stop-color="#5992c1"/><stop offset=".745" stop-color="#4985b9"/><stop offset=".810" stop-color="#366ca0"/><stop offset="1.000" stop-color="#316195"/></linearGradient><linearGradient id="g182" x1="0" y1="0" x2="0" y2="1"><stop offset=".000" stop-color="#699eca"/><stop offset=".326" stop-color="#699eca"/><stop offset=".641" stop-color="#5690c0"/><stop offset=".755" stop-color="#4581b5"/><stop offset=".826" stop-color="#35699d"/><stop offset="1.000" stop-color="#316194"/></linearGradient><linearGradient id="g183" x1="0" y1="0" x2="0" y2="1"><stop offset=".000" stop-color="#669dc9"/><stop offset=".332" stop-color="#669cc8"/><stop offset=".636" stop-color="#548ebf"/><stop offset=".734" stop-color="#4884b8"/><stop offset=".815" stop-color="#356a9e"/><stop offset="1.000" stop-color="#316194"/></linearGradient><linearGradient id="g184" x1="0" y1="0" x2="0" y2="1"><stop offset=".000" stop-color="#649bc7"/><stop offset=".337" stop-color="#639ac7"/><stop offset=".652" stop-color="#508bbd"/><stop offset=".745" stop-color="#4681b5"/><stop offset=".821" stop-color="#35699d"/><stop offset="1.000" stop-color="#316194"/></linearGradient><linearGradient id="g185" x1="0" y1="0" x2="0" y2="1"><stop offset=".000" stop-color="#6299c6"/><stop offset=".348" stop-color="#6097c5"/><stop offset=".647" stop-color="#4e89bc"/><stop offset=".734" stop-color="#4681b5"/><stop offset=".821" stop-color="#35699d"/><stop offset="1.000" stop-color="#316194"/></linearGradient><linearGradient id="g186" x1="0" y1="0" x2="0" y2="1"><stop offset=".000" stop-color="#6097c5"/><stop offset=".359" stop-color="#5d95c3"/><stop offset=".658" stop-color="#4b86ba"/><stop offset=".734" stop-color="#4580b4"/><stop offset=".810" stop-color="#356a9e"/><stop offset="1.000" stop-color="#316194"/></linearGradient><linearGradient id="g187" x1="0" y1="0" x2="0" y2="1"><stop offset=".000" stop-color="#5e96c4"/><stop offset=".375" stop-color="#5a92c2"/><stop offset=".652" stop-color="#4985b9"/><stop offset=".739" stop-color="#437eb2"/><stop offset=".826" stop-color="#34689c"/><stop offset="1.000" stop-color="#316194"/></linearGradient><linearGradient id="g188" x1="0" y1="0" x2="0" y2="1"><stop offset=".000" stop-color="#5c94c3"/><stop offset=".332" stop-color="#5991c1"/><stop offset=".652" stop-color="#4884b8"/><stop offset=".739" stop-color="#437db1"/><stop offset=".815" stop-color="#35699d"/><stop offset="1.000" stop-color="#316094"/></linearGradient><linearGradient id="g189" x1="0" y1="0" x2="0" y2="1"><stop offset=".000" stop-color="#5a93c2"/><stop offset=".321" stop-color="#5790c0"/><stop offset=".625" stop-color="#4884b8"/><stop offset=".739" stop-color="#427cb0"/><stop offset=".815" stop-color="#35699d"/><stop offset="1.000" stop-color="#316094"/></linearGradient><linearGradient id="g190" x1="0" y1="0" x2="0" y2="1"><stop offset=".000" stop-color="#5891c1"/><stop offset=".310" stop-color="#558ebf"/><stop offset=".647" stop-color="#4682b6"/><stop offset=".739" stop-color="#417baf"/><stop offset=".821" stop-color="#34699c"/><stop offset="1.000" stop-color="#316094"/></linearGradient><linearGradient id="g191" x1="0" y1="0" x2="0" y2="1"><stop offset=".000" stop-color="#5690c0"/><stop offset=".641" stop-color="#4681b5"/><stop offset=".739" stop-color="#407aae"/><stop offset=".810" stop-color="#35699d"/><stop offset="1.000" stop-color="#316094"/></linearGradient><linearGradient id="g192" x1="0" y1="0" x2="0" y2="1"><stop offset=".000" stop-color="#548ebf"/><stop offset=".641" stop-color="#4580b4"/><stop offset=".739" stop-color="#4079ad"/><stop offset=".842" stop-color="#34679a"/><stop offset="1.000" stop-color="#316094"/></linearGradient><linearGradient id="g193" x1="0" y1="0" x2="0" y2="1"><stop offset=".000" stop-color="#538dbe"/><stop offset=".641" stop-color="#447fb3"/><stop offset=".755" stop-color="#3d76aa"/><stop offset=".842" stop-color="#33669a"/><stop offset="1.000" stop-color="#316094"/></linearGradient><linearGradient id="g194" x1="0" y1="0" x2="0" y2="1"><stop offset=".000" stop-color="#518bbd"/><stop offset=".641" stop-color="#437eb2"/><stop offset=".750" stop-color="#3e76aa"/><stop offset=".826" stop-color="#34689b"/><stop offset="1.000" stop-color="#316094"/></linearGradient><linearGradient id="g195" x1="0" y1="0" x2="0" y2="1"><stop offset=".000" stop-color="#4f8abc"/><stop offset=".647" stop-color="#437db1"/><stop offset=".837" stop-color="#34679a"/><stop offset="1.000" stop-color="#316094"/></linearGradient><linearGradient id="g196" x1="0" y1="0" x2="0" y2="1"><stop offset=".000" stop-color="#4e89bb"/><stop offset=".647" stop-color="#427cb0"/><stop offset=".837" stop-color="#33669a"/><stop offset="1.000" stop-color="#316093"/></linearGradient><linearGradient id="g197" x1="0" y1="0" x2="0" y2="1"><stop offset=".000" stop-color="#4c87ba"/><stop offset=".652" stop-color="#417baf"/><stop offset=".837" stop-color="#33669a"/><stop offset="1.000" stop-color="#316093"/></linearGradient><linearGradient id="g198" x1="0" y1="0" x2="0" y2="1"><stop offset=".000" stop-color="#4a86b9"/><stop offset=".630" stop-color="#417baf"/><stop offset=".837" stop-color="#33669a"/><stop offset="1.000" stop-color="#316093"/></linearGradient><linearGradient id="g199" x1="0" y1="0" x2="0" y2="1"><stop offset=".000" stop-color="#4985b9"/><stop offset=".636" stop-color="#407aae"/><stop offset=".837" stop-color="#33669a"/><stop offset="1.000" stop-color="#316093"/></linearGradient><linearGradient id="g200" x1="0" y1="0" x2="0" y2="1"><stop offset=".000" stop-color="#4884b8"/><stop offset=".647" stop-color="#4079ad"/><stop offset=".821" stop-color="#34679b"/><stop offset="1.000" stop-color="#316093"/></linearGradient><linearGradient id="g201" x1="0" y1="0" x2="0" y2="1"><stop offset=".000" stop-color="#4783b7"/><stop offset=".625" stop-color="#4079ad"/><stop offset="1.000" stop-color="#316093"/></linearGradient><linearGradient id="g202" x1="0" y1="0" x2="0" y2="1"><stop offset=".000" stop-color="#4782b6"/><stop offset=".647" stop-color="#3f78ac"/><stop offset=".832" stop-color="#33669a"/><stop offset="1.000" stop-color="#316093"/></linearGradient></defs><g shape-rendering="crispEdges"><rect x="35.40" y="260.50" width="2.50" height="184.00" fill="url(#g100)"/><rect x="37.40" y="260.50" width="2.50" height="184.00" fill="url(#g101)"/><rect x="39.40" y="260.50" width="2.50" height="184.00" fill="url(#g102)"/><rect x="41.40" y="260.50" width="2.50" height="184.00" fill="url(#g103)"/><rect x="43.40" y="260.50" width="2.50" height="184.00" fill="url(#g104)"/><rect x="45.40" y="260.50" width="2.50" height="184.00" fill="url(#g105)"/><rect x="47.40" y="260.50" width="2.50" height="184.00" fill="url(#g106)"/><rect x="49.40" y="260.50" width="2.50" height="184.00" fill="url(#g107)"/><rect x="51.40" y="260.50" width="2.50" height="184.00" fill="url(#g108)"/><rect x="53.40" y="260.50" width="2.50" height="184.00" fill="url(#g109)"/><rect x="55.40" y="260.50" width="2.50" height="184.00" fill="url(#g110)"/><rect x="57.40" y="260.50" width="2.50" height="184.00" fill="url(#g111)"/><rect x="59.40" y="260.50" width="2.50" height="184.00" fill="url(#g112)"/><rect x="61.40" y="260.50" width="2.50" height="184.00" fill="url(#g113)"/><rect x="63.40" y="260.50" width="2.50" height="184.00" fill="url(#g114)"/><rect x="65.40" y="260.50" width="2.50" height="184.00" fill="url(#g115)"/><rect x="67.40" y="260.50" width="2.50" height="184.00" fill="url(#g116)"/><rect x="69.40" y="260.50" width="2.50" height="184.00" fill="url(#g117)"/><rect x="71.40" y="260.50" width="2.50" height="184.00" fill="url(#g118)"/><rect x="73.40" y="260.50" width="2.50" height="184.00" fill="url(#g119)"/><rect x="75.40" y="260.50" width="2.50" height="184.00" fill="url(#g120)"/><rect x="77.40" y="260.50" width="2.50" height="184.00" fill="url(#g121)"/><rect x="79.40" y="260.50" width="2.50" height="184.00" fill="url(#g122)"/><rect x="81.40" y="260.50" width="2.50" height="184.00" fill="url(#g123)"/><rect x="83.40" y="260.50" width="2.50" height="184.00" fill="url(#g124)"/><rect x="85.40" y="260.50" width="2.50" height="184.00" fill="url(#g125)"/><rect x="87.40" y="260.50" width="2.50" height="184.00" fill="url(#g126)"/><rect x="89.40" y="260.50" width="2.50" height="184.00" fill="url(#g127)"/><rect x="91.40" y="260.50" width="2.50" height="184.00" fill="url(#g128)"/><rect x="93.40" y="260.50" width="2.50" height="184.00" fill="url(#g129)"/><rect x="95.40" y="260.50" width="2.50" height="184.00" fill="url(#g130)"/><rect x="97.40" y="260.50" width="2.50" height="184.00" fill="url(#g131)"/><rect x="99.40" y="260.50" width="2.50" height="184.00" fill="url(#g132)"/><rect x="101.40" y="260.50" width="2.50" height="184.00" fill="url(#g133)"/><rect x="103.40" y="260.50" width="2.50" height="184.00" fill="url(#g134)"/><rect x="105.40" y="260.50" width="2.50" height="184.00" fill="url(#g135)"/><rect x="107.40" y="260.50" width="2.50" height="184.00" fill="url(#g136)"/><rect x="109.40" y="260.50" width="2.50" height="184.00" fill="url(#g137)"/><rect x="111.40" y="260.50" width="2.50" height="184.00" fill="url(#g138)"/><rect x="113.40" y="260.50" width="2.50" height="184.00" fill="url(#g139)"/><rect x="115.40" y="260.50" width="2.50" height="184.00" fill="url(#g140)"/><rect x="117.40" y="260.50" width="2.50" height="184.00" fill="url(#g141)"/><rect x="119.40" y="260.50" width="2.50" height="184.00" fill="url(#g142)"/><rect x="121.40" y="260.50" width="2.50" height="184.00" fill="url(#g143)"/><rect x="123.40" y="260.50" width="2.50" height="184.00" fill="url(#g144)"/><rect x="125.40" y="260.50" width="2.50" height="184.00" fill="url(#g145)"/><rect x="127.40" y="260.50" width="2.50" height="184.00" fill="url(#g146)"/><rect x="129.40" y="260.50" width="2.50" height="184.00" fill="url(#g147)"/><rect x="131.40" y="260.50" width="2.50" height="184.00" fill="url(#g148)"/><rect x="133.40" y="260.50" width="2.50" height="184.00" fill="url(#g149)"/><rect x="135.40" y="260.50" width="2.50" height="184.00" fill="url(#g150)"/><rect x="137.40" y="260.50" width="2.50" height="184.00" fill="url(#g151)"/><rect x="139.40" y="260.50" width="2.50" height="184.00" fill="url(#g152)"/><rect x="141.40" y="260.50" width="2.50" height="184.00" fill="url(#g153)"/><rect x="143.40" y="260.50" width="2.50" height="184.00" fill="url(#g154)"/><rect x="145.40" y="260.50" width="2.50" height="184.00" fill="url(#g155)"/><rect x="147.40" y="260.50" width="2.50" height="184.00" fill="url(#g156)"/><rect x="149.40" y="260.50" width="2.50" height="184.00" fill="url(#g157)"/><rect x="151.40" y="260.50" width="2.50" height="184.00" fill="url(#g158)"/><rect x="153.40" y="260.50" width="2.50" height="184.00" fill="url(#g159)"/><rect x="155.40" y="260.50" width="2.50" height="184.00" fill="url(#g160)"/><rect x="157.40" y="260.50" width="2.50" height="184.00" fill="url(#g161)"/><rect x="159.40" y="260.50" width="2.50" height="184.00" fill="url(#g162)"/><rect x="161.40" y="260.50" width="2.50" height="184.00" fill="url(#g163)"/><rect x="163.40" y="260.50" width="2.50" height="184.00" fill="url(#g164)"/><rect x="165.40" y="260.50" width="2.50" height="184.00" fill="url(#g165)"/><rect x="167.40" y="260.50" width="2.50" height="184.00" fill="url(#g166)"/><rect x="169.40" y="260.50" width="2.50" height="184.00" fill="url(#g167)"/><rect x="171.40" y="260.50" width="2.50" height="184.00" fill="url(#g168)"/><rect x="173.40" y="260.50" width="2.50" height="184.00" fill="url(#g169)"/><rect x="175.40" y="260.50" width="2.50" height="184.00" fill="url(#g170)"/><rect x="177.40" y="260.50" width="2.50" height="184.00" fill="url(#g171)"/><rect x="179.40" y="260.50" width="2.50" height="184.00" fill="url(#g172)"/><rect x="181.40" y="260.50" width="2.50" height="184.00" fill="url(#g173)"/><rect x="183.40" y="260.50" width="2.50" height="184.00" fill="url(#g174)"/><rect x="185.40" y="260.50" width="2.50" height="184.00" fill="url(#g175)"/><rect x="187.40" y="260.50" width="2.50" height="184.00" fill="url(#g176)"/><rect x="189.40" y="260.50" width="2.50" height="184.00" fill="url(#g177)"/><rect x="191.40" y="260.50" width="2.50" height="184.00" fill="url(#g178)"/><rect x="193.40" y="260.50" width="2.50" height="184.00" fill="url(#g179)"/><rect x="195.40" y="260.50" width="2.50" height="184.00" fill="url(#g180)"/><rect x="197.40" y="260.50" width="2.50" height="184.00" fill="url(#g181)"/><rect x="199.40" y="260.50" width="2.50" height="184.00" fill="url(#g182)"/><rect x="201.40" y="260.50" width="2.50" height="184.00" fill="url(#g183)"/><rect x="203.40" y="260.50" width="2.50" height="184.00" fill="url(#g184)"/><rect x="205.40" y="260.50" width="2.50" height="184.00" fill="url(#g185)"/><rect x="207.40" y="260.50" width="2.50" height="184.00" fill="url(#g186)"/><rect x="209.40" y="260.50" width="2.50" height="184.00" fill="url(#g187)"/><rect x="211.40" y="260.50" width="2.50" height="184.00" fill="url(#g188)"/><rect x="213.40" y="260.50" width="2.50" height="184.00" fill="url(#g189)"/><rect x="215.40" y="260.50" width="2.50" height="184.00" fill="url(#g190)"/><rect x="217.40" y="260.50" width="2.50" height="184.00" fill="url(#g191)"/><rect x="219.40" y="260.50" width="2.50" height="184.00" fill="url(#g192)"/><rect x="221.40" y="260.50" width="2.50" height="184.00" fill="url(#g193)"/><rect x="223.40" y="260.50" width="2.50" height="184.00" fill="url(#g194)"/><rect x="225.40" y="260.50" width="2.50" height="184.00" fill="url(#g195)"/><rect x="227.40" y="260.50" width="2.50" height="184.00" fill="url(#g196)"/><rect x="229.40" y="260.50" width="2.50" height="184.00" fill="url(#g197)"/><rect x="231.40" y="260.50" width="2.50" height="184.00" fill="url(#g198)"/><rect x="233.40" y="260.50" width="2.50" height="184.00" fill="url(#g199)"/><rect x="235.40" y="260.50" width="2.50" height="184.00" fill="url(#g200)"/><rect x="237.40" y="260.50" width="2.50" height="184.00" fill="url(#g201)"/><rect x="239.40" y="260.50" width="0.60" height="184.00" fill="url(#g202)"/></g><path d="M85,261 C82,285 79.5,305 78.3,320 C77,335 75,348 75,358.7 C75,370 75.2,378 76.2,384.4 C77.5,390 79,394 81.4,397.3 C84,402 87,406 91.7,410.2 C96,414 100,417 104.6,418 C108,418.8 112,418.8 118,417.5 C125,416 132,413 140,409.8 C145,407.5 148,405.5 150,404.8 C156,403 163,402 169.2,400.8 C176,399.5 183,397.5 190,395.2 C196,393.5 201,392.5 206,391.2 C210,390 214,388.5 217.2,386.4 C220,384.5 222,382.5 223.6,380 C226,376 228,372.5 229,369.5 C232,365 234.5,360 236,355.6 C237.5,340 237.5,300 237.8,261" fill="none" stroke="#eeaa3a" stroke-width="1.3" stroke-dasharray="1.2,2.6"/><path d="M128,261 C122,290 112,325 107,352 C103,370 97,385 99,395 C101,402 106,402 115,401.5 C125,401 140,399.5 150,399 C165,399.5 185,402 196,405 C203,407 207,410 208.5,416 C210,422 207.5,428 207,434 C207,438 209,441 210.8,444.5" fill="none" stroke="#fff" stroke-width="1.4" stroke-dasharray="6.5,6.5"/><path d="M133,325.2 C127,325 124,328 121,333 C115,343 111,355 108.9,365.2 C106.5,374 104,381 104.3,386 C104.5,392 106,396 110,397 C116,398 122,393 126.6,387.5 C133,380 139,372 141.5,361.5 C143.5,352 143.5,340 141.5,333 C140,328 137,325 133,325.2 Z" fill="none" stroke="#1a1a1a" stroke-width="1.15" stroke-dasharray="4.5,2.2,1.2,2.2"/><polygon points="118.80,365.80 120.70,370.38 125.65,370.78 121.88,374.00 123.03,378.82 118.80,376.24 114.57,378.82 115.72,374.00 111.95,370.78 116.90,370.38" fill="#f5a83a"/><line x1="149.50" y1="340.80" x2="139.25" y2="344.33" stroke="#1a1a1a" stroke-width="1.10"/><polygon points="135.00,345.80 138.54,342.25 139.97,346.41" fill="#1a1a1a"/><path d="M139.09,277.47 C139.58,275.73 140.65,275.24 142.21,275.24 L148.45,275.24 M144.16,275.29 L143.57,281.40 C143.38,283.25 144.35,283.91 145.43,283.47 C146.01,283.25 146.30,282.82 146.50,282.27" fill="none" stroke="#fff" stroke-width="1.36" stroke-linecap="round"/><text x="149.50" y="287.50" font-size="10.50" text-anchor="start" font-family="Liberation Sans, sans-serif" fill="#fff" >TO</text><text x="164.70" y="282.80" font-size="12.00" text-anchor="start" font-family="Liberation Sans, sans-serif" fill="#fff" >&gt;</text><text x="173.30" y="282.90" font-size="15.50" text-anchor="start" font-family="Liberation Serif, serif" fill="#fff" >γ</text><text x="180.90" y="287.30" font-size="9.50" text-anchor="start" font-family="Liberation Sans, sans-serif" fill="#fff" >0</text><text x="182.90" y="277.50" font-size="9.20" text-anchor="start" font-family="Liberation Sans, sans-serif" fill="#fff" >-1</text><path d="M148.44,329.62 C148.86,328.05 149.78,327.61 151.12,327.61 L156.50,327.61 M152.80,327.66 L152.30,333.15 C152.13,334.81 152.97,335.40 153.90,335.01 C154.40,334.81 154.65,334.42 154.82,333.93" fill="none" stroke="#1a1a1a" stroke-width="1.22" stroke-linecap="round"/><text x="157.50" y="338.90" font-size="10.00" text-anchor="start" font-family="Liberation Sans, sans-serif" fill="#1a1a1a" >TO</text><text x="173.50" y="336.90" font-size="12.00" text-anchor="start" font-family="Liberation Sans, sans-serif" fill="#1a1a1a" >/</text><path d="M179.84,329.62 C180.26,328.05 181.18,327.61 182.52,327.61 L187.90,327.61 M184.20,327.66 L183.70,333.15 C183.53,334.81 184.37,335.40 185.30,335.01 C185.80,334.81 186.05,334.42 186.22,333.93" fill="none" stroke="#1a1a1a" stroke-width="1.22" stroke-linecap="round"/><text x="189.00" y="338.90" font-size="10.00" text-anchor="start" font-family="Liberation Sans, sans-serif" fill="#1a1a1a" >0</text><text x="197.40" y="335.50" font-size="11.50" text-anchor="start" font-family="Liberation Sans, sans-serif" fill="#1a1a1a" >&gt;</text><text x="204.70" y="335.80" font-size="13.30" text-anchor="start" font-family="Liberation Sans, sans-serif" fill="#1a1a1a" >10</text><path d="M155.94,369.52 C156.36,367.95 157.28,367.51 158.62,367.51 L164.00,367.51 M160.30,367.56 L159.80,373.05 C159.63,374.71 160.47,375.30 161.40,374.91 C161.90,374.71 162.15,374.32 162.32,373.83" fill="none" stroke="#f0a830" stroke-width="1.22" stroke-linecap="round"/><text x="165.00" y="378.80" font-size="10.00" text-anchor="start" font-family="Liberation Sans, sans-serif" fill="#f0a830" >TO</text><text x="181.00" y="376.80" font-size="12.00" text-anchor="start" font-family="Liberation Sans, sans-serif" fill="#f0a830" >/</text><path d="M187.34,369.52 C187.76,367.95 188.68,367.51 190.02,367.51 L195.40,367.51 M191.70,367.56 L191.20,373.05 C191.03,374.71 191.87,375.30 192.80,374.91 C193.30,374.71 193.55,374.32 193.72,373.83" fill="none" stroke="#f0a830" stroke-width="1.22" stroke-linecap="round"/><text x="196.50" y="378.80" font-size="10.00" text-anchor="start" font-family="Liberation Sans, sans-serif" fill="#f0a830" >0</text><text x="204.90" y="375.40" font-size="11.50" text-anchor="start" font-family="Liberation Sans, sans-serif" fill="#f0a830" >&gt;</text><text x="212.20" y="375.70" font-size="13.30" text-anchor="start" font-family="Liberation Sans, sans-serif" fill="#f0a830" >2</text><rect x="35.40" y="260.50" width="204.60" height="184.00" fill="none" stroke="#5a5a5a" stroke-width="0.90"/><line x1="35.40" y1="444.50" x2="35.40" y2="441.00" stroke="#444" stroke-width="0.8"/><line x1="35.40" y1="260.50" x2="35.40" y2="264.00" stroke="#444" stroke-width="0.8"/><line x1="66.20" y1="444.50" x2="66.20" y2="442.30" stroke="#444" stroke-width="0.8"/><line x1="66.20" y1="260.50" x2="66.20" y2="262.70" stroke="#444" stroke-width="0.8"/><line x1="84.21" y1="444.50" x2="84.21" y2="442.30" stroke="#444" stroke-width="0.8"/><line x1="84.21" y1="260.50" x2="84.21" y2="262.70" stroke="#444" stroke-width="0.8"/><line x1="96.99" y1="444.50" x2="96.99" y2="442.30" stroke="#444" stroke-width="0.8"/><line x1="96.99" y1="260.50" x2="96.99" y2="262.70" stroke="#444" stroke-width="0.8"/><line x1="106.90" y1="444.50" x2="106.90" y2="442.30" stroke="#444" stroke-width="0.8"/><line x1="106.90" y1="260.50" x2="106.90" y2="262.70" stroke="#444" stroke-width="0.8"/><line x1="115.00" y1="444.50" x2="115.00" y2="442.30" stroke="#444" stroke-width="0.8"/><line x1="115.00" y1="260.50" x2="115.00" y2="262.70" stroke="#444" stroke-width="0.8"/><line x1="121.85" y1="444.50" x2="121.85" y2="442.30" stroke="#444" stroke-width="0.8"/><line x1="121.85" y1="260.50" x2="121.85" y2="262.70" stroke="#444" stroke-width="0.8"/><line x1="127.79" y1="444.50" x2="127.79" y2="442.30" stroke="#444" stroke-width="0.8"/><line x1="127.79" y1="260.50" x2="127.79" y2="262.70" stroke="#444" stroke-width="0.8"/><line x1="133.02" y1="444.50" x2="133.02" y2="442.30" stroke="#444" stroke-width="0.8"/><line x1="133.02" y1="260.50" x2="133.02" y2="262.70" stroke="#444" stroke-width="0.8"/><line x1="137.70" y1="444.50" x2="137.70" y2="441.00" stroke="#444" stroke-width="0.8"/><line x1="137.70" y1="260.50" x2="137.70" y2="264.00" stroke="#444" stroke-width="0.8"/><line x1="168.50" y1="444.50" x2="168.50" y2="442.30" stroke="#444" stroke-width="0.8"/><line x1="168.50" y1="260.50" x2="168.50" y2="262.70" stroke="#444" stroke-width="0.8"/><line x1="186.51" y1="444.50" x2="186.51" y2="442.30" stroke="#444" stroke-width="0.8"/><line x1="186.51" y1="260.50" x2="186.51" y2="262.70" stroke="#444" stroke-width="0.8"/><line x1="199.29" y1="444.50" x2="199.29" y2="442.30" stroke="#444" stroke-width="0.8"/><line x1="199.29" y1="260.50" x2="199.29" y2="262.70" stroke="#444" stroke-width="0.8"/><line x1="209.20" y1="444.50" x2="209.20" y2="442.30" stroke="#444" stroke-width="0.8"/><line x1="209.20" y1="260.50" x2="209.20" y2="262.70" stroke="#444" stroke-width="0.8"/><line x1="217.30" y1="444.50" x2="217.30" y2="442.30" stroke="#444" stroke-width="0.8"/><line x1="217.30" y1="260.50" x2="217.30" y2="262.70" stroke="#444" stroke-width="0.8"/><line x1="224.15" y1="444.50" x2="224.15" y2="442.30" stroke="#444" stroke-width="0.8"/><line x1="224.15" y1="260.50" x2="224.15" y2="262.70" stroke="#444" stroke-width="0.8"/><line x1="230.09" y1="444.50" x2="230.09" y2="442.30" stroke="#444" stroke-width="0.8"/><line x1="230.09" y1="260.50" x2="230.09" y2="262.70" stroke="#444" stroke-width="0.8"/><line x1="235.32" y1="444.50" x2="235.32" y2="442.30" stroke="#444" stroke-width="0.8"/><line x1="235.32" y1="260.50" x2="235.32" y2="262.70" stroke="#444" stroke-width="0.8"/><line x1="240.00" y1="444.50" x2="240.00" y2="441.00" stroke="#444" stroke-width="0.8"/><line x1="240.00" y1="260.50" x2="240.00" y2="264.00" stroke="#444" stroke-width="0.8"/><line x1="35.40" y1="405.76" x2="37.90" y2="405.76" stroke="#444" stroke-width="0.8"/><line x1="240.00" y1="405.76" x2="237.50" y2="405.76" stroke="#444" stroke-width="0.8"/><text x="31.50" y="410.06" font-size="12.00" text-anchor="end" font-family="Liberation Sans, sans-serif" fill="#1a1a1a" >5</text><line x1="35.40" y1="357.34" x2="37.90" y2="357.34" stroke="#444" stroke-width="0.8"/><line x1="240.00" y1="357.34" x2="237.50" y2="357.34" stroke="#444" stroke-width="0.8"/><text x="31.50" y="361.64" font-size="12.00" text-anchor="end" font-family="Liberation Sans, sans-serif" fill="#1a1a1a" >10</text><line x1="35.40" y1="308.92" x2="37.90" y2="308.92" stroke="#444" stroke-width="0.8"/><line x1="240.00" y1="308.92" x2="237.50" y2="308.92" stroke="#444" stroke-width="0.8"/><text x="31.50" y="313.22" font-size="12.00" text-anchor="end" font-family="Liberation Sans, sans-serif" fill="#1a1a1a" >15</text><line x1="35.40" y1="260.50" x2="37.90" y2="260.50" stroke="#444" stroke-width="0.8"/><line x1="240.00" y1="260.50" x2="237.50" y2="260.50" stroke="#444" stroke-width="0.8"/><text x="31.50" y="264.80" font-size="12.00" text-anchor="end" font-family="Liberation Sans, sans-serif" fill="#1a1a1a" >20</text><text x="36.40" y="461.80" font-size="12.00" text-anchor="middle" font-family="Liberation Sans, sans-serif" fill="#1a1a1a" >10<tspan font-size="9" dy="-6">3</tspan></text><text x="138.70" y="461.80" font-size="12.00" text-anchor="middle" font-family="Liberation Sans, sans-serif" fill="#1a1a1a" >10<tspan font-size="9" dy="-6">4</tspan></text><text x="241.00" y="461.80" font-size="12.00" text-anchor="middle" font-family="Liberation Sans, sans-serif" fill="#1a1a1a" >10<tspan font-size="9" dy="-6">5</tspan></text><defs><linearGradient id="cb2765" x1="0" y1="1" x2="0" y2="0"><stop offset="0.0000" stop-color="#254070"/><stop offset="0.0357" stop-color="#284a7c"/><stop offset="0.0714" stop-color="#2c5588"/><stop offset="0.1071" stop-color="#306093"/><stop offset="0.1429" stop-color="#356a9e"/><stop offset="0.1786" stop-color="#3e77ab"/><stop offset="0.2143" stop-color="#4884b8"/><stop offset="0.2500" stop-color="#5d95c4"/><stop offset="0.2857" stop-color="#72a6cf"/><stop offset="0.3214" stop-color="#8db8d8"/><stop offset="0.3571" stop-color="#a8cae2"/><stop offset="0.3929" stop-color="#bdd6e8"/><stop offset="0.4286" stop-color="#d2e2ee"/><stop offset="0.4643" stop-color="#dde2e8"/><stop offset="0.5000" stop-color="#e8e2e2"/><stop offset="0.5357" stop-color="#eed6d0"/><stop offset="0.5714" stop-color="#f3cbbd"/><stop offset="0.6071" stop-color="#f0b8a8"/><stop offset="0.6429" stop-color="#eca693"/><stop offset="0.6786" stop-color="#e39180"/><stop offset="0.7143" stop-color="#da7c6c"/><stop offset="0.7500" stop-color="#d0695f"/><stop offset="0.7857" stop-color="#c65652"/><stop offset="0.8214" stop-color="#ba4648"/><stop offset="0.8571" stop-color="#ad363e"/><stop offset="0.8929" stop-color="#9e2d38"/><stop offset="0.9286" stop-color="#8f2433"/><stop offset="0.9643" stop-color="#80202f"/><stop offset="1.0000" stop-color="#701b2b"/></linearGradient></defs><rect x="250.40" y="261.00" width="12.20" height="183.50" fill="url(#cb2765)"/><rect x="250.40" y="261.00" width="12.20" height="183.50" fill="none" stroke="#777" stroke-width="0.7"/><text x="266.60" y="448.30" font-size="10.80" text-anchor="start" font-family="Liberation Sans, sans-serif" fill="#1a1a1a" >0</text><line x1="262.60" y1="418.29" x2="260.10" y2="418.29" stroke="#333" stroke-width="0.8"/><text x="266.60" y="422.09" font-size="10.80" text-anchor="start" font-family="Liberation Sans, sans-serif" fill="#1a1a1a" >2</text><line x1="262.60" y1="392.07" x2="260.10" y2="392.07" stroke="#333" stroke-width="0.8"/><text x="266.60" y="395.87" font-size="10.80" text-anchor="start" font-family="Liberation Sans, sans-serif" fill="#1a1a1a" >4</text><line x1="262.60" y1="365.86" x2="260.10" y2="365.86" stroke="#333" stroke-width="0.8"/><text x="266.60" y="369.66" font-size="10.80" text-anchor="start" font-family="Liberation Sans, sans-serif" fill="#1a1a1a" >6</text><line x1="262.60" y1="339.64" x2="260.10" y2="339.64" stroke="#333" stroke-width="0.8"/><text x="266.60" y="343.44" font-size="10.80" text-anchor="start" font-family="Liberation Sans, sans-serif" fill="#1a1a1a" >8</text><line x1="262.60" y1="313.43" x2="260.10" y2="313.43" stroke="#333" stroke-width="0.8"/><text x="266.60" y="317.23" font-size="10.80" text-anchor="start" font-family="Liberation Sans, sans-serif" fill="#1a1a1a" >10</text><line x1="262.60" y1="287.21" x2="260.10" y2="287.21" stroke="#333" stroke-width="0.8"/><text x="266.60" y="291.01" font-size="10.80" text-anchor="start" font-family="Liberation Sans, sans-serif" fill="#1a1a1a" >12</text><text x="266.60" y="264.80" font-size="10.80" text-anchor="start" font-family="Liberation Sans, sans-serif" fill="#1a1a1a" >14</text><path d="M114.38,246.96 C114.86,245.35 115.90,244.89 117.42,244.89 L123.50,244.89 M119.32,244.94 L118.75,250.58 C118.56,252.30 119.51,252.90 120.56,252.50 C121.13,252.30 121.41,251.89 121.60,251.39" fill="none" stroke="#1a1a1a" stroke-width="1.26" stroke-linecap="round"/><text x="124.30" y="255.50" font-size="9.80" text-anchor="start" font-family="Liberation Sans, sans-serif" fill="#1a1a1a" >TO</text><text x="141.90" y="253.20" font-size="10.50" text-anchor="start" font-family="Liberation Sans, sans-serif" fill="#1a1a1a" >/</text><path d="M146.63,246.96 C147.05,245.35 147.96,244.89 149.28,244.89 L154.58,244.89 M150.94,244.94 L150.44,250.58 C150.27,252.30 151.10,252.90 152.01,252.50 C152.51,252.30 152.76,251.89 152.92,251.39" fill="none" stroke="#1a1a1a" stroke-width="1.26" stroke-linecap="round"/><text x="156.10" y="255.50" font-size="9.80" text-anchor="start" font-family="Liberation Sans, sans-serif" fill="#1a1a1a" >0</text><text x="268.00" y="251.10" font-size="15.00" text-anchor="start" font-family="Liberation Sans, sans-serif" fill="#1a1a1a" >(c)</text><text x="113.30" y="476.20" font-size="13.60" text-anchor="start" font-family="Liberation Sans, sans-serif" fill="#1a1a1a" font-style="italic">Q</text><text x="128.00" y="476.20" font-size="13.60" text-anchor="start" font-family="Liberation Sans, sans-serif" fill="#1a1a1a" letter-spacing="-0.2">factor</text><text transform="translate(12.8,358.6) rotate(-90)" font-size="14.5" text-anchor="middle" font-family="Liberation Sans, sans-serif" fill="#1a1a1a">J<tspan font-size="10" dy="3">0</tspan><tspan dy="-3"> / </tspan><tspan font-family="Liberation Serif, serif">Γ</tspan></text><rect x="324.80" y="260.50" width="24.32" height="184.30" fill="#cde9e1"/><text transform="translate(340.2,348.2) rotate(-90)" font-size="11.1" letter-spacing="-0.22" text-anchor="middle" font-family="Liberation Sans, sans-serif" fill="#3fb28a">Strong coupling with bulk states</text><defs><clipPath id="dclip"><rect x="324.80" y="256.50" width="248.20" height="192.30"/></clipPath></defs><polyline points="349.12,350.50 373.44,401.49 397.76,421.76 422.08,432.51 446.40,436.81 470.72,439.58 495.04,441.11 519.36,441.73 543.68,442.65 568.00,443.26" fill="none" stroke="#a8a8a8" stroke-width="1.20" stroke-dasharray="1.6,2.2" clip-path="url(#dclip)"/><circle cx="349.12" cy="350.50" r="3.10" fill="#fff" stroke="#a8a8a8" stroke-width="1.25"/><circle cx="373.44" cy="401.49" r="3.10" fill="#fff" stroke="#a8a8a8" stroke-width="1.25"/><circle cx="397.76" cy="421.76" r="3.10" fill="#fff" stroke="#a8a8a8" stroke-width="1.25"/><circle cx="422.08" cy="432.51" r="3.10" fill="#fff" stroke="#a8a8a8" stroke-width="1.25"/><circle cx="446.40" cy="436.81" r="3.10" fill="#fff" stroke="#a8a8a8" stroke-width="1.25"/><circle cx="470.72" cy="439.58" r="3.10" fill="#fff" stroke="#a8a8a8" stroke-width="1.25"/><circle cx="495.04" cy="441.11" r="3.10" fill="#fff" stroke="#a8a8a8" stroke-width="1.25"/><circle cx="519.36" cy="441.73" r="3.10" fill="#fff" stroke="#a8a8a8" stroke-width="1.25"/><circle cx="543.68" cy="442.65" r="3.10" fill="#fff" stroke="#a8a8a8" stroke-width="1.25"/><circle cx="568.00" cy="443.26" r="3.10" fill="#fff" stroke="#a8a8a8" stroke-width="1.25"/><polyline points="349.12,185.24 373.44,284.15 397.76,355.72 422.08,393.81 446.40,413.47 470.72,424.53 495.04,431.59 519.36,434.97 543.68,437.74 568.00,439.58" fill="none" stroke="#b3b3b3" stroke-width="1.50" clip-path="url(#dclip)"/><circle cx="373.44" cy="284.15" r="3.30" fill="#b3b3b3"/><circle cx="397.76" cy="355.72" r="3.30" fill="#b3b3b3"/><circle cx="422.08" cy="393.81" r="3.30" fill="#b3b3b3"/><circle cx="446.40" cy="413.47" r="3.30" fill="#b3b3b3"/><circle cx="470.72" cy="424.53" r="3.30" fill="#b3b3b3"/><circle cx="495.04" cy="431.59" r="3.30" fill="#b3b3b3"/><circle cx="519.36" cy="434.97" r="3.30" fill="#b3b3b3"/><circle cx="543.68" cy="437.74" r="3.30" fill="#b3b3b3"/><circle cx="568.00" cy="439.58" r="3.30" fill="#b3b3b3"/><polyline points="349.12,425.76 373.44,443.88 397.76,438.96 422.08,429.44 446.40,417.46 470.72,407.94 495.04,399.65 519.36,391.35 543.68,383.98 568.00,378.45" fill="none" stroke="#e04a72" stroke-width="1.50" stroke-dasharray="1.6,2.2" clip-path="url(#dclip)"/><circle cx="349.12" cy="425.76" r="3.10" fill="#fff" stroke="#e04a72" stroke-width="1.25"/><circle cx="373.44" cy="443.88" r="3.10" fill="#fff" stroke="#e04a72" stroke-width="1.25"/><circle cx="397.76" cy="438.96" r="3.10" fill="#fff" stroke="#e04a72" stroke-width="1.25"/><circle cx="422.08" cy="429.44" r="3.10" fill="#fff" stroke="#e04a72" stroke-width="1.25"/><circle cx="446.40" cy="417.46" r="3.10" fill="#fff" stroke="#e04a72" stroke-width="1.25"/><circle cx="470.72" cy="407.94" r="3.10" fill="#fff" stroke="#e04a72" stroke-width="1.25"/><circle cx="495.04" cy="399.65" r="3.10" fill="#fff" stroke="#e04a72" stroke-width="1.25"/><circle cx="519.36" cy="391.35" r="3.10" fill="#fff" stroke="#e04a72" stroke-width="1.25"/><circle cx="543.68" cy="383.98" r="3.10" fill="#fff" stroke="#e04a72" stroke-width="1.25"/><circle cx="568.00" cy="378.45" r="3.10" fill="#fff" stroke="#e04a72" stroke-width="1.25"/><polyline points="349.12,364.02 373.44,340.06 397.76,325.62 422.08,316.40 446.40,310.57 470.72,306.27 495.04,303.50 519.36,301.66 543.68,299.82 568.00,298.59" fill="none" stroke="#2f5584" stroke-width="1.50" stroke-dasharray="1.6,2.2" clip-path="url(#dclip)"/><circle cx="349.12" cy="364.02" r="3.10" fill="#fff" stroke="#2f5584" stroke-width="1.25"/><circle cx="373.44" cy="340.06" r="3.10" fill="#fff" stroke="#2f5584" stroke-width="1.25"/><circle cx="397.76" cy="325.62" r="3.10" fill="#fff" stroke="#2f5584" stroke-width="1.25"/><circle cx="422.08" cy="316.40" r="3.10" fill="#fff" stroke="#2f5584" stroke-width="1.25"/><circle cx="446.40" cy="310.57" r="3.10" fill="#fff" stroke="#2f5584" stroke-width="1.25"/><circle cx="470.72" cy="306.27" r="3.10" fill="#fff" stroke="#2f5584" stroke-width="1.25"/><circle cx="495.04" cy="303.50" r="3.10" fill="#fff" stroke="#2f5584" stroke-width="1.25"/><circle cx="519.36" cy="301.66" r="3.10" fill="#fff" stroke="#2f5584" stroke-width="1.25"/><circle cx="543.68" cy="299.82" r="3.10" fill="#fff" stroke="#2f5584" stroke-width="1.25"/><circle cx="568.00" cy="298.59" r="3.10" fill="#fff" stroke="#2f5584" stroke-width="1.25"/><polyline points="349.12,422.38 373.44,389.82 397.76,362.48 422.08,344.05 446.40,332.07 470.72,323.16 495.04,317.02 519.36,312.72 543.68,309.03 568.00,306.27" fill="none" stroke="#2f5584" stroke-width="1.70" clip-path="url(#dclip)"/><circle cx="349.12" cy="422.38" r="3.30" fill="#2f5584"/><circle cx="373.44" cy="389.82" r="3.30" fill="#2f5584"/><circle cx="397.76" cy="362.48" r="3.30" fill="#2f5584"/><circle cx="422.08" cy="344.05" r="3.30" fill="#2f5584"/><circle cx="446.40" cy="332.07" r="3.30" fill="#2f5584"/><circle cx="470.72" cy="323.16" r="3.30" fill="#2f5584"/><circle cx="495.04" cy="317.02" r="3.30" fill="#2f5584"/><circle cx="519.36" cy="312.72" r="3.30" fill="#2f5584"/><circle cx="543.68" cy="309.03" r="3.30" fill="#2f5584"/><circle cx="568.00" cy="306.27" r="3.30" fill="#2f5584"/><polyline points="349.12,260.50 373.44,377.22 397.76,428.52 422.08,443.26 446.40,443.88 470.72,437.12 495.04,429.44 519.36,421.46 543.68,413.47 568.00,406.40" fill="none" stroke="#e04a72" stroke-width="1.50" clip-path="url(#dclip)"/><circle cx="349.12" cy="260.50" r="3.30" fill="#e04a72"/><circle cx="373.44" cy="377.22" r="3.30" fill="#e04a72"/><circle cx="397.76" cy="428.52" r="3.30" fill="#e04a72"/><circle cx="422.08" cy="443.26" r="3.30" fill="#e04a72"/><circle cx="446.40" cy="443.88" r="3.30" fill="#e04a72"/><circle cx="470.72" cy="437.12" r="3.30" fill="#e04a72"/><circle cx="495.04" cy="429.44" r="3.30" fill="#e04a72"/><circle cx="519.36" cy="421.46" r="3.30" fill="#e04a72"/><circle cx="543.68" cy="413.47" r="3.30" fill="#e04a72"/><circle cx="568.00" cy="406.40" r="3.30" fill="#e04a72"/><line x1="324.80" y1="444.80" x2="568.00" y2="444.80" stroke="#a8a8a8" stroke-width="1.6"/><line x1="324.80" y1="260.50" x2="324.80" y2="444.80" stroke="#a8a8a8" stroke-width="1.6"/><line x1="324.80" y1="260.50" x2="568.00" y2="260.50" stroke="#888" stroke-width="1"/><line x1="568.00" y1="260.50" x2="568.00" y2="444.80" stroke="#555" stroke-width="0.9"/><line x1="324.80" y1="444.80" x2="324.80" y2="442.30" stroke="#555" stroke-width="0.8"/><line x1="324.80" y1="260.50" x2="324.80" y2="263.00" stroke="#555" stroke-width="0.8"/><text x="324.80" y="459.00" font-size="12.00" text-anchor="middle" font-family="Liberation Sans, sans-serif" fill="#1a1a1a" >4</text><line x1="373.44" y1="444.80" x2="373.44" y2="442.30" stroke="#555" stroke-width="0.8"/><line x1="373.44" y1="260.50" x2="373.44" y2="263.00" stroke="#555" stroke-width="0.8"/><text x="373.44" y="459.00" font-size="12.00" text-anchor="middle" font-family="Liberation Sans, sans-serif" fill="#1a1a1a" >6</text><line x1="422.08" y1="444.80" x2="422.08" y2="442.30" stroke="#555" stroke-width="0.8"/><line x1="422.08" y1="260.50" x2="422.08" y2="263.00" stroke="#555" stroke-width="0.8"/><text x="422.08" y="459.00" font-size="12.00" text-anchor="middle" font-family="Liberation Sans, sans-serif" fill="#1a1a1a" >8</text><line x1="470.72" y1="444.80" x2="470.72" y2="442.30" stroke="#555" stroke-width="0.8"/><line x1="470.72" y1="260.50" x2="470.72" y2="263.00" stroke="#555" stroke-width="0.8"/><text x="470.72" y="459.00" font-size="12.00" text-anchor="middle" font-family="Liberation Sans, sans-serif" fill="#1a1a1a" >10</text><line x1="519.36" y1="444.80" x2="519.36" y2="442.30" stroke="#555" stroke-width="0.8"/><line x1="519.36" y1="260.50" x2="519.36" y2="263.00" stroke="#555" stroke-width="0.8"/><text x="519.36" y="459.00" font-size="12.00" text-anchor="middle" font-family="Liberation Sans, sans-serif" fill="#1a1a1a" >12</text><line x1="568.00" y1="444.80" x2="568.00" y2="442.30" stroke="#555" stroke-width="0.8"/><line x1="568.00" y1="260.50" x2="568.00" y2="263.00" stroke="#555" stroke-width="0.8"/><text x="568.00" y="459.00" font-size="12.00" text-anchor="middle" font-family="Liberation Sans, sans-serif" fill="#1a1a1a" >14</text><line x1="324.80" y1="444.80" x2="327.30" y2="444.80" stroke="#555" stroke-width="0.8"/><line x1="568.00" y1="444.80" x2="565.50" y2="444.80" stroke="#555" stroke-width="0.8"/><text x="320.00" y="449.10" font-size="12.00" text-anchor="end" font-family="Liberation Sans, sans-serif" fill="#1a1a1a" >0</text><line x1="324.80" y1="383.37" x2="327.30" y2="383.37" stroke="#555" stroke-width="0.8"/><line x1="568.00" y1="383.37" x2="565.50" y2="383.37" stroke="#555" stroke-width="0.8"/><text x="320.00" y="387.67" font-size="12.00" text-anchor="end" font-family="Liberation Sans, sans-serif" fill="#1a1a1a" >0.2</text><line x1="324.80" y1="321.93" x2="327.30" y2="321.93" stroke="#555" stroke-width="0.8"/><line x1="568.00" y1="321.93" x2="565.50" y2="321.93" stroke="#555" stroke-width="0.8"/><text x="320.00" y="326.23" font-size="12.00" text-anchor="end" font-family="Liberation Sans, sans-serif" fill="#1a1a1a" >0.4</text><line x1="324.80" y1="260.50" x2="327.30" y2="260.50" stroke="#555" stroke-width="0.8"/><line x1="568.00" y1="260.50" x2="565.50" y2="260.50" stroke="#555" stroke-width="0.8"/><text x="320.00" y="264.80" font-size="12.00" text-anchor="end" font-family="Liberation Sans, sans-serif" fill="#1a1a1a" >0.6</text><text x="341.30" y="459.00" font-size="11.50" text-anchor="start" font-family="Liberation Sans, sans-serif" fill="#1a1a1a" font-style="italic">J</text><text x="347.60" y="461.20" font-size="8.60" text-anchor="start" font-family="Liberation Sans, sans-serif" fill="#1a1a1a" >0</text><text x="348.30" y="453.20" font-size="9.60" text-anchor="start" font-family="Liberation Sans, sans-serif" fill="#1a1a1a" >c</text><text x="382.00" y="284.20" font-size="10.25" text-anchor="start" font-family="Liberation Sans, sans-serif" fill="#a8a8a8" font-weight="bold">Even-polarized radiating mode</text><text transform="translate(444,356) rotate(-17)" font-size="10.5" font-weight="bold" font-family="Liberation Sans, sans-serif" fill="#2f5584">Cavity modes</text><text transform="translate(427.5,408.5) rotate(-19.8)" font-size="10.35" font-weight="bold" font-family="Liberation Sans, sans-serif" fill="#e04a72">Odd-polarized radiating mode</text><text x="556.00" y="251.10" font-size="15.00" text-anchor="start" font-family="Liberation Sans, sans-serif" fill="#1a1a1a" >(d)</text><text x="446.00" y="477.00" font-size="14.00" text-anchor="middle" font-family="Liberation Sans, sans-serif" fill="#1a1a1a" >J<tspan font-size="10" dy="3">0</tspan><tspan dy="-3"> / </tspan><tspan font-family="Liberation Serif, serif">Γ</tspan></text><text transform="translate(299.3,350.5) rotate(-90)" font-size="14.4" text-anchor="middle" font-family="Liberation Sans, sans-serif" fill="#1a1a1a">Dissipation rate / <tspan font-family="Liberation Serif, serif" font-style="italic">γ</tspan><tspan font-size="9" dy="3">0</tspan></text></svg></body></html>
